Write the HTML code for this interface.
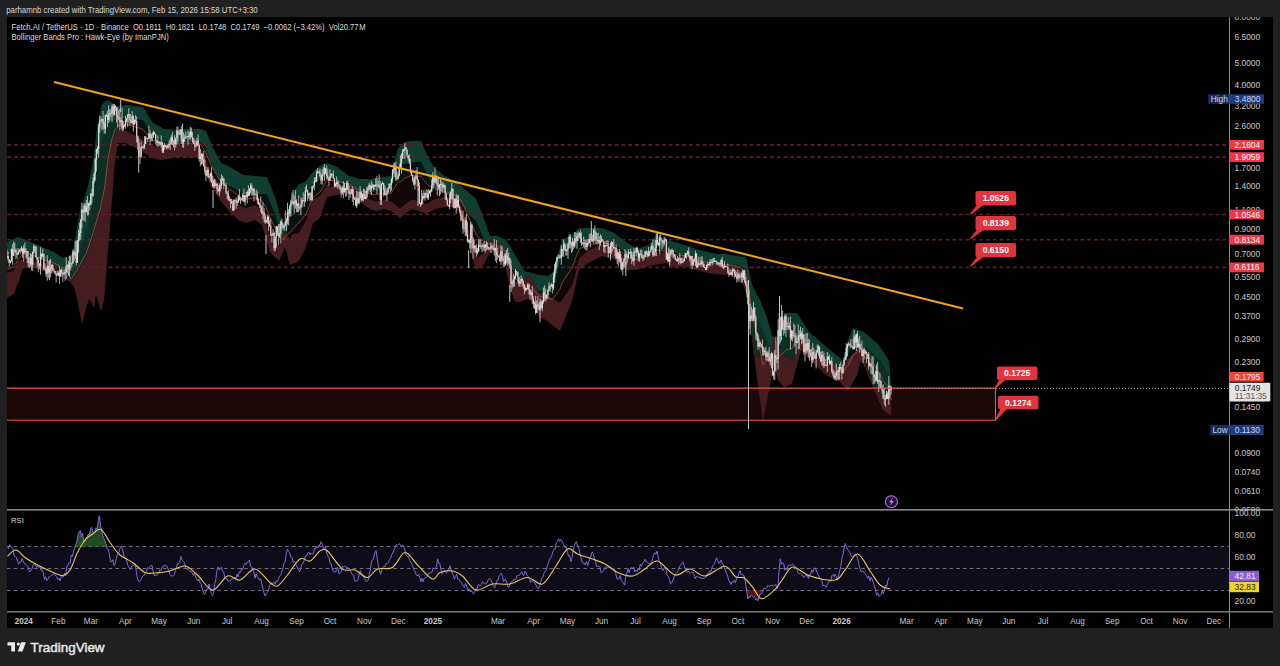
<!DOCTYPE html>
<html><head><meta charset="utf-8"><style>
html,body{margin:0;padding:0;background:#202020;width:1280px;height:666px;overflow:hidden}
svg{display:block}
text{font-family:"Liberation Sans",sans-serif}
</style></head><body>
<svg width="1280" height="666" viewBox="0 0 1280 666">
<rect x="0" y="0" width="1280" height="666" fill="#202020"/>
<rect x="7" y="17" width="1266" height="611" fill="#000"/>
<text x="6.2" y="13.1" font-size="8.3" fill="#d6d6d6" textLength="251.5" lengthAdjust="spacingAndGlyphs">parhamnb created with TradingView.com, Feb 15, 2026 15:58 UTC+3:30</text>
<defs>
<clipPath id="main"><rect x="7" y="17" width="1222" height="493"/></clipPath>
<clipPath id="dk"><rect x="60" y="17" width="60" height="400"/><rect x="745" y="17" width="60" height="400"/><rect x="858" y="17" width="40" height="400"/></clipPath>
<clipPath id="rsi"><rect x="7" y="511" width="1222" height="100"/></clipPath>
<linearGradient id="ob" x1="0" y1="0" x2="0" y2="1"><stop offset="0" stop-color="#4a8a5a" stop-opacity="0.35"/><stop offset="1" stop-color="#2a6a2a" stop-opacity="0.75"/></linearGradient><linearGradient id="os" x1="0" y1="0" x2="0" y2="1"><stop offset="0" stop-color="#8a2020" stop-opacity="0.7"/><stop offset="1" stop-color="#8a2020" stop-opacity="0.2"/></linearGradient>
</defs>
<g clip-path="url(#main)">
<rect x="7" y="388.1" width="988.5" height="32.2" fill="#1c0808"/>
<path d="M7.0,242.0 L7.8,241.7 L8.5,241.3 L9.2,241.0 L10.0,240.6 L10.8,240.3 L11.5,240.0 L12.2,239.6 L13.0,239.3 L13.8,238.9 L14.5,238.6 L15.2,238.2 L16.0,237.9 L16.8,237.6 L17.5,237.2 L18.2,237.1 L19.0,237.4 L19.8,237.7 L20.5,238.0 L21.2,238.3 L22.0,238.6 L22.8,238.9 L23.5,239.2 L24.2,239.5 L25.0,239.8 L25.8,240.1 L26.5,240.4 L27.2,240.7 L28.0,241.0 L28.8,241.3 L29.5,241.6 L30.2,242.0 L31.0,242.3 L31.8,242.6 L32.5,242.9 L33.2,243.2 L34.0,243.6 L34.8,243.9 L35.5,244.2 L36.2,244.5 L37.0,244.9 L37.8,245.2 L38.5,245.5 L39.2,245.8 L40.0,246.1 L40.8,246.5 L41.5,246.8 L42.2,247.1 L43.0,247.4 L43.8,247.7 L44.5,248.0 L45.2,248.4 L46.0,248.7 L46.8,249.0 L47.5,249.3 L48.2,249.6 L49.0,249.9 L49.8,250.2 L50.5,250.5 L51.2,250.9 L52.0,251.2 L52.8,251.5 L53.5,251.8 L54.2,252.2 L55.0,252.7 L55.8,253.2 L56.5,253.7 L57.2,254.2 L58.0,254.7 L58.8,255.2 L59.5,255.7 L60.2,256.2 L61.0,256.7 L61.8,257.2 L62.5,257.7 L63.2,257.9 L64.0,257.7 L64.8,257.5 L65.5,257.3 L66.2,257.1 L67.0,256.9 L67.8,256.6 L68.5,256.4 L69.2,256.2 L70.0,256.0 L70.8,254.5 L71.5,253.0 L72.2,251.5 L73.0,250.0 L73.8,246.0 L74.5,242.0 L75.2,238.0 L76.0,234.0 L76.8,229.5 L77.5,225.0 L78.2,220.5 L79.0,216.0 L79.8,211.5 L80.5,208.6 L81.2,206.5 L82.0,204.4 L82.8,202.3 L83.5,200.2 L84.2,198.1 L85.0,196.0 L85.8,193.5 L86.5,191.0 L87.2,188.5 L88.0,186.0 L88.8,182.6 L89.5,179.2 L90.2,175.9 L91.0,172.5 L91.8,169.1 L92.5,164.3 L93.2,158.8 L94.0,153.3 L94.8,147.8 L95.5,141.0 L96.2,133.5 L97.0,126.0 L97.8,122.7 L98.5,119.4 L99.2,116.1 L100.0,112.8 L100.8,109.5 L101.5,106.2 L102.2,103.8 L103.0,103.3 L103.8,102.8 L104.5,102.3 L105.2,101.8 L106.0,101.3 L106.8,100.8 L107.5,100.3 L108.2,100.2 L109.0,100.7 L109.8,101.2 L110.5,101.7 L111.2,102.2 L112.0,102.7 L112.8,103.2 L113.5,103.7 L114.2,104.2 L115.0,104.7 L115.8,105.2 L116.5,105.7 L117.2,106.0 L118.0,105.9 L118.8,105.8 L119.5,105.7 L120.2,105.6 L121.0,105.6 L121.8,105.5 L122.5,105.4 L123.2,105.3 L124.0,105.2 L124.8,105.1 L125.5,105.1 L126.2,105.0 L127.0,105.1 L127.8,105.2 L128.5,105.3 L129.2,105.4 L130.0,105.5 L130.8,105.6 L131.5,105.6 L132.2,105.7 L133.0,105.8 L133.8,105.9 L134.5,106.0 L135.2,106.1 L136.0,106.2 L136.8,106.3 L137.5,106.4 L138.2,106.4 L139.0,106.5 L139.8,106.6 L140.5,106.7 L141.2,106.8 L142.0,106.9 L142.8,107.0 L143.5,107.8 L144.2,109.1 L145.0,110.3 L145.8,111.6 L146.5,112.8 L147.2,114.1 L148.0,115.3 L148.8,116.6 L149.5,117.8 L150.2,119.1 L151.0,120.3 L151.8,121.6 L152.5,122.3 L153.2,122.7 L154.0,123.2 L154.8,123.6 L155.5,124.0 L156.2,124.5 L157.0,124.9 L157.8,125.4 L158.5,125.8 L159.2,126.2 L160.0,126.7 L160.8,127.1 L161.5,127.5 L162.2,128.0 L163.0,128.4 L163.8,128.9 L164.5,129.0 L165.2,129.1 L166.0,129.1 L166.8,129.2 L167.5,129.2 L168.2,129.3 L169.0,129.4 L169.8,129.4 L170.5,129.5 L171.2,129.5 L172.0,129.6 L172.8,129.6 L173.5,129.7 L174.2,129.7 L175.0,129.8 L175.8,129.8 L176.5,129.9 L177.2,129.9 L178.0,130.0 L178.8,129.9 L179.5,129.8 L180.2,129.8 L181.0,129.7 L181.8,129.6 L182.5,129.6 L183.2,129.5 L184.0,129.4 L184.8,129.3 L185.5,129.2 L186.2,129.2 L187.0,129.1 L187.8,129.0 L188.5,129.0 L189.2,129.0 L190.0,129.0 L190.8,129.0 L191.5,129.0 L192.2,129.0 L193.0,129.0 L193.8,129.0 L194.5,129.0 L195.2,129.0 L196.0,129.0 L196.8,129.0 L197.5,129.0 L198.2,129.0 L199.0,129.0 L199.8,129.0 L200.5,129.0 L201.2,129.1 L202.0,129.4 L202.8,129.7 L203.5,130.0 L204.2,130.3 L205.0,130.6 L205.8,130.9 L206.5,132.2 L207.2,134.0 L208.0,135.8 L208.8,137.5 L209.5,139.3 L210.2,141.1 L211.0,142.9 L211.8,144.7 L212.5,146.4 L213.2,148.2 L214.0,150.0 L214.8,151.4 L215.5,152.8 L216.2,154.2 L217.0,155.6 L217.8,157.0 L218.5,158.4 L219.2,159.8 L220.0,161.1 L220.8,162.5 L221.5,163.2 L222.2,163.6 L223.0,163.9 L223.8,164.2 L224.5,164.6 L225.2,164.9 L226.0,165.3 L226.8,165.6 L227.5,166.0 L228.2,166.3 L229.0,166.6 L229.8,167.0 L230.5,167.3 L231.2,167.7 L232.0,168.0 L232.8,168.5 L233.5,169.0 L234.2,169.4 L235.0,169.9 L235.8,170.4 L236.5,170.9 L237.2,171.3 L238.0,171.8 L238.8,172.3 L239.5,172.8 L240.2,173.2 L241.0,173.7 L241.8,174.2 L242.5,174.7 L243.2,175.0 L244.0,175.1 L244.8,175.1 L245.5,175.2 L246.2,175.3 L247.0,175.3 L247.8,175.4 L248.5,175.5 L249.2,175.5 L250.0,175.6 L250.8,175.6 L251.5,175.7 L252.2,175.8 L253.0,175.8 L253.8,175.9 L254.5,176.0 L255.2,176.0 L256.0,176.1 L256.8,176.1 L257.5,176.2 L258.2,176.3 L259.0,176.3 L259.8,176.4 L260.5,176.5 L261.2,176.5 L262.0,176.6 L262.8,176.6 L263.5,176.7 L264.2,176.8 L265.0,176.8 L265.8,176.9 L266.5,177.0 L267.2,177.6 L268.0,179.6 L268.8,181.5 L269.5,183.4 L270.2,185.3 L271.0,187.2 L271.8,189.1 L272.5,191.1 L273.2,193.0 L274.0,194.9 L274.8,196.8 L275.5,198.7 L276.2,200.9 L277.0,203.8 L277.8,206.6 L278.5,209.4 L279.2,212.2 L280.0,215.0 L280.8,217.8 L281.5,220.6 L282.2,223.4 L283.0,226.2 L283.8,229.1 L284.5,227.5 L285.2,223.8 L286.0,220.0 L286.8,216.2 L287.5,212.5 L288.2,208.8 L289.0,205.0 L289.8,201.2 L290.5,199.1 L291.2,197.7 L292.0,196.2 L292.8,194.8 L293.5,193.4 L294.2,192.0 L295.0,190.6 L295.8,189.2 L296.5,187.8 L297.2,186.4 L298.0,185.0 L298.8,184.6 L299.5,184.2 L300.2,183.9 L301.0,183.5 L301.8,183.1 L302.5,182.8 L303.2,182.4 L304.0,182.0 L304.8,181.6 L305.5,181.2 L306.2,180.7 L307.0,179.7 L307.8,178.8 L308.5,177.8 L309.2,176.8 L310.0,175.9 L310.8,174.9 L311.5,173.9 L312.2,173.0 L313.0,172.0 L313.8,171.4 L314.5,170.7 L315.2,170.1 L316.0,169.4 L316.8,168.8 L317.5,168.1 L318.2,167.5 L319.0,166.9 L319.8,166.2 L320.5,165.8 L321.2,165.5 L322.0,165.1 L322.8,164.8 L323.5,164.5 L324.2,164.2 L325.0,163.9 L325.8,163.5 L326.5,163.2 L327.2,163.1 L328.0,163.4 L328.8,163.7 L329.5,164.0 L330.2,164.3 L331.0,164.6 L331.8,164.9 L332.5,165.2 L333.2,165.5 L334.0,165.8 L334.8,166.1 L335.5,166.4 L336.2,166.7 L337.0,167.0 L337.8,167.6 L338.5,168.1 L339.2,168.7 L340.0,169.2 L340.8,169.8 L341.5,170.4 L342.2,170.9 L343.0,171.5 L343.8,172.1 L344.5,172.6 L345.2,173.2 L346.0,173.8 L346.8,174.3 L347.5,174.9 L348.2,175.4 L349.0,176.0 L349.8,176.2 L350.5,176.4 L351.2,176.6 L352.0,176.8 L352.8,177.0 L353.5,177.2 L354.2,177.4 L355.0,177.6 L355.8,177.8 L356.5,178.0 L357.2,178.2 L358.0,178.5 L358.8,178.7 L359.5,178.9 L360.2,179.0 L361.0,179.0 L361.8,179.0 L362.5,179.0 L363.2,179.0 L364.0,179.0 L364.8,179.0 L365.5,179.0 L366.2,179.0 L367.0,179.0 L367.8,179.0 L368.5,179.0 L369.2,179.0 L370.0,179.0 L370.8,178.9 L371.5,178.8 L372.2,178.7 L373.0,178.6 L373.8,178.5 L374.5,178.4 L375.2,178.2 L376.0,178.1 L376.8,178.0 L377.5,177.9 L378.2,177.8 L379.0,177.7 L379.8,177.6 L380.5,177.5 L381.2,177.4 L382.0,177.3 L382.8,177.2 L383.5,177.1 L384.2,177.0 L385.0,176.9 L385.8,176.8 L386.5,176.6 L387.2,176.5 L388.0,176.4 L388.8,176.3 L389.5,176.2 L390.2,176.1 L391.0,176.0 L391.8,173.0 L392.5,170.0 L393.2,167.0 L394.0,164.0 L394.8,161.0 L395.5,158.0 L396.2,155.0 L397.0,152.0 L397.8,149.0 L398.5,147.6 L399.2,146.9 L400.0,146.3 L400.8,145.6 L401.5,145.0 L402.2,144.4 L403.0,143.7 L403.8,143.1 L404.5,142.4 L405.2,142.0 L406.0,141.9 L406.8,141.8 L407.5,141.6 L408.2,141.5 L409.0,141.4 L409.8,141.3 L410.5,141.2 L411.2,141.1 L412.0,141.0 L412.8,141.0 L413.5,141.0 L414.2,141.0 L415.0,141.0 L415.8,141.0 L416.5,141.0 L417.2,141.0 L418.0,141.0 L418.8,141.0 L419.5,141.0 L420.2,141.0 L421.0,141.0 L421.8,142.7 L422.5,144.4 L423.2,146.1 L424.0,147.9 L424.8,149.6 L425.5,151.3 L426.2,153.0 L427.0,154.7 L427.8,156.4 L428.5,157.9 L429.2,159.1 L430.0,160.4 L430.8,161.7 L431.5,163.0 L432.2,164.3 L433.0,165.6 L433.8,166.9 L434.5,168.1 L435.2,169.2 L436.0,169.7 L436.8,170.2 L437.5,170.8 L438.2,171.3 L439.0,171.8 L439.8,172.3 L440.5,172.8 L441.2,173.4 L442.0,173.9 L442.8,174.4 L443.5,174.9 L444.2,175.5 L445.0,176.0 L445.8,176.4 L446.5,176.8 L447.2,177.2 L448.0,177.7 L448.8,178.1 L449.5,178.5 L450.2,178.9 L451.0,179.3 L451.8,179.8 L452.5,180.2 L453.2,180.6 L454.0,181.0 L454.8,181.5 L455.5,182.1 L456.2,182.6 L457.0,183.1 L457.8,183.7 L458.5,184.2 L459.2,184.8 L460.0,185.3 L460.8,185.8 L461.5,186.4 L462.2,187.1 L463.0,187.7 L463.8,188.4 L464.5,189.0 L465.2,189.6 L466.0,190.3 L466.8,190.9 L467.5,191.6 L468.2,192.2 L469.0,192.9 L469.8,193.5 L470.5,194.2 L471.2,194.8 L472.0,195.5 L472.8,196.2 L473.5,196.8 L474.2,197.5 L475.0,198.1 L475.8,198.8 L476.5,200.2 L477.2,202.0 L478.0,203.9 L478.8,205.7 L479.5,207.5 L480.2,209.3 L481.0,211.1 L481.8,213.0 L482.5,214.8 L483.2,216.7 L484.0,218.9 L484.8,221.0 L485.5,223.1 L486.2,225.3 L487.0,227.4 L487.8,229.6 L488.5,231.7 L489.2,233.9 L490.0,236.0 L490.8,236.0 L491.5,236.0 L492.2,236.0 L493.0,236.0 L493.8,236.0 L494.5,236.0 L495.2,236.0 L496.0,236.0 L496.8,236.0 L497.5,236.2 L498.2,236.6 L499.0,236.9 L499.8,237.2 L500.5,237.6 L501.2,237.9 L502.0,238.2 L502.8,238.6 L503.5,238.9 L504.2,239.2 L505.0,239.6 L505.8,239.9 L506.5,240.8 L507.2,242.1 L508.0,243.3 L508.8,244.6 L509.5,245.8 L510.2,247.1 L511.0,248.3 L511.8,249.6 L512.5,250.8 L513.2,252.0 L514.0,253.2 L514.8,254.5 L515.5,255.7 L516.2,256.9 L517.0,258.1 L517.8,259.3 L518.5,260.6 L519.2,261.8 L520.0,263.0 L520.8,264.5 L521.5,266.0 L522.2,267.5 L523.0,269.0 L523.8,270.5 L524.5,271.1 L525.2,271.3 L526.0,271.5 L526.8,271.7 L527.5,271.9 L528.2,272.1 L529.0,272.3 L529.8,272.5 L530.5,272.7 L531.2,272.9 L532.0,273.1 L532.8,273.3 L533.5,273.5 L534.2,273.7 L535.0,273.9 L535.8,274.1 L536.5,274.3 L537.2,274.5 L538.0,274.7 L538.8,274.9 L539.5,275.1 L540.2,275.1 L541.0,275.2 L541.8,275.3 L542.5,275.4 L543.2,275.5 L544.0,275.6 L544.8,275.6 L545.5,275.7 L546.2,275.8 L547.0,275.9 L547.8,276.0 L548.5,275.6 L549.2,275.0 L550.0,274.4 L550.8,273.8 L551.5,273.2 L552.2,272.6 L553.0,272.0 L553.8,269.3 L554.5,266.7 L555.2,264.0 L556.0,261.3 L556.8,258.7 L557.5,256.0 L558.2,253.3 L559.0,250.7 L559.8,248.0 L560.5,245.3 L561.2,242.7 L562.0,240.0 L562.8,239.6 L563.5,239.2 L564.2,238.9 L565.0,238.5 L565.8,238.1 L566.5,237.8 L567.2,237.4 L568.0,237.0 L568.8,236.6 L569.5,236.2 L570.2,235.9 L571.0,235.5 L571.8,235.1 L572.5,234.5 L573.2,233.8 L574.0,233.0 L574.8,232.2 L575.5,231.5 L576.2,230.8 L577.0,230.0 L577.8,229.2 L578.5,228.5 L579.2,228.0 L580.0,228.0 L580.8,228.0 L581.5,228.0 L582.2,228.0 L583.0,228.0 L583.8,228.0 L584.5,228.0 L585.2,228.0 L586.0,228.0 L586.8,228.0 L587.5,228.0 L588.2,228.0 L589.0,228.0 L589.8,228.0 L590.5,228.0 L591.2,228.0 L592.0,228.0 L592.8,228.0 L593.5,228.0 L594.2,228.0 L595.0,228.0 L595.8,228.0 L596.5,228.0 L597.2,228.0 L598.0,228.0 L598.8,228.0 L599.5,228.0 L600.2,228.0 L601.0,228.0 L601.8,228.0 L602.5,228.2 L603.2,228.5 L604.0,228.8 L604.8,229.1 L605.5,229.5 L606.2,229.8 L607.0,230.1 L607.8,230.4 L608.5,230.7 L609.2,231.0 L610.0,231.3 L610.8,231.6 L611.5,232.0 L612.2,232.3 L613.0,232.6 L613.8,232.9 L614.5,233.4 L615.2,233.9 L616.0,234.5 L616.8,235.1 L617.5,235.6 L618.2,236.2 L619.0,236.8 L619.8,237.3 L620.5,237.9 L621.2,238.4 L622.0,239.0 L622.8,239.6 L623.5,240.1 L624.2,240.7 L625.0,241.2 L625.8,241.8 L626.5,242.3 L627.2,242.8 L628.0,243.3 L628.8,243.8 L629.5,244.2 L630.2,244.7 L631.0,245.2 L631.8,245.7 L632.5,246.1 L633.2,246.6 L634.0,247.1 L634.8,247.6 L635.5,248.0 L636.2,248.5 L637.0,249.0 L637.8,248.8 L638.5,248.5 L639.2,248.2 L640.0,248.0 L640.8,247.8 L641.5,247.5 L642.2,247.2 L643.0,247.0 L643.8,246.8 L644.5,246.5 L645.2,246.2 L646.0,246.0 L646.8,245.8 L647.5,245.5 L648.2,245.2 L649.0,245.0 L649.8,243.9 L650.5,242.9 L651.2,241.8 L652.0,240.7 L652.8,239.6 L653.5,238.6 L654.2,237.5 L655.0,236.4 L655.8,235.4 L656.5,235.2 L657.2,235.6 L658.0,236.0 L658.8,236.4 L659.5,236.8 L660.2,237.1 L661.0,237.5 L661.8,237.9 L662.5,238.2 L663.2,238.6 L664.0,239.0 L664.8,239.4 L665.5,239.8 L666.2,240.1 L667.0,240.2 L667.8,240.4 L668.5,240.6 L669.2,240.7 L670.0,240.9 L670.8,241.1 L671.5,241.2 L672.2,241.4 L673.0,241.6 L673.8,241.7 L674.5,241.9 L675.2,242.1 L676.0,242.3 L676.8,242.6 L677.5,242.8 L678.2,243.1 L679.0,243.3 L679.8,243.6 L680.5,243.8 L681.2,244.1 L682.0,244.3 L682.8,244.6 L683.5,244.8 L684.2,245.1 L685.0,245.3 L685.8,245.6 L686.5,245.8 L687.2,246.1 L688.0,246.3 L688.8,246.6 L689.5,246.8 L690.2,247.1 L691.0,247.3 L691.8,247.6 L692.5,247.8 L693.2,248.1 L694.0,248.3 L694.8,248.6 L695.5,248.8 L696.2,249.1 L697.0,249.2 L697.8,249.4 L698.5,249.6 L699.2,249.8 L700.0,250.0 L700.8,250.2 L701.5,250.4 L702.2,250.6 L703.0,250.8 L703.8,250.9 L704.5,251.1 L705.2,251.3 L706.0,251.5 L706.8,251.7 L707.5,251.9 L708.2,252.1 L709.0,252.2 L709.8,252.4 L710.5,252.6 L711.2,252.7 L712.0,252.9 L712.8,253.1 L713.5,253.2 L714.2,253.4 L715.0,253.6 L715.8,253.7 L716.5,253.9 L717.2,254.0 L718.0,254.0 L718.8,254.0 L719.5,254.0 L720.2,254.0 L721.0,254.0 L721.8,254.0 L722.5,254.0 L723.2,254.0 L724.0,254.0 L724.8,254.0 L725.5,254.0 L726.2,254.0 L727.0,254.0 L727.8,254.2 L728.5,254.3 L729.2,254.5 L730.0,254.7 L730.8,254.8 L731.5,255.0 L732.2,255.2 L733.0,255.3 L733.8,255.5 L734.5,255.7 L735.2,255.8 L736.0,256.0 L736.8,256.1 L737.5,256.1 L738.2,256.2 L739.0,256.3 L739.8,256.4 L740.5,256.4 L741.2,256.5 L742.0,256.6 L742.8,256.7 L743.5,256.8 L744.2,256.8 L745.0,256.9 L745.8,257.0 L746.5,259.3 L747.2,262.8 L748.0,266.3 L748.8,269.8 L749.5,273.3 L750.2,276.8 L751.0,280.3 L751.8,283.8 L752.5,285.9 L753.2,287.3 L754.0,288.8 L754.8,290.2 L755.5,291.6 L756.2,293.0 L757.0,294.4 L757.8,295.8 L758.5,297.2 L759.2,298.6 L760.0,300.0 L760.8,301.9 L761.5,303.9 L762.2,305.8 L763.0,307.7 L763.8,309.6 L764.5,311.6 L765.2,313.5 L766.0,315.4 L766.8,317.4 L767.5,319.7 L768.2,322.2 L769.0,324.7 L769.8,327.2 L770.5,329.7 L771.2,332.2 L772.0,334.7 L772.8,337.2 L773.5,339.7 L774.2,342.2 L775.0,344.7 L775.8,347.2 L776.5,345.0 L777.2,340.5 L778.0,336.0 L778.8,331.5 L779.5,328.8 L780.2,327.0 L781.0,325.1 L781.8,323.3 L782.5,321.5 L783.2,319.7 L784.0,317.9 L784.8,316.0 L785.5,314.2 L786.2,313.0 L787.0,313.0 L787.8,313.0 L788.5,313.0 L789.2,313.0 L790.0,313.0 L790.8,313.0 L791.5,313.0 L792.2,313.0 L793.0,313.0 L793.8,313.0 L794.5,313.0 L795.2,313.0 L796.0,313.0 L796.8,313.0 L797.5,313.8 L798.2,315.0 L799.0,316.2 L799.8,317.4 L800.5,318.5 L801.2,319.7 L802.0,320.9 L802.8,322.1 L803.5,323.3 L804.2,324.5 L805.0,325.7 L805.8,326.9 L806.5,328.0 L807.2,329.2 L808.0,330.4 L808.8,331.6 L809.5,332.4 L810.2,333.1 L811.0,333.7 L811.8,334.4 L812.5,335.0 L813.2,335.7 L814.0,336.3 L814.8,337.0 L815.5,337.6 L816.2,338.3 L817.0,338.9 L817.8,339.6 L818.5,340.2 L819.2,340.9 L820.0,341.5 L820.8,342.2 L821.5,342.8 L822.2,343.5 L823.0,344.1 L823.8,344.8 L824.5,345.4 L825.2,346.0 L826.0,346.6 L826.8,347.2 L827.5,347.8 L828.2,348.4 L829.0,349.0 L829.8,349.6 L830.5,350.2 L831.2,350.8 L832.0,351.4 L832.8,352.0 L833.5,352.6 L834.2,353.2 L835.0,353.8 L835.8,354.4 L836.5,355.0 L837.2,355.6 L838.0,356.2 L838.8,356.8 L839.5,357.6 L840.2,358.6 L841.0,359.5 L841.8,360.4 L842.5,361.4 L843.2,360.6 L844.0,356.3 L844.8,352.1 L845.5,347.8 L846.2,344.4 L847.0,342.6 L847.8,340.8 L848.5,338.9 L849.2,337.1 L850.0,335.3 L850.8,333.5 L851.5,331.6 L852.2,329.8 L853.0,328.0 L853.8,328.3 L854.5,328.5 L855.2,328.8 L856.0,329.1 L856.8,329.4 L857.5,329.6 L858.2,329.9 L859.0,330.2 L859.8,330.5 L860.5,330.7 L861.2,331.0 L862.0,331.3 L862.8,331.5 L863.5,331.8 L864.2,332.2 L865.0,332.9 L865.8,333.5 L866.5,334.2 L867.2,334.8 L868.0,335.5 L868.8,336.1 L869.5,336.8 L870.2,337.4 L871.0,338.1 L871.8,338.7 L872.5,339.4 L873.2,340.0 L874.0,340.7 L874.8,341.3 L875.5,342.0 L876.2,342.6 L877.0,343.3 L877.8,343.9 L878.5,344.6 L879.2,345.4 L880.0,346.6 L880.8,347.8 L881.5,349.0 L882.2,350.2 L883.0,351.4 L883.8,352.6 L884.5,353.8 L885.2,355.0 L886.0,356.2 L886.8,357.4 L887.5,358.6 L888.2,359.8 L889.0,361.0 L889.8,369.6 L890.5,378.2 L891.2,384.0 L891.2,400.0 L890.5,396.9 L889.8,392.3 L889.0,387.8 L888.2,386.9 L887.5,386.0 L886.8,385.1 L886.0,384.2 L885.2,383.3 L884.5,382.5 L883.8,381.6 L883.0,380.7 L882.2,379.3 L881.5,377.8 L880.8,376.4 L880.0,374.9 L879.2,373.5 L878.5,372.2 L877.8,371.1 L877.0,369.9 L876.2,368.7 L875.5,367.5 L874.8,366.4 L874.0,365.1 L873.2,363.9 L872.5,362.6 L871.8,361.4 L871.0,360.1 L870.2,358.9 L869.5,357.7 L868.8,356.4 L868.0,355.2 L867.2,353.9 L866.5,352.7 L865.8,351.5 L865.0,350.4 L864.2,349.4 L863.5,348.4 L862.8,347.5 L862.0,346.6 L861.2,345.8 L860.5,346.3 L859.8,347.6 L859.0,348.8 L858.2,350.1 L857.5,351.4 L856.8,352.4 L856.0,352.9 L855.2,353.5 L854.5,354.0 L853.8,354.5 L853.0,355.1 L852.2,356.6 L851.5,358.2 L850.8,359.8 L850.0,361.4 L849.2,362.9 L848.5,364.5 L847.8,365.7 L847.0,366.2 L846.2,366.7 L845.5,368.0 L844.8,369.7 L844.0,371.4 L843.2,373.1 L842.5,373.1 L841.8,372.2 L841.0,371.3 L840.2,370.4 L839.5,369.7 L838.8,369.1 L838.0,368.6 L837.2,368.1 L836.5,367.6 L835.8,367.1 L835.0,366.6 L834.2,366.2 L833.5,365.7 L832.8,365.2 L832.0,364.7 L831.2,364.2 L830.5,363.7 L829.8,363.2 L829.0,362.8 L828.2,362.3 L827.5,361.8 L826.8,361.3 L826.0,360.8 L825.2,360.1 L824.5,359.5 L823.8,358.8 L823.0,358.2 L822.2,357.5 L821.5,356.8 L820.8,356.1 L820.0,355.5 L819.2,354.8 L818.5,354.1 L817.8,353.4 L817.0,352.7 L816.2,352.1 L815.5,351.4 L814.8,350.7 L814.0,350.0 L813.2,349.4 L812.5,348.7 L811.8,348.0 L811.0,347.3 L810.2,346.7 L809.5,345.9 L808.8,345.1 L808.0,344.1 L807.2,343.1 L806.5,342.1 L805.8,341.1 L805.0,340.1 L804.2,339.0 L803.5,338.0 L802.8,337.0 L802.0,336.0 L801.2,335.0 L800.5,335.2 L799.8,336.0 L799.0,336.9 L798.2,337.7 L797.5,338.5 L796.8,339.5 L796.0,340.9 L795.2,342.4 L794.5,343.8 L793.8,345.2 L793.0,346.6 L792.2,348.0 L791.5,348.6 L790.8,348.7 L790.0,348.9 L789.2,349.0 L788.5,349.2 L787.8,349.3 L787.0,349.4 L786.2,349.6 L785.5,350.3 L784.8,351.4 L784.0,352.4 L783.2,352.9 L782.5,353.4 L781.8,353.8 L781.0,354.3 L780.2,354.8 L779.5,355.3 L778.8,356.2 L778.0,358.0 L777.2,358.8 L776.5,359.5 L775.8,359.1 L775.0,356.3 L774.2,353.6 L773.5,353.2 L772.8,353.9 L772.0,354.6 L771.2,355.3 L770.5,356.1 L769.8,356.8 L769.0,357.5 L768.2,358.2 L767.5,359.0 L766.8,359.8 L766.0,360.8 L765.2,361.8 L764.5,362.8 L763.8,363.8 L763.0,364.9 L762.2,361.1 L761.5,357.3 L760.8,353.6 L760.0,349.8 L759.2,346.3 L758.5,342.8 L757.8,339.3 L757.0,335.8 L756.2,332.3 L755.5,328.8 L754.8,325.3 L754.0,321.8 L753.2,318.3 L752.5,314.8 L751.8,310.7 L751.0,305.2 L750.2,299.7 L749.5,294.2 L748.8,288.7 L748.0,283.2 L747.2,280.2 L746.5,277.3 L745.8,274.9 L745.0,273.7 L744.2,272.5 L743.5,271.2 L742.8,270.0 L742.0,268.8 L741.2,268.5 L740.5,268.2 L739.8,267.9 L739.0,267.6 L738.2,267.4 L737.5,267.1 L736.8,266.8 L736.0,266.5 L735.2,266.3 L734.5,266.2 L733.8,266.0 L733.0,265.8 L732.2,265.7 L731.5,265.5 L730.8,265.3 L730.0,265.2 L729.2,265.0 L728.5,264.8 L727.8,264.7 L727.0,264.5 L726.2,264.5 L725.5,264.4 L724.8,264.4 L724.0,264.3 L723.2,264.3 L722.5,264.3 L721.8,264.2 L721.0,264.2 L720.2,264.1 L719.5,264.1 L718.8,264.1 L718.0,264.0 L717.2,264.0 L716.5,263.9 L715.8,263.8 L715.0,263.6 L714.2,263.5 L713.5,263.4 L712.8,263.3 L712.0,263.2 L711.2,263.0 L710.5,262.9 L709.8,262.8 L709.0,262.7 L708.2,262.5 L707.5,262.4 L706.8,262.2 L706.0,262.0 L705.2,261.8 L704.5,261.6 L703.8,261.4 L703.0,261.2 L702.2,261.1 L701.5,260.9 L700.8,260.7 L700.0,260.5 L699.2,260.3 L698.5,260.1 L697.8,259.9 L697.0,259.8 L696.2,259.6 L695.5,259.3 L694.8,259.1 L694.0,258.8 L693.2,258.6 L692.5,258.3 L691.8,258.1 L691.0,257.8 L690.2,257.6 L689.5,257.3 L688.8,257.1 L688.0,256.8 L687.2,256.6 L686.5,256.3 L685.8,256.1 L685.0,255.8 L684.2,255.6 L683.5,255.5 L682.8,255.4 L682.0,255.4 L681.2,255.3 L680.5,255.3 L679.8,255.3 L679.0,255.2 L678.2,255.2 L677.5,255.1 L676.8,255.1 L676.0,255.1 L675.2,255.0 L674.5,254.8 L673.8,254.5 L673.0,254.2 L672.2,253.9 L671.5,253.6 L670.8,253.3 L670.0,253.1 L669.2,252.8 L668.5,252.5 L667.8,252.2 L667.0,251.9 L666.2,251.6 L665.5,251.4 L664.8,251.3 L664.0,251.2 L663.2,251.1 L662.5,250.9 L661.8,250.8 L661.0,250.7 L660.2,250.6 L659.5,250.4 L658.8,250.3 L658.0,250.2 L657.2,250.1 L656.5,250.0 L655.8,250.1 L655.0,250.7 L654.2,251.3 L653.5,251.9 L652.8,252.5 L652.0,253.1 L651.2,253.7 L650.5,254.3 L649.8,254.9 L649.0,255.5 L648.2,255.8 L647.5,256.0 L646.8,256.2 L646.0,256.5 L645.2,256.8 L644.5,257.0 L643.8,257.2 L643.0,257.5 L642.2,257.8 L641.5,258.0 L640.8,258.2 L640.0,258.5 L639.2,258.8 L638.5,259.0 L637.8,259.2 L637.0,259.5 L636.2,259.3 L635.5,259.0 L634.8,258.8 L634.0,258.5 L633.2,258.3 L632.5,258.1 L631.8,257.8 L631.0,257.6 L630.2,257.4 L629.5,257.1 L628.8,256.9 L628.0,256.6 L627.2,256.4 L626.5,256.2 L625.8,255.8 L625.0,255.2 L624.2,254.5 L623.5,253.9 L622.8,253.3 L622.0,252.7 L621.2,252.0 L620.5,251.4 L619.8,250.8 L619.0,250.2 L618.2,249.5 L617.5,248.9 L616.8,248.3 L616.0,247.7 L615.2,247.0 L614.5,246.4 L613.8,245.9 L613.0,245.7 L612.2,245.4 L611.5,245.2 L610.8,244.9 L610.0,244.7 L609.2,244.4 L608.5,244.2 L607.8,243.9 L607.0,243.7 L606.2,243.4 L605.5,243.2 L604.8,242.9 L604.0,242.7 L603.2,242.4 L602.5,242.2 L601.8,242.1 L601.0,242.2 L600.2,242.4 L599.5,242.6 L598.8,242.8 L598.0,243.0 L597.2,243.2 L596.5,243.4 L595.8,243.6 L595.0,243.8 L594.2,243.9 L593.5,244.1 L592.8,244.3 L592.0,244.5 L591.2,244.7 L590.5,244.9 L589.8,245.1 L589.0,245.2 L588.2,245.4 L587.5,245.7 L586.8,246.0 L586.0,246.3 L585.2,246.6 L584.5,246.9 L583.8,247.2 L583.0,247.4 L582.2,247.7 L581.5,248.0 L580.8,248.3 L580.0,248.6 L579.2,248.9 L578.5,250.4 L577.8,252.4 L577.0,254.4 L576.2,256.5 L575.5,258.5 L574.8,260.5 L574.0,262.6 L573.2,264.6 L572.5,266.6 L571.8,268.4 L571.0,269.5 L570.2,270.6 L569.5,271.8 L568.8,272.9 L568.0,274.0 L567.2,275.1 L566.5,276.2 L565.8,277.4 L565.0,278.5 L564.2,279.6 L563.5,280.8 L562.8,281.9 L562.0,283.0 L561.2,285.3 L560.5,287.5 L559.8,289.4 L559.0,290.4 L558.2,291.5 L557.5,292.5 L556.8,293.6 L556.0,294.6 L555.2,295.6 L554.5,296.7 L553.8,297.7 L553.0,298.8 L552.2,298.8 L551.5,298.8 L550.8,298.8 L550.0,298.8 L549.2,298.8 L548.5,298.8 L547.8,298.7 L547.0,298.3 L546.2,298.0 L545.5,297.8 L544.8,297.6 L544.0,297.3 L543.2,297.1 L542.5,296.9 L541.8,296.7 L541.0,296.5 L540.2,296.3 L539.5,296.1 L538.8,295.7 L538.0,294.8 L537.2,293.9 L536.5,293.0 L535.8,292.1 L535.0,291.2 L534.2,290.4 L533.5,289.5 L532.8,288.6 L532.0,287.7 L531.2,286.8 L530.5,285.9 L529.8,285.3 L529.0,285.4 L528.2,285.4 L527.5,285.5 L526.8,285.5 L526.0,285.6 L525.2,285.6 L524.5,285.7 L523.8,285.5 L523.0,284.9 L522.2,284.3 L521.5,283.7 L520.8,283.1 L520.0,282.5 L519.2,281.9 L518.5,281.3 L517.8,280.7 L517.0,280.1 L516.2,279.5 L515.5,278.8 L514.8,277.9 L514.0,276.2 L513.2,274.5 L512.5,272.9 L511.8,271.2 L511.0,269.5 L510.2,267.8 L509.5,266.1 L508.8,264.1 L508.0,261.3 L507.2,258.5 L506.5,255.7 L505.8,253.1 L505.0,250.8 L504.2,250.3 L503.5,249.8 L502.8,249.3 L502.0,248.8 L501.2,248.3 L500.5,247.8 L499.8,247.3 L499.0,246.8 L498.2,246.3 L497.5,245.8 L496.8,245.4 L496.0,245.3 L495.2,245.1 L494.5,245.0 L493.8,244.8 L493.0,244.6 L492.2,244.5 L491.5,244.3 L490.8,244.2 L490.0,244.0 L489.2,243.7 L488.5,243.4 L487.8,243.0 L487.0,242.7 L486.2,242.4 L485.5,242.1 L484.8,241.8 L484.0,241.4 L483.2,241.1 L482.5,240.5 L481.8,239.8 L481.0,239.1 L480.2,238.4 L479.5,237.8 L478.8,237.1 L478.0,236.4 L477.2,235.7 L476.5,235.0 L475.8,233.9 L475.0,232.2 L474.2,230.5 L473.5,228.7 L472.8,227.0 L472.0,225.2 L471.2,223.5 L470.5,221.8 L469.8,220.0 L469.0,218.3 L468.2,216.6 L467.5,214.9 L466.8,213.1 L466.0,211.4 L465.2,209.7 L464.5,208.0 L463.8,206.3 L463.0,204.6 L462.2,202.9 L461.5,201.1 L460.8,199.8 L460.0,199.1 L459.2,198.5 L458.5,197.9 L457.8,197.2 L457.0,196.6 L456.2,195.9 L455.5,195.3 L454.8,194.6 L454.0,194.0 L453.2,193.8 L452.5,193.6 L451.8,193.4 L451.0,193.2 L450.2,193.0 L449.5,192.8 L448.8,192.5 L448.0,192.3 L447.2,192.1 L446.5,191.9 L445.8,191.7 L445.0,191.5 L444.2,191.3 L443.5,191.1 L442.8,190.9 L442.0,190.8 L441.2,190.6 L440.5,190.4 L439.8,190.2 L439.0,190.0 L438.2,189.8 L437.5,189.6 L436.8,189.4 L436.0,189.2 L435.2,189.1 L434.5,188.7 L433.8,188.3 L433.0,187.8 L432.2,187.4 L431.5,187.0 L430.8,186.5 L430.0,186.1 L429.2,185.7 L428.5,185.2 L427.8,184.7 L427.0,184.1 L426.2,183.4 L425.5,182.5 L424.8,181.5 L424.0,180.5 L423.2,179.5 L422.5,178.5 L421.8,177.4 L421.0,176.4 L420.2,176.3 L419.5,176.1 L418.8,176.0 L418.0,175.9 L417.2,175.8 L416.5,175.6 L415.8,175.5 L415.0,175.4 L414.2,175.3 L413.5,175.2 L412.8,175.1 L412.0,175.0 L411.2,175.3 L410.5,175.6 L409.8,176.0 L409.0,176.3 L408.2,176.6 L407.5,176.9 L406.8,177.2 L406.0,177.6 L405.2,177.9 L404.5,178.4 L403.8,179.0 L403.0,179.7 L402.2,180.3 L401.5,180.9 L400.8,181.5 L400.0,182.1 L399.2,182.2 L398.5,182.2 L397.8,182.6 L397.0,183.8 L396.2,185.0 L395.5,186.2 L394.8,187.5 L394.0,188.7 L393.2,189.9 L392.5,191.1 L391.8,192.3 L391.0,193.5 L390.2,193.4 L389.5,193.4 L388.8,193.3 L388.0,193.3 L387.2,193.2 L386.5,193.2 L385.8,193.1 L385.0,193.1 L384.2,193.0 L383.5,193.1 L382.8,193.3 L382.0,193.4 L381.2,193.6 L380.5,193.8 L379.8,193.9 L379.0,194.1 L378.2,194.2 L377.5,194.4 L376.8,194.5 L376.0,194.4 L375.2,194.4 L374.5,194.3 L373.8,194.3 L373.0,194.2 L372.2,194.2 L371.5,194.1 L370.8,194.1 L370.0,194.0 L369.2,193.7 L368.5,193.5 L367.8,193.2 L367.0,192.9 L366.2,192.7 L365.5,192.4 L364.8,192.2 L364.0,191.9 L363.2,191.6 L362.5,191.4 L361.8,191.1 L361.0,190.8 L360.2,190.6 L359.5,190.2 L358.8,189.8 L358.0,189.4 L357.2,189.0 L356.5,188.6 L355.8,188.2 L355.0,187.8 L354.2,187.4 L353.5,187.0 L352.8,186.5 L352.0,186.1 L351.2,185.7 L350.5,185.3 L349.8,184.9 L349.0,184.5 L348.2,184.3 L347.5,184.1 L346.8,183.8 L346.0,183.6 L345.2,183.4 L344.5,183.2 L343.8,183.0 L343.0,182.8 L342.2,182.5 L341.5,182.3 L340.8,182.1 L340.0,181.9 L339.2,181.7 L338.5,181.4 L337.8,181.2 L337.0,181.0 L336.2,180.9 L335.5,180.9 L334.8,180.8 L334.0,180.7 L333.2,180.6 L332.5,180.6 L331.8,180.5 L331.0,180.4 L330.2,180.3 L329.5,180.2 L328.8,180.2 L328.0,180.1 L327.2,180.0 L326.5,180.9 L325.8,182.1 L325.0,183.4 L324.2,184.7 L323.5,186.0 L322.8,187.3 L322.0,188.6 L321.2,189.9 L320.5,191.1 L319.8,192.2 L319.0,192.8 L318.2,193.4 L317.5,194.0 L316.8,194.6 L316.0,195.1 L315.2,195.7 L314.5,196.3 L313.8,196.9 L313.0,197.5 L312.2,199.3 L311.5,201.0 L310.8,202.8 L310.0,204.6 L309.2,206.3 L308.5,208.1 L307.8,209.9 L307.0,211.6 L306.2,213.4 L305.5,214.6 L304.8,215.6 L304.0,216.5 L303.2,217.4 L302.5,218.4 L301.8,219.3 L301.0,220.2 L300.2,221.2 L299.5,222.1 L298.8,222.9 L298.0,223.2 L297.2,224.1 L296.5,225.0 L295.8,225.8 L295.0,226.7 L294.2,227.6 L293.5,228.4 L292.8,229.3 L292.0,230.2 L291.2,231.1 L290.5,231.9 L289.8,232.7 L289.0,233.2 L288.2,233.7 L287.5,234.2 L286.8,234.8 L286.0,235.3 L285.2,235.8 L284.5,237.8 L283.8,239.5 L283.0,239.0 L282.2,238.4 L281.5,237.9 L280.8,237.4 L280.0,236.8 L279.2,236.3 L278.5,234.9 L277.8,233.2 L277.0,231.4 L276.2,229.6 L275.5,228.1 L274.8,226.8 L274.0,225.4 L273.2,224.1 L272.5,222.8 L271.8,221.4 L271.0,220.1 L270.2,218.8 L269.5,216.9 L268.8,214.6 L268.0,212.4 L267.2,210.2 L266.5,208.6 L265.8,207.3 L265.0,206.0 L264.2,204.7 L263.5,203.4 L262.8,202.1 L262.0,200.8 L261.2,200.5 L260.5,200.2 L259.8,199.9 L259.0,199.6 L258.2,199.3 L257.5,199.0 L256.8,198.7 L256.0,198.4 L255.2,198.1 L254.5,198.1 L253.8,198.2 L253.0,198.2 L252.2,198.3 L251.5,198.4 L250.8,198.5 L250.0,198.6 L249.2,198.7 L248.5,198.8 L247.8,198.9 L247.0,199.0 L246.2,199.1 L245.5,199.0 L244.8,198.9 L244.0,198.7 L243.2,198.6 L242.5,198.3 L241.8,197.9 L241.0,197.5 L240.2,197.2 L239.5,196.7 L238.8,196.1 L238.0,195.5 L237.2,194.9 L236.5,194.4 L235.8,193.8 L235.0,193.2 L234.2,192.6 L233.5,192.1 L232.8,191.5 L232.0,190.9 L231.2,190.4 L230.5,189.9 L229.8,189.3 L229.0,188.7 L228.2,188.1 L227.5,187.5 L226.8,186.9 L226.0,186.2 L225.2,185.6 L224.5,185.0 L223.8,184.4 L223.0,183.8 L222.2,183.1 L221.5,182.5 L220.8,181.7 L220.0,180.6 L219.2,179.3 L218.5,178.1 L217.8,176.8 L217.0,175.5 L216.2,174.3 L215.5,173.0 L214.8,171.8 L214.0,170.5 L213.2,169.0 L212.5,167.6 L211.8,166.1 L211.0,164.7 L210.2,163.2 L209.5,161.5 L208.8,159.6 L208.0,157.7 L207.2,155.8 L206.5,153.9 L205.8,152.2 L205.0,151.1 L204.2,149.9 L203.5,148.7 L202.8,147.6 L202.0,146.4 L201.2,145.2 L200.5,144.2 L199.8,143.5 L199.0,143.5 L198.2,143.5 L197.5,143.4 L196.8,143.4 L196.0,143.4 L195.2,143.4 L194.5,143.4 L193.8,143.3 L193.0,143.3 L192.2,143.3 L191.5,143.3 L190.8,143.3 L190.0,143.2 L189.2,143.2 L188.5,143.2 L187.8,143.2 L187.0,143.2 L186.2,143.2 L185.5,143.3 L184.8,143.3 L184.0,143.3 L183.2,143.3 L182.5,143.3 L181.8,143.4 L181.0,143.4 L180.2,143.4 L179.5,143.5 L178.8,143.6 L178.0,143.7 L177.2,143.7 L176.5,143.7 L175.8,143.7 L175.0,143.8 L174.2,143.8 L173.5,143.8 L172.8,143.9 L172.0,143.9 L171.2,143.9 L170.5,143.9 L169.8,144.0 L169.0,144.0 L168.2,144.0 L167.5,144.1 L166.8,144.1 L166.0,144.1 L165.2,144.2 L164.5,144.2 L163.8,144.1 L163.0,144.0 L162.2,143.8 L161.5,143.7 L160.8,143.5 L160.0,143.3 L159.2,143.0 L158.5,142.7 L157.8,142.3 L157.0,142.0 L156.2,141.7 L155.5,141.3 L154.8,141.0 L154.0,140.7 L153.2,140.4 L152.5,140.0 L151.8,139.6 L151.0,138.8 L150.2,138.1 L149.5,137.2 L148.8,136.4 L148.0,135.5 L147.2,134.6 L146.5,133.7 L145.8,132.8 L145.0,131.9 L144.2,131.0 L143.5,130.1 L142.8,129.4 L142.0,129.1 L141.2,128.8 L140.5,128.5 L139.8,128.2 L139.0,128.0 L138.2,127.8 L137.5,127.6 L136.8,127.3 L136.0,127.1 L135.2,126.9 L134.5,126.6 L133.8,126.4 L133.0,126.2 L132.2,125.9 L131.5,125.7 L130.8,125.5 L130.0,125.2 L129.2,125.0 L128.5,124.8 L127.8,124.5 L127.0,124.3 L126.2,124.1 L125.5,124.0 L124.8,124.1 L124.0,124.1 L123.2,124.2 L122.5,124.2 L121.8,124.2 L121.0,124.3 L120.2,124.3 L119.5,124.4 L118.8,124.4 L118.0,127.0 L117.2,127.6 L116.5,128.1 L115.8,128.7 L115.0,129.9 L114.2,132.2 L113.5,134.5 L112.8,136.7 L112.0,139.0 L111.2,142.6 L110.5,146.1 L109.8,149.7 L109.0,153.2 L108.2,156.8 L107.5,162.7 L106.8,169.7 L106.0,176.7 L105.2,183.7 L104.5,188.4 L103.8,192.0 L103.0,195.6 L102.2,199.2 L101.5,202.8 L100.8,206.4 L100.0,210.0 L99.2,212.5 L98.5,214.9 L97.8,217.4 L97.0,219.9 L96.2,222.3 L95.5,224.8 L94.8,227.2 L94.0,229.7 L93.2,232.2 L92.5,234.5 L91.8,236.8 L91.0,239.0 L90.2,241.2 L89.5,243.5 L88.8,245.8 L88.0,248.0 L87.2,250.2 L86.5,252.5 L85.8,254.4 L85.0,255.7 L84.2,257.0 L83.5,258.3 L82.8,259.6 L82.0,260.9 L81.2,262.2 L80.5,263.5 L79.8,264.8 L79.0,266.1 L78.2,267.4 L77.5,268.7 L76.8,270.0 L76.0,271.3 L75.2,272.6 L74.5,273.9 L73.8,275.2 L73.0,276.5 L72.2,277.8 L71.5,279.1 L70.8,279.0 L70.0,277.3 L69.2,275.3 L68.5,273.3 L67.8,268.6 L67.0,268.3 L66.2,268.1 L65.5,268.0 L64.8,267.9 L64.0,267.9 L63.2,267.8 L62.5,267.5 L61.8,267.0 L61.0,266.6 L60.2,266.1 L59.5,265.8 L58.8,265.4 L58.0,265.0 L57.2,264.7 L56.5,264.3 L55.8,263.9 L55.0,263.6 L54.2,263.2 L53.5,262.9 L52.8,262.6 L52.0,262.4 L51.2,262.1 L50.5,261.8 L49.8,261.5 L49.0,261.3 L48.2,261.0 L47.5,260.7 L46.8,260.4 L46.0,260.2 L45.2,259.9 L44.5,259.6 L43.8,259.3 L43.0,259.0 L42.2,258.8 L41.5,258.5 L40.8,258.2 L40.0,257.9 L39.2,257.6 L38.5,257.3 L37.8,257.0 L37.0,256.8 L36.2,256.5 L35.5,256.2 L34.8,255.9 L34.0,255.8 L33.2,255.6 L32.5,255.5 L31.8,255.3 L31.0,255.1 L30.2,255.0 L29.5,254.8 L28.8,254.7 L28.0,254.5 L27.2,254.3 L26.5,254.2 L25.8,254.1 L25.0,253.9 L24.2,253.8 L23.5,253.6 L22.8,253.8 L22.0,254.8 L21.2,255.8 L20.5,256.8 L19.8,257.7 L19.0,258.7 L18.2,259.6 L17.5,260.7 L16.8,261.9 L16.0,263.2 L15.2,264.4 L14.5,265.6 L13.8,266.5 L13.0,266.9 L12.2,267.3 L11.5,267.7 L10.8,268.1 L10.0,268.5 L9.2,268.8 L8.5,269.2 L7.8,269.6 L7.0,270.0Z" fill="#051410"/>
<path d="M7.0,270.0 L7.8,269.6 L8.5,269.2 L9.2,268.8 L10.0,268.5 L10.8,268.1 L11.5,267.7 L12.2,267.3 L13.0,266.9 L13.8,266.5 L14.5,265.6 L15.2,264.4 L16.0,263.2 L16.8,261.9 L17.5,260.7 L18.2,259.6 L19.0,258.7 L19.8,257.7 L20.5,256.8 L21.2,255.8 L22.0,254.8 L22.8,253.8 L23.5,253.6 L24.2,253.8 L25.0,253.9 L25.8,254.1 L26.5,254.2 L27.2,254.3 L28.0,254.5 L28.8,254.7 L29.5,254.8 L30.2,255.0 L31.0,255.1 L31.8,255.3 L32.5,255.5 L33.2,255.6 L34.0,255.8 L34.8,255.9 L35.5,256.2 L36.2,256.5 L37.0,256.8 L37.8,257.0 L38.5,257.3 L39.2,257.6 L40.0,257.9 L40.8,258.2 L41.5,258.5 L42.2,258.8 L43.0,259.0 L43.8,259.3 L44.5,259.6 L45.2,259.9 L46.0,260.2 L46.8,260.4 L47.5,260.7 L48.2,261.0 L49.0,261.3 L49.8,261.5 L50.5,261.8 L51.2,262.1 L52.0,262.4 L52.8,262.6 L53.5,262.9 L54.2,263.2 L55.0,263.6 L55.8,263.9 L56.5,264.3 L57.2,264.7 L58.0,265.0 L58.8,265.4 L59.5,265.8 L60.2,266.1 L61.0,266.6 L61.8,267.0 L62.5,267.5 L63.2,267.8 L64.0,267.9 L64.8,267.9 L65.5,268.0 L66.2,268.1 L67.0,268.3 L67.8,268.6 L68.5,273.3 L69.2,275.3 L70.0,277.3 L70.8,279.0 L71.5,279.1 L72.2,277.8 L73.0,276.5 L73.8,275.2 L74.5,273.9 L75.2,272.6 L76.0,271.3 L76.8,270.0 L77.5,268.7 L78.2,267.4 L79.0,266.1 L79.8,264.8 L80.5,263.5 L81.2,262.2 L82.0,260.9 L82.8,259.6 L83.5,258.3 L84.2,257.0 L85.0,255.7 L85.8,254.4 L86.5,252.5 L87.2,250.2 L88.0,248.0 L88.8,245.8 L89.5,243.5 L90.2,241.2 L91.0,239.0 L91.8,236.8 L92.5,234.5 L93.2,232.2 L94.0,229.7 L94.8,227.2 L95.5,224.8 L96.2,222.3 L97.0,219.9 L97.8,217.4 L98.5,214.9 L99.2,212.5 L100.0,210.0 L100.8,206.4 L101.5,202.8 L102.2,199.2 L103.0,195.6 L103.8,192.0 L104.5,188.4 L105.2,183.7 L106.0,176.7 L106.8,169.7 L107.5,162.7 L108.2,156.8 L109.0,153.2 L109.8,149.7 L110.5,146.1 L111.2,142.6 L112.0,139.0 L112.8,136.7 L113.5,134.5 L114.2,132.2 L115.0,129.9 L115.8,128.7 L116.5,128.1 L117.2,127.6 L118.0,127.0 L118.8,124.4 L119.5,124.4 L120.2,124.3 L121.0,124.3 L121.8,124.2 L122.5,124.2 L123.2,124.2 L124.0,124.1 L124.8,124.1 L125.5,124.0 L126.2,124.1 L127.0,124.3 L127.8,124.5 L128.5,124.8 L129.2,125.0 L130.0,125.2 L130.8,125.5 L131.5,125.7 L132.2,125.9 L133.0,126.2 L133.8,126.4 L134.5,126.6 L135.2,126.9 L136.0,127.1 L136.8,127.3 L137.5,127.6 L138.2,127.8 L139.0,128.0 L139.8,128.2 L140.5,128.5 L141.2,128.8 L142.0,129.1 L142.8,129.4 L143.5,130.1 L144.2,131.0 L145.0,131.9 L145.8,132.8 L146.5,133.7 L147.2,134.6 L148.0,135.5 L148.8,136.4 L149.5,137.2 L150.2,138.1 L151.0,138.8 L151.8,139.6 L152.5,140.0 L153.2,140.4 L154.0,140.7 L154.8,141.0 L155.5,141.3 L156.2,141.7 L157.0,142.0 L157.8,142.3 L158.5,142.7 L159.2,143.0 L160.0,143.3 L160.8,143.5 L161.5,143.7 L162.2,143.8 L163.0,144.0 L163.8,144.1 L164.5,144.2 L165.2,144.2 L166.0,144.1 L166.8,144.1 L167.5,144.1 L168.2,144.0 L169.0,144.0 L169.8,144.0 L170.5,143.9 L171.2,143.9 L172.0,143.9 L172.8,143.9 L173.5,143.8 L174.2,143.8 L175.0,143.8 L175.8,143.7 L176.5,143.7 L177.2,143.7 L178.0,143.7 L178.8,143.6 L179.5,143.5 L180.2,143.4 L181.0,143.4 L181.8,143.4 L182.5,143.3 L183.2,143.3 L184.0,143.3 L184.8,143.3 L185.5,143.3 L186.2,143.2 L187.0,143.2 L187.8,143.2 L188.5,143.2 L189.2,143.2 L190.0,143.2 L190.8,143.3 L191.5,143.3 L192.2,143.3 L193.0,143.3 L193.8,143.3 L194.5,143.4 L195.2,143.4 L196.0,143.4 L196.8,143.4 L197.5,143.4 L198.2,143.5 L199.0,143.5 L199.8,143.5 L200.5,144.2 L201.2,145.2 L202.0,146.4 L202.8,147.6 L203.5,148.7 L204.2,149.9 L205.0,151.1 L205.8,152.2 L206.5,153.9 L207.2,155.8 L208.0,157.7 L208.8,159.6 L209.5,161.5 L210.2,163.2 L211.0,164.7 L211.8,166.1 L212.5,167.6 L213.2,169.0 L214.0,170.5 L214.8,171.8 L215.5,173.0 L216.2,174.3 L217.0,175.5 L217.8,176.8 L218.5,178.1 L219.2,179.3 L220.0,180.6 L220.8,181.7 L221.5,182.5 L222.2,183.1 L223.0,183.8 L223.8,184.4 L224.5,185.0 L225.2,185.6 L226.0,186.2 L226.8,186.9 L227.5,187.5 L228.2,188.1 L229.0,188.7 L229.8,189.3 L230.5,189.9 L231.2,190.4 L232.0,190.9 L232.8,191.5 L233.5,192.1 L234.2,192.6 L235.0,193.2 L235.8,193.8 L236.5,194.4 L237.2,194.9 L238.0,195.5 L238.8,196.1 L239.5,196.7 L240.2,197.2 L241.0,197.5 L241.8,197.9 L242.5,198.3 L243.2,198.6 L244.0,198.7 L244.8,198.9 L245.5,199.0 L246.2,199.1 L247.0,199.0 L247.8,198.9 L248.5,198.8 L249.2,198.7 L250.0,198.6 L250.8,198.5 L251.5,198.4 L252.2,198.3 L253.0,198.2 L253.8,198.2 L254.5,198.1 L255.2,198.1 L256.0,198.4 L256.8,198.7 L257.5,199.0 L258.2,199.3 L259.0,199.6 L259.8,199.9 L260.5,200.2 L261.2,200.5 L262.0,200.8 L262.8,202.1 L263.5,203.4 L264.2,204.7 L265.0,206.0 L265.8,207.3 L266.5,208.6 L267.2,210.2 L268.0,212.4 L268.8,214.6 L269.5,216.9 L270.2,218.8 L271.0,220.1 L271.8,221.4 L272.5,222.8 L273.2,224.1 L274.0,225.4 L274.8,226.8 L275.5,228.1 L276.2,229.6 L277.0,231.4 L277.8,233.2 L278.5,234.9 L279.2,236.3 L280.0,236.8 L280.8,237.4 L281.5,237.9 L282.2,238.4 L283.0,239.0 L283.8,239.5 L284.5,237.8 L285.2,235.8 L286.0,235.3 L286.8,234.8 L287.5,234.2 L288.2,233.7 L289.0,233.2 L289.8,232.7 L290.5,231.9 L291.2,231.1 L292.0,230.2 L292.8,229.3 L293.5,228.4 L294.2,227.6 L295.0,226.7 L295.8,225.8 L296.5,225.0 L297.2,224.1 L298.0,223.2 L298.8,222.9 L299.5,222.1 L300.2,221.2 L301.0,220.2 L301.8,219.3 L302.5,218.4 L303.2,217.4 L304.0,216.5 L304.8,215.6 L305.5,214.6 L306.2,213.4 L307.0,211.6 L307.8,209.9 L308.5,208.1 L309.2,206.3 L310.0,204.6 L310.8,202.8 L311.5,201.0 L312.2,199.3 L313.0,197.5 L313.8,196.9 L314.5,196.3 L315.2,195.7 L316.0,195.1 L316.8,194.6 L317.5,194.0 L318.2,193.4 L319.0,192.8 L319.8,192.2 L320.5,191.1 L321.2,189.9 L322.0,188.6 L322.8,187.3 L323.5,186.0 L324.2,184.7 L325.0,183.4 L325.8,182.1 L326.5,180.9 L327.2,180.0 L328.0,180.1 L328.8,180.2 L329.5,180.2 L330.2,180.3 L331.0,180.4 L331.8,180.5 L332.5,180.6 L333.2,180.6 L334.0,180.7 L334.8,180.8 L335.5,180.9 L336.2,180.9 L337.0,181.0 L337.8,181.2 L338.5,181.4 L339.2,181.7 L340.0,181.9 L340.8,182.1 L341.5,182.3 L342.2,182.5 L343.0,182.8 L343.8,183.0 L344.5,183.2 L345.2,183.4 L346.0,183.6 L346.8,183.8 L347.5,184.1 L348.2,184.3 L349.0,184.5 L349.8,184.9 L350.5,185.3 L351.2,185.7 L352.0,186.1 L352.8,186.5 L353.5,187.0 L354.2,187.4 L355.0,187.8 L355.8,188.2 L356.5,188.6 L357.2,189.0 L358.0,189.4 L358.8,189.8 L359.5,190.2 L360.2,190.6 L361.0,190.8 L361.8,191.1 L362.5,191.4 L363.2,191.6 L364.0,191.9 L364.8,192.2 L365.5,192.4 L366.2,192.7 L367.0,192.9 L367.8,193.2 L368.5,193.5 L369.2,193.7 L370.0,194.0 L370.8,194.1 L371.5,194.1 L372.2,194.2 L373.0,194.2 L373.8,194.3 L374.5,194.3 L375.2,194.4 L376.0,194.4 L376.8,194.5 L377.5,194.4 L378.2,194.2 L379.0,194.1 L379.8,193.9 L380.5,193.8 L381.2,193.6 L382.0,193.4 L382.8,193.3 L383.5,193.1 L384.2,193.0 L385.0,193.1 L385.8,193.1 L386.5,193.2 L387.2,193.2 L388.0,193.3 L388.8,193.3 L389.5,193.4 L390.2,193.4 L391.0,193.5 L391.8,192.3 L392.5,191.1 L393.2,189.9 L394.0,188.7 L394.8,187.5 L395.5,186.2 L396.2,185.0 L397.0,183.8 L397.8,182.6 L398.5,182.2 L399.2,182.2 L400.0,182.1 L400.8,181.5 L401.5,180.9 L402.2,180.3 L403.0,179.7 L403.8,179.0 L404.5,178.4 L405.2,177.9 L406.0,177.6 L406.8,177.2 L407.5,176.9 L408.2,176.6 L409.0,176.3 L409.8,176.0 L410.5,175.6 L411.2,175.3 L412.0,175.0 L412.8,175.1 L413.5,175.2 L414.2,175.3 L415.0,175.4 L415.8,175.5 L416.5,175.6 L417.2,175.8 L418.0,175.9 L418.8,176.0 L419.5,176.1 L420.2,176.3 L421.0,176.4 L421.8,177.4 L422.5,178.5 L423.2,179.5 L424.0,180.5 L424.8,181.5 L425.5,182.5 L426.2,183.4 L427.0,184.1 L427.8,184.7 L428.5,185.2 L429.2,185.7 L430.0,186.1 L430.8,186.5 L431.5,187.0 L432.2,187.4 L433.0,187.8 L433.8,188.3 L434.5,188.7 L435.2,189.1 L436.0,189.2 L436.8,189.4 L437.5,189.6 L438.2,189.8 L439.0,190.0 L439.8,190.2 L440.5,190.4 L441.2,190.6 L442.0,190.8 L442.8,190.9 L443.5,191.1 L444.2,191.3 L445.0,191.5 L445.8,191.7 L446.5,191.9 L447.2,192.1 L448.0,192.3 L448.8,192.5 L449.5,192.8 L450.2,193.0 L451.0,193.2 L451.8,193.4 L452.5,193.6 L453.2,193.8 L454.0,194.0 L454.8,194.6 L455.5,195.3 L456.2,195.9 L457.0,196.6 L457.8,197.2 L458.5,197.9 L459.2,198.5 L460.0,199.1 L460.8,199.8 L461.5,201.1 L462.2,202.9 L463.0,204.6 L463.8,206.3 L464.5,208.0 L465.2,209.7 L466.0,211.4 L466.8,213.1 L467.5,214.9 L468.2,216.6 L469.0,218.3 L469.8,220.0 L470.5,221.8 L471.2,223.5 L472.0,225.2 L472.8,227.0 L473.5,228.7 L474.2,230.5 L475.0,232.2 L475.8,233.9 L476.5,235.0 L477.2,235.7 L478.0,236.4 L478.8,237.1 L479.5,237.8 L480.2,238.4 L481.0,239.1 L481.8,239.8 L482.5,240.5 L483.2,241.1 L484.0,241.4 L484.8,241.8 L485.5,242.1 L486.2,242.4 L487.0,242.7 L487.8,243.0 L488.5,243.4 L489.2,243.7 L490.0,244.0 L490.8,244.2 L491.5,244.3 L492.2,244.5 L493.0,244.6 L493.8,244.8 L494.5,245.0 L495.2,245.1 L496.0,245.3 L496.8,245.4 L497.5,245.8 L498.2,246.3 L499.0,246.8 L499.8,247.3 L500.5,247.8 L501.2,248.3 L502.0,248.8 L502.8,249.3 L503.5,249.8 L504.2,250.3 L505.0,250.8 L505.8,253.1 L506.5,255.7 L507.2,258.5 L508.0,261.3 L508.8,264.1 L509.5,266.1 L510.2,267.8 L511.0,269.5 L511.8,271.2 L512.5,272.9 L513.2,274.5 L514.0,276.2 L514.8,277.9 L515.5,278.8 L516.2,279.5 L517.0,280.1 L517.8,280.7 L518.5,281.3 L519.2,281.9 L520.0,282.5 L520.8,283.1 L521.5,283.7 L522.2,284.3 L523.0,284.9 L523.8,285.5 L524.5,285.7 L525.2,285.6 L526.0,285.6 L526.8,285.5 L527.5,285.5 L528.2,285.4 L529.0,285.4 L529.8,285.3 L530.5,285.9 L531.2,286.8 L532.0,287.7 L532.8,288.6 L533.5,289.5 L534.2,290.4 L535.0,291.2 L535.8,292.1 L536.5,293.0 L537.2,293.9 L538.0,294.8 L538.8,295.7 L539.5,296.1 L540.2,296.3 L541.0,296.5 L541.8,296.7 L542.5,296.9 L543.2,297.1 L544.0,297.3 L544.8,297.6 L545.5,297.8 L546.2,298.0 L547.0,298.3 L547.8,298.7 L548.5,298.8 L549.2,298.8 L550.0,298.8 L550.8,298.8 L551.5,298.8 L552.2,298.8 L553.0,298.8 L553.8,297.7 L554.5,296.7 L555.2,295.6 L556.0,294.6 L556.8,293.6 L557.5,292.5 L558.2,291.5 L559.0,290.4 L559.8,289.4 L560.5,287.5 L561.2,285.3 L562.0,283.0 L562.8,281.9 L563.5,280.8 L564.2,279.6 L565.0,278.5 L565.8,277.4 L566.5,276.2 L567.2,275.1 L568.0,274.0 L568.8,272.9 L569.5,271.8 L570.2,270.6 L571.0,269.5 L571.8,268.4 L572.5,266.6 L573.2,264.6 L574.0,262.6 L574.8,260.5 L575.5,258.5 L576.2,256.5 L577.0,254.4 L577.8,252.4 L578.5,250.4 L579.2,248.9 L580.0,248.6 L580.8,248.3 L581.5,248.0 L582.2,247.7 L583.0,247.4 L583.8,247.2 L584.5,246.9 L585.2,246.6 L586.0,246.3 L586.8,246.0 L587.5,245.7 L588.2,245.4 L589.0,245.2 L589.8,245.1 L590.5,244.9 L591.2,244.7 L592.0,244.5 L592.8,244.3 L593.5,244.1 L594.2,243.9 L595.0,243.8 L595.8,243.6 L596.5,243.4 L597.2,243.2 L598.0,243.0 L598.8,242.8 L599.5,242.6 L600.2,242.4 L601.0,242.2 L601.8,242.1 L602.5,242.2 L603.2,242.4 L604.0,242.7 L604.8,242.9 L605.5,243.2 L606.2,243.4 L607.0,243.7 L607.8,243.9 L608.5,244.2 L609.2,244.4 L610.0,244.7 L610.8,244.9 L611.5,245.2 L612.2,245.4 L613.0,245.7 L613.8,245.9 L614.5,246.4 L615.2,247.0 L616.0,247.7 L616.8,248.3 L617.5,248.9 L618.2,249.5 L619.0,250.2 L619.8,250.8 L620.5,251.4 L621.2,252.0 L622.0,252.7 L622.8,253.3 L623.5,253.9 L624.2,254.5 L625.0,255.2 L625.8,255.8 L626.5,256.2 L627.2,256.4 L628.0,256.6 L628.8,256.9 L629.5,257.1 L630.2,257.4 L631.0,257.6 L631.8,257.8 L632.5,258.1 L633.2,258.3 L634.0,258.5 L634.8,258.8 L635.5,259.0 L636.2,259.3 L637.0,259.5 L637.8,259.2 L638.5,259.0 L639.2,258.8 L640.0,258.5 L640.8,258.2 L641.5,258.0 L642.2,257.8 L643.0,257.5 L643.8,257.2 L644.5,257.0 L645.2,256.8 L646.0,256.5 L646.8,256.2 L647.5,256.0 L648.2,255.8 L649.0,255.5 L649.8,254.9 L650.5,254.3 L651.2,253.7 L652.0,253.1 L652.8,252.5 L653.5,251.9 L654.2,251.3 L655.0,250.7 L655.8,250.1 L656.5,250.0 L657.2,250.1 L658.0,250.2 L658.8,250.3 L659.5,250.4 L660.2,250.6 L661.0,250.7 L661.8,250.8 L662.5,250.9 L663.2,251.1 L664.0,251.2 L664.8,251.3 L665.5,251.4 L666.2,251.6 L667.0,251.9 L667.8,252.2 L668.5,252.5 L669.2,252.8 L670.0,253.1 L670.8,253.3 L671.5,253.6 L672.2,253.9 L673.0,254.2 L673.8,254.5 L674.5,254.8 L675.2,255.0 L676.0,255.1 L676.8,255.1 L677.5,255.1 L678.2,255.2 L679.0,255.2 L679.8,255.3 L680.5,255.3 L681.2,255.3 L682.0,255.4 L682.8,255.4 L683.5,255.5 L684.2,255.6 L685.0,255.8 L685.8,256.1 L686.5,256.3 L687.2,256.6 L688.0,256.8 L688.8,257.1 L689.5,257.3 L690.2,257.6 L691.0,257.8 L691.8,258.1 L692.5,258.3 L693.2,258.6 L694.0,258.8 L694.8,259.1 L695.5,259.3 L696.2,259.6 L697.0,259.8 L697.8,259.9 L698.5,260.1 L699.2,260.3 L700.0,260.5 L700.8,260.7 L701.5,260.9 L702.2,261.1 L703.0,261.2 L703.8,261.4 L704.5,261.6 L705.2,261.8 L706.0,262.0 L706.8,262.2 L707.5,262.4 L708.2,262.5 L709.0,262.7 L709.8,262.8 L710.5,262.9 L711.2,263.0 L712.0,263.2 L712.8,263.3 L713.5,263.4 L714.2,263.5 L715.0,263.6 L715.8,263.8 L716.5,263.9 L717.2,264.0 L718.0,264.0 L718.8,264.1 L719.5,264.1 L720.2,264.1 L721.0,264.2 L721.8,264.2 L722.5,264.3 L723.2,264.3 L724.0,264.3 L724.8,264.4 L725.5,264.4 L726.2,264.5 L727.0,264.5 L727.8,264.7 L728.5,264.8 L729.2,265.0 L730.0,265.2 L730.8,265.3 L731.5,265.5 L732.2,265.7 L733.0,265.8 L733.8,266.0 L734.5,266.2 L735.2,266.3 L736.0,266.5 L736.8,266.8 L737.5,267.1 L738.2,267.4 L739.0,267.6 L739.8,267.9 L740.5,268.2 L741.2,268.5 L742.0,268.8 L742.8,270.0 L743.5,271.2 L744.2,272.5 L745.0,273.7 L745.8,274.9 L746.5,277.3 L747.2,280.2 L748.0,283.2 L748.8,288.7 L749.5,294.2 L750.2,299.7 L751.0,305.2 L751.8,310.7 L752.5,314.8 L753.2,318.3 L754.0,321.8 L754.8,325.3 L755.5,328.8 L756.2,332.3 L757.0,335.8 L757.8,339.3 L758.5,342.8 L759.2,346.3 L760.0,349.8 L760.8,353.6 L761.5,357.3 L762.2,361.1 L763.0,364.9 L763.8,363.8 L764.5,362.8 L765.2,361.8 L766.0,360.8 L766.8,359.8 L767.5,359.0 L768.2,358.2 L769.0,357.5 L769.8,356.8 L770.5,356.1 L771.2,355.3 L772.0,354.6 L772.8,353.9 L773.5,353.2 L774.2,353.6 L775.0,356.3 L775.8,359.1 L776.5,359.5 L777.2,358.8 L778.0,358.0 L778.8,356.2 L779.5,355.3 L780.2,354.8 L781.0,354.3 L781.8,353.8 L782.5,353.4 L783.2,352.9 L784.0,352.4 L784.8,351.4 L785.5,350.3 L786.2,349.6 L787.0,349.4 L787.8,349.3 L788.5,349.2 L789.2,349.0 L790.0,348.9 L790.8,348.7 L791.5,348.6 L792.2,348.0 L793.0,346.6 L793.8,345.2 L794.5,343.8 L795.2,342.4 L796.0,340.9 L796.8,339.5 L797.5,338.5 L798.2,337.7 L799.0,336.9 L799.8,336.0 L800.5,335.2 L801.2,335.0 L802.0,336.0 L802.8,337.0 L803.5,338.0 L804.2,339.0 L805.0,340.1 L805.8,341.1 L806.5,342.1 L807.2,343.1 L808.0,344.1 L808.8,345.1 L809.5,345.9 L810.2,346.7 L811.0,347.3 L811.8,348.0 L812.5,348.7 L813.2,349.4 L814.0,350.0 L814.8,350.7 L815.5,351.4 L816.2,352.1 L817.0,352.7 L817.8,353.4 L818.5,354.1 L819.2,354.8 L820.0,355.5 L820.8,356.1 L821.5,356.8 L822.2,357.5 L823.0,358.2 L823.8,358.8 L824.5,359.5 L825.2,360.1 L826.0,360.8 L826.8,361.3 L827.5,361.8 L828.2,362.3 L829.0,362.8 L829.8,363.2 L830.5,363.7 L831.2,364.2 L832.0,364.7 L832.8,365.2 L833.5,365.7 L834.2,366.2 L835.0,366.6 L835.8,367.1 L836.5,367.6 L837.2,368.1 L838.0,368.6 L838.8,369.1 L839.5,369.7 L840.2,370.4 L841.0,371.3 L841.8,372.2 L842.5,373.1 L843.2,373.1 L844.0,371.4 L844.8,369.7 L845.5,368.0 L846.2,366.7 L847.0,366.2 L847.8,365.7 L848.5,364.5 L849.2,362.9 L850.0,361.4 L850.8,359.8 L851.5,358.2 L852.2,356.6 L853.0,355.1 L853.8,354.5 L854.5,354.0 L855.2,353.5 L856.0,352.9 L856.8,352.4 L857.5,351.4 L858.2,350.1 L859.0,348.8 L859.8,347.6 L860.5,346.3 L861.2,345.8 L862.0,346.6 L862.8,347.5 L863.5,348.4 L864.2,349.4 L865.0,350.4 L865.8,351.5 L866.5,352.7 L867.2,353.9 L868.0,355.2 L868.8,356.4 L869.5,357.7 L870.2,358.9 L871.0,360.1 L871.8,361.4 L872.5,362.6 L873.2,363.9 L874.0,365.1 L874.8,366.4 L875.5,367.5 L876.2,368.7 L877.0,369.9 L877.8,371.1 L878.5,372.2 L879.2,373.5 L880.0,374.9 L880.8,376.4 L881.5,377.8 L882.2,379.3 L883.0,380.7 L883.8,381.6 L884.5,382.5 L885.2,383.3 L886.0,384.2 L886.8,385.1 L887.5,386.0 L888.2,386.9 L889.0,387.8 L889.8,392.3 L890.5,396.9 L891.2,400.0 L891.2,416.0 L890.5,415.6 L889.8,415.1 L889.0,414.5 L888.2,413.9 L887.5,413.4 L886.8,412.8 L886.0,412.2 L885.2,411.7 L884.5,411.1 L883.8,410.6 L883.0,410.0 L882.2,408.3 L881.5,406.6 L880.8,404.9 L880.0,403.2 L879.2,401.6 L878.5,399.9 L877.8,398.2 L877.0,396.5 L876.2,394.8 L875.5,393.1 L874.8,391.4 L874.0,389.6 L873.2,387.7 L872.5,385.9 L871.8,384.1 L871.0,382.2 L870.2,380.4 L869.5,378.6 L868.8,376.7 L868.0,374.9 L867.2,373.1 L866.5,371.2 L865.8,369.5 L865.0,368.0 L864.2,366.5 L863.5,365.0 L862.8,363.5 L862.0,362.0 L861.2,360.5 L860.5,361.9 L859.8,364.7 L859.0,367.5 L858.2,370.3 L857.5,373.1 L856.8,375.4 L856.0,376.8 L855.2,378.1 L854.5,379.4 L853.8,380.8 L853.0,382.1 L852.2,383.4 L851.5,384.8 L850.8,386.1 L850.0,387.4 L849.2,388.8 L848.5,390.1 L847.8,390.7 L847.0,389.9 L846.2,389.0 L845.5,388.2 L844.8,387.3 L844.0,386.5 L843.2,385.7 L842.5,384.8 L841.8,384.0 L841.0,383.1 L840.2,382.3 L839.5,381.8 L838.8,381.4 L838.0,381.0 L837.2,380.6 L836.5,380.2 L835.8,379.9 L835.0,379.5 L834.2,379.1 L833.5,378.8 L832.8,378.4 L832.0,378.0 L831.2,377.6 L830.5,377.2 L829.8,376.9 L829.0,376.5 L828.2,376.1 L827.5,375.8 L826.8,375.4 L826.0,375.0 L825.2,374.3 L824.5,373.6 L823.8,372.9 L823.0,372.2 L822.2,371.5 L821.5,370.8 L820.8,370.1 L820.0,369.4 L819.2,368.7 L818.5,368.0 L817.8,367.3 L817.0,366.6 L816.2,365.9 L815.5,365.2 L814.8,364.5 L814.0,363.8 L813.2,363.0 L812.5,362.3 L811.8,361.6 L811.0,360.9 L810.2,360.2 L809.5,359.4 L808.8,358.6 L808.0,357.8 L807.2,356.9 L806.5,356.1 L805.8,355.3 L805.0,354.4 L804.2,353.6 L803.5,352.8 L802.8,351.9 L802.0,351.1 L801.2,350.3 L800.5,351.9 L799.8,354.7 L799.0,357.6 L798.2,360.4 L797.5,363.2 L796.8,366.1 L796.0,368.9 L795.2,371.7 L794.5,374.6 L793.8,377.4 L793.0,380.2 L792.2,383.1 L791.5,384.2 L790.8,384.5 L790.0,384.8 L789.2,385.0 L788.5,385.3 L787.8,385.6 L787.0,385.9 L786.2,386.2 L785.5,386.4 L784.8,386.7 L784.0,387.0 L783.2,386.1 L782.5,385.2 L781.8,384.4 L781.0,383.5 L780.2,382.6 L779.5,381.8 L778.8,380.9 L778.0,380.0 L777.2,377.0 L776.5,374.0 L775.8,371.0 L775.0,368.0 L774.2,365.0 L773.5,366.6 L772.8,370.6 L772.0,374.5 L771.2,378.5 L770.5,382.5 L769.8,386.4 L769.0,390.4 L768.2,394.3 L767.5,398.3 L766.8,402.2 L766.0,406.2 L765.2,410.1 L764.5,414.1 L763.8,418.0 L763.0,422.0 L762.2,416.4 L761.5,410.8 L760.8,405.2 L760.0,399.6 L759.2,394.0 L758.5,388.5 L757.8,382.9 L757.0,377.3 L756.2,371.7 L755.5,366.1 L754.8,360.5 L754.0,354.9 L753.2,349.3 L752.5,343.7 L751.8,337.5 L751.0,330.0 L750.2,322.5 L749.5,315.0 L748.8,307.5 L748.0,300.0 L747.2,297.6 L746.5,295.2 L745.8,292.9 L745.0,290.5 L744.2,288.1 L743.5,285.8 L742.8,283.4 L742.0,281.0 L741.2,280.5 L740.5,280.0 L739.8,279.5 L739.0,279.0 L738.2,278.5 L737.5,278.0 L736.8,277.5 L736.0,277.0 L735.2,276.8 L734.5,276.7 L733.8,276.5 L733.0,276.3 L732.2,276.2 L731.5,276.0 L730.8,275.8 L730.0,275.7 L729.2,275.5 L728.5,275.3 L727.8,275.2 L727.0,275.0 L726.2,274.9 L725.5,274.8 L724.8,274.8 L724.0,274.7 L723.2,274.6 L722.5,274.5 L721.8,274.4 L721.0,274.4 L720.2,274.3 L719.5,274.2 L718.8,274.1 L718.0,274.1 L717.2,274.0 L716.5,273.9 L715.8,273.8 L715.0,273.7 L714.2,273.7 L713.5,273.6 L712.8,273.5 L712.0,273.4 L711.2,273.3 L710.5,273.3 L709.8,273.2 L709.0,273.1 L708.2,273.0 L707.5,272.9 L706.8,272.7 L706.0,272.5 L705.2,272.3 L704.5,272.1 L703.8,271.9 L703.0,271.8 L702.2,271.6 L701.5,271.4 L700.8,271.2 L700.0,271.0 L699.2,270.8 L698.5,270.6 L697.8,270.4 L697.0,270.2 L696.2,270.1 L695.5,269.8 L694.8,269.6 L694.0,269.3 L693.2,269.1 L692.5,268.8 L691.8,268.6 L691.0,268.3 L690.2,268.1 L689.5,267.8 L688.8,267.6 L688.0,267.3 L687.2,267.1 L686.5,266.8 L685.8,266.6 L685.0,266.3 L684.2,266.1 L683.5,266.1 L682.8,266.3 L682.0,266.4 L681.2,266.6 L680.5,266.8 L679.8,266.9 L679.0,267.1 L678.2,267.3 L677.5,267.4 L676.8,267.6 L676.0,267.8 L675.2,267.9 L674.5,267.7 L673.8,267.3 L673.0,266.9 L672.2,266.5 L671.5,266.1 L670.8,265.6 L670.0,265.2 L669.2,264.8 L668.5,264.4 L667.8,264.0 L667.0,263.6 L666.2,263.1 L665.5,263.1 L664.8,263.2 L664.0,263.4 L663.2,263.5 L662.5,263.6 L661.8,263.8 L661.0,263.9 L660.2,264.0 L659.5,264.1 L658.8,264.3 L658.0,264.4 L657.2,264.5 L656.5,264.7 L655.8,264.8 L655.0,264.9 L654.2,265.1 L653.5,265.2 L652.8,265.3 L652.0,265.5 L651.2,265.6 L650.5,265.7 L649.8,265.9 L649.0,266.0 L648.2,266.2 L647.5,266.5 L646.8,266.8 L646.0,267.0 L645.2,267.2 L644.5,267.5 L643.8,267.8 L643.0,268.0 L642.2,268.2 L641.5,268.5 L640.8,268.8 L640.0,269.0 L639.2,269.2 L638.5,269.5 L637.8,269.8 L637.0,270.0 L636.2,270.0 L635.5,270.0 L634.8,270.0 L634.0,270.0 L633.2,270.0 L632.5,270.0 L631.8,270.0 L631.0,270.0 L630.2,270.0 L629.5,270.0 L628.8,270.0 L628.0,270.0 L627.2,270.0 L626.5,270.0 L625.8,269.8 L625.0,269.1 L624.2,268.4 L623.5,267.7 L622.8,267.0 L622.0,266.3 L621.2,265.6 L620.5,265.0 L619.8,264.3 L619.0,263.6 L618.2,262.9 L617.5,262.2 L616.8,261.5 L616.0,260.8 L615.2,260.1 L614.5,259.5 L613.8,258.9 L613.0,258.8 L612.2,258.6 L611.5,258.4 L610.8,258.2 L610.0,258.0 L609.2,257.8 L608.5,257.6 L607.8,257.4 L607.0,257.2 L606.2,257.1 L605.5,256.9 L604.8,256.7 L604.0,256.5 L603.2,256.3 L602.5,256.1 L601.8,256.1 L601.0,256.5 L600.2,256.9 L599.5,257.2 L598.8,257.6 L598.0,258.0 L597.2,258.4 L596.5,258.8 L595.8,259.1 L595.0,259.5 L594.2,259.9 L593.5,260.2 L592.8,260.6 L592.0,261.0 L591.2,261.4 L590.5,261.8 L589.8,262.1 L589.0,262.5 L588.2,262.9 L587.5,263.4 L586.8,264.0 L586.0,264.6 L585.2,265.1 L584.5,265.7 L583.8,266.3 L583.0,266.9 L582.2,267.5 L581.5,268.1 L580.8,268.6 L580.0,269.2 L579.2,269.8 L578.5,272.2 L577.8,275.5 L577.0,278.9 L576.2,282.2 L575.5,285.5 L574.8,288.8 L574.0,292.1 L573.2,295.5 L572.5,298.8 L571.8,301.6 L571.0,303.5 L570.2,305.4 L569.5,307.2 L568.8,309.1 L568.0,311.0 L567.2,312.9 L566.5,314.8 L565.8,316.6 L565.0,318.5 L564.2,320.4 L563.5,322.2 L562.8,324.1 L562.0,326.0 L561.2,327.9 L560.5,329.8 L559.8,330.8 L559.0,330.2 L558.2,329.6 L557.5,329.0 L556.8,328.4 L556.0,327.9 L555.2,327.3 L554.5,326.7 L553.8,326.1 L553.0,325.5 L552.2,324.9 L551.5,324.3 L550.8,323.7 L550.0,323.1 L549.2,322.6 L548.5,322.0 L547.8,321.4 L547.0,320.8 L546.2,320.2 L545.5,319.8 L544.8,319.5 L544.0,319.1 L543.2,318.8 L542.5,318.5 L541.8,318.2 L541.0,317.9 L540.2,317.5 L539.5,317.2 L538.8,316.5 L538.0,314.9 L537.2,313.3 L536.5,311.7 L535.8,310.1 L535.0,308.6 L534.2,307.0 L533.5,305.4 L532.8,303.8 L532.0,302.2 L531.2,300.6 L530.5,299.1 L529.8,298.1 L529.0,298.4 L528.2,298.7 L527.5,299.0 L526.8,299.3 L526.0,299.6 L525.2,299.9 L524.5,300.2 L523.8,300.5 L523.0,300.8 L522.2,301.1 L521.5,301.4 L520.8,301.7 L520.0,302.0 L519.2,302.0 L518.5,302.0 L517.8,302.0 L517.0,302.0 L516.2,302.0 L515.5,302.0 L514.8,301.3 L514.0,299.2 L513.2,297.0 L512.5,294.9 L511.8,292.8 L511.0,290.7 L510.2,288.5 L509.5,286.4 L508.8,283.6 L508.0,279.2 L507.2,274.9 L506.5,270.6 L505.8,266.3 L505.0,262.0 L504.2,261.3 L503.5,260.7 L502.8,260.0 L502.0,259.4 L501.2,258.7 L500.5,258.1 L499.8,257.4 L499.0,256.8 L498.2,256.1 L497.5,255.4 L496.8,254.9 L496.0,254.6 L495.2,254.2 L494.5,253.9 L493.8,253.6 L493.0,253.3 L492.2,253.0 L491.5,252.6 L490.8,252.3 L490.0,252.0 L489.2,253.5 L488.5,255.0 L487.8,256.5 L487.0,258.0 L486.2,259.5 L485.5,261.0 L484.8,262.5 L484.0,264.0 L483.2,265.5 L482.5,266.3 L481.8,266.7 L481.0,267.1 L480.2,267.6 L479.5,268.0 L478.8,268.4 L478.0,268.9 L477.2,269.3 L476.5,269.7 L475.8,269.1 L475.0,266.2 L474.2,263.4 L473.5,260.6 L472.8,257.8 L472.0,255.0 L471.2,252.2 L470.5,249.4 L469.8,246.6 L469.0,243.8 L468.2,240.9 L467.5,238.1 L466.8,235.4 L466.0,232.6 L465.2,229.8 L464.5,227.0 L463.8,224.2 L463.0,221.4 L462.2,218.6 L461.5,215.9 L460.8,213.8 L460.0,213.0 L459.2,212.2 L458.5,211.5 L457.8,210.8 L457.0,210.0 L456.2,209.2 L455.5,208.5 L454.8,207.8 L454.0,207.0 L453.2,207.0 L452.5,207.0 L451.8,207.0 L451.0,207.0 L450.2,207.0 L449.5,207.0 L448.8,207.0 L448.0,207.0 L447.2,207.0 L446.5,207.0 L445.8,207.0 L445.0,207.0 L444.2,207.2 L443.5,207.3 L442.8,207.4 L442.0,207.6 L441.2,207.8 L440.5,207.9 L439.8,208.1 L439.0,208.2 L438.2,208.3 L437.5,208.5 L436.8,208.7 L436.0,208.8 L435.2,208.9 L434.5,209.3 L433.8,209.7 L433.0,210.1 L432.2,210.5 L431.5,210.9 L430.8,211.4 L430.0,211.8 L429.2,212.2 L428.5,212.6 L427.8,213.0 L427.0,213.4 L426.2,213.9 L425.5,213.8 L424.8,213.5 L424.0,213.1 L423.2,212.8 L422.5,212.5 L421.8,212.2 L421.0,211.9 L420.2,211.5 L419.5,211.2 L418.8,210.9 L418.0,210.7 L417.2,210.5 L416.5,210.3 L415.8,210.1 L415.0,209.9 L414.2,209.6 L413.5,209.4 L412.8,209.2 L412.0,209.0 L411.2,209.5 L410.5,210.1 L409.8,210.6 L409.0,211.1 L408.2,211.7 L407.5,212.2 L406.8,212.8 L406.0,213.3 L405.2,213.8 L404.5,214.4 L403.8,215.0 L403.0,215.6 L402.2,216.2 L401.5,216.8 L400.8,217.4 L400.0,218.0 L399.2,217.4 L398.5,216.8 L397.8,216.2 L397.0,215.7 L396.2,215.1 L395.5,214.5 L394.8,213.9 L394.0,213.3 L393.2,212.8 L392.5,212.2 L391.8,211.6 L391.0,211.0 L390.2,210.8 L389.5,210.6 L388.8,210.4 L388.0,210.1 L387.2,209.9 L386.5,209.7 L385.8,209.5 L385.0,209.3 L384.2,209.1 L383.5,209.1 L382.8,209.4 L382.0,209.6 L381.2,209.8 L380.5,210.0 L379.8,210.2 L379.0,210.4 L378.2,210.6 L377.5,210.9 L376.8,210.9 L376.0,210.7 L375.2,210.5 L374.5,210.3 L373.8,210.1 L373.0,209.9 L372.2,209.6 L371.5,209.4 L370.8,209.2 L370.0,209.0 L369.2,208.5 L368.5,207.9 L367.8,207.4 L367.0,206.9 L366.2,206.4 L365.5,205.8 L364.8,205.3 L364.0,204.8 L363.2,204.3 L362.5,203.8 L361.8,203.2 L361.0,202.7 L360.2,202.2 L359.5,201.6 L358.8,201.0 L358.0,200.4 L357.2,199.8 L356.5,199.1 L355.8,198.5 L355.0,197.9 L354.2,197.3 L353.5,196.7 L352.8,196.1 L352.0,195.5 L351.2,194.8 L350.5,194.2 L349.8,193.6 L349.0,193.0 L348.2,193.1 L347.5,193.2 L346.8,193.4 L346.0,193.5 L345.2,193.6 L344.5,193.8 L343.8,193.9 L343.0,194.0 L342.2,194.1 L341.5,194.2 L340.8,194.4 L340.0,194.5 L339.2,194.6 L338.5,194.8 L337.8,194.9 L337.0,195.0 L336.2,195.2 L335.5,195.3 L334.8,195.4 L334.0,195.6 L333.2,195.8 L332.5,195.9 L331.8,196.1 L331.0,196.2 L330.2,196.3 L329.5,196.5 L328.8,196.7 L328.0,196.8 L327.2,196.9 L326.5,198.5 L325.8,200.8 L325.0,203.0 L324.2,205.2 L323.5,207.5 L322.8,209.8 L322.0,212.0 L321.2,214.2 L320.5,216.5 L319.8,218.2 L319.0,218.7 L318.2,219.2 L317.5,219.8 L316.8,220.3 L316.0,220.9 L315.2,221.4 L314.5,221.9 L313.8,222.5 L313.0,223.0 L312.2,225.6 L311.5,228.1 L310.8,230.7 L310.0,233.3 L309.2,235.9 L308.5,238.4 L307.8,241.0 L307.0,243.6 L306.2,246.1 L305.5,248.0 L304.8,249.5 L304.0,251.0 L303.2,252.5 L302.5,254.0 L301.8,255.5 L301.0,257.0 L300.2,258.5 L299.5,260.0 L298.8,261.1 L298.0,261.4 L297.2,261.8 L296.5,262.1 L295.8,262.4 L295.0,262.8 L294.2,263.1 L293.5,263.4 L292.8,263.8 L292.0,264.1 L291.2,264.4 L290.5,264.8 L289.8,264.1 L289.0,261.4 L288.2,258.7 L287.5,256.0 L286.8,253.3 L286.0,250.6 L285.2,247.9 L284.5,248.2 L283.8,249.9 L283.0,251.7 L282.2,253.4 L281.5,255.2 L280.8,256.9 L280.0,258.7 L279.2,260.4 L278.5,260.5 L277.8,259.8 L277.0,259.0 L276.2,258.2 L275.5,257.5 L274.8,256.8 L274.0,256.0 L273.2,255.2 L272.5,254.5 L271.8,253.8 L271.0,253.0 L270.2,252.2 L269.5,250.3 L268.8,247.8 L268.0,245.2 L267.2,242.7 L266.5,240.2 L265.8,237.7 L265.0,235.1 L264.2,232.6 L263.5,230.1 L262.8,227.5 L262.0,225.0 L261.2,224.5 L260.5,223.9 L259.8,223.4 L259.0,222.9 L258.2,222.3 L257.5,221.8 L256.8,221.2 L256.0,220.7 L255.2,220.2 L254.5,220.2 L253.8,220.4 L253.0,220.7 L252.2,220.9 L251.5,221.2 L250.8,221.4 L250.0,221.7 L249.2,221.9 L248.5,222.2 L247.8,222.4 L247.0,222.7 L246.2,222.9 L245.5,222.8 L244.8,222.6 L244.0,222.3 L243.2,222.1 L242.5,221.8 L241.8,221.6 L241.0,221.3 L240.2,221.1 L239.5,220.6 L238.8,219.9 L238.0,219.2 L237.2,218.5 L236.5,217.8 L235.8,217.2 L235.0,216.5 L234.2,215.8 L233.5,215.2 L232.8,214.5 L232.0,213.8 L231.2,213.1 L230.5,212.4 L229.8,211.7 L229.0,210.8 L228.2,209.9 L227.5,209.0 L226.8,208.1 L226.0,207.2 L225.2,206.3 L224.5,205.4 L223.8,204.5 L223.0,203.6 L222.2,202.7 L221.5,201.8 L220.8,200.9 L220.0,200.0 L219.2,198.9 L218.5,197.8 L217.8,196.6 L217.0,195.5 L216.2,194.4 L215.5,193.2 L214.8,192.1 L214.0,191.0 L213.2,189.9 L212.5,188.8 L211.8,187.6 L211.0,186.5 L210.2,185.4 L209.5,183.7 L208.8,181.6 L208.0,179.6 L207.2,177.6 L206.5,175.6 L205.8,173.5 L205.0,171.5 L204.2,169.5 L203.5,167.4 L202.8,165.4 L202.0,163.4 L201.2,161.4 L200.5,159.3 L199.8,158.0 L199.0,157.9 L198.2,157.9 L197.5,157.9 L196.8,157.8 L196.0,157.8 L195.2,157.8 L194.5,157.7 L193.8,157.7 L193.0,157.7 L192.2,157.6 L191.5,157.6 L190.8,157.5 L190.0,157.5 L189.2,157.5 L188.5,157.4 L187.8,157.4 L187.0,157.3 L186.2,157.3 L185.5,157.3 L184.8,157.2 L184.0,157.2 L183.2,157.2 L182.5,157.1 L181.8,157.1 L181.0,157.1 L180.2,157.0 L179.5,157.1 L178.8,157.2 L178.0,157.3 L177.2,157.4 L176.5,157.5 L175.8,157.6 L175.0,157.8 L174.2,157.9 L173.5,158.0 L172.8,158.1 L172.0,158.2 L171.2,158.3 L170.5,158.4 L169.8,158.5 L169.0,158.7 L168.2,158.8 L167.5,158.9 L166.8,159.0 L166.0,159.1 L165.2,159.2 L164.5,159.3 L163.8,159.4 L163.0,159.6 L162.2,159.7 L161.5,159.8 L160.8,159.9 L160.0,160.0 L159.2,159.8 L158.5,159.6 L157.8,159.3 L157.0,159.1 L156.2,158.9 L155.5,158.7 L154.8,158.4 L154.0,158.2 L153.2,158.0 L152.5,157.8 L151.8,157.5 L151.0,157.3 L150.2,157.1 L149.5,156.7 L148.8,156.1 L148.0,155.6 L147.2,155.1 L146.5,154.6 L145.8,154.0 L145.0,153.5 L144.2,153.0 L143.5,152.4 L142.8,151.9 L142.0,151.4 L141.2,150.9 L140.5,150.3 L139.8,149.9 L139.0,149.5 L138.2,149.1 L137.5,148.8 L136.8,148.4 L136.0,148.0 L135.2,147.6 L134.5,147.2 L133.8,146.9 L133.0,146.5 L132.2,146.1 L131.5,145.8 L130.8,145.4 L130.0,145.0 L129.2,144.6 L128.5,144.2 L127.8,143.9 L127.0,143.5 L126.2,143.1 L125.5,143.0 L124.8,143.0 L124.0,143.0 L123.2,143.0 L122.5,143.0 L121.8,143.0 L121.0,143.0 L120.2,143.0 L119.5,143.0 L118.8,143.0 L118.0,143.0 L117.2,147.2 L116.5,151.5 L115.8,155.8 L115.0,160.0 L114.2,170.0 L113.5,180.0 L112.8,190.0 L112.0,200.0 L111.2,209.4 L110.5,218.8 L109.8,228.1 L109.0,237.5 L108.2,246.9 L107.5,256.2 L106.8,265.6 L106.0,275.0 L105.2,284.4 L104.5,293.8 L103.8,301.0 L103.0,304.0 L102.2,307.0 L101.5,310.0 L100.8,311.1 L100.0,308.4 L99.2,305.7 L98.5,303.0 L97.8,300.3 L97.0,297.6 L96.2,294.9 L95.5,297.5 L94.8,302.8 L94.0,308.0 L93.2,306.5 L92.5,305.0 L91.8,303.5 L91.0,302.0 L90.2,300.5 L89.5,299.0 L88.8,298.9 L88.0,301.7 L87.2,304.5 L86.5,307.3 L85.8,310.1 L85.0,312.9 L84.2,315.6 L83.5,318.4 L82.8,321.2 L82.0,324.0 L81.2,320.2 L80.5,316.5 L79.8,312.8 L79.0,309.0 L78.2,305.2 L77.5,301.5 L76.8,297.8 L76.0,294.0 L75.2,290.2 L74.5,288.2 L73.8,286.9 L73.0,285.7 L72.2,284.4 L71.5,283.6 L70.8,283.0 L70.0,282.3 L69.2,281.7 L68.5,281.1 L67.8,280.5 L67.0,279.8 L66.2,279.2 L65.5,278.8 L64.8,278.4 L64.0,278.0 L63.2,277.6 L62.5,277.2 L61.8,276.9 L61.0,276.5 L60.2,276.1 L59.5,275.8 L58.8,275.6 L58.0,275.4 L57.2,275.2 L56.5,274.9 L55.8,274.7 L55.0,274.5 L54.2,274.2 L53.5,274.0 L52.8,273.8 L52.0,273.5 L51.2,273.3 L50.5,273.1 L49.8,272.8 L49.0,272.6 L48.2,272.4 L47.5,272.2 L46.8,271.9 L46.0,271.7 L45.2,271.4 L44.5,271.2 L43.8,270.9 L43.0,270.7 L42.2,270.4 L41.5,270.2 L40.8,269.9 L40.0,269.7 L39.2,269.4 L38.5,269.2 L37.8,268.9 L37.0,268.7 L36.2,268.4 L35.5,268.2 L34.8,268.0 L34.0,268.0 L33.2,268.0 L32.5,268.0 L31.8,268.0 L31.0,268.0 L30.2,268.0 L29.5,268.0 L28.8,268.0 L28.0,268.0 L27.2,268.0 L26.5,268.0 L25.8,268.0 L25.0,268.0 L24.2,268.0 L23.5,268.0 L22.8,268.8 L22.0,271.0 L21.2,273.2 L20.5,275.5 L19.8,277.8 L19.0,280.0 L18.2,282.1 L17.5,284.2 L16.8,286.3 L16.0,288.4 L15.2,290.5 L14.5,292.6 L13.8,294.1 L13.0,294.6 L12.2,295.0 L11.5,295.4 L10.8,295.9 L10.0,296.3 L9.2,296.7 L8.5,297.1 L7.8,297.6 L7.0,298.0Z" fill="#120708"/>
<path d="M7.0,255.0 L7.8,254.7 L8.5,254.3 L9.2,254.0 L10.0,253.6 L10.8,253.3 L11.5,253.0 L12.2,252.6 L13.0,252.3 L13.8,251.9 L14.5,251.6 L15.2,251.2 L16.0,250.9 L16.8,250.6 L17.5,250.2 L18.2,250.1 L19.0,250.4 L19.8,250.7 L20.5,251.0 L21.2,251.3 L22.0,251.6 L22.8,251.9 L23.5,252.2 L24.2,252.5 L25.0,252.8 L25.8,253.1 L26.5,253.4 L27.2,253.7 L28.0,254.0 L28.8,254.3 L29.5,254.6 L30.2,255.0 L31.0,255.3 L31.8,255.6 L32.5,255.9 L33.2,256.2 L34.0,256.6 L34.8,256.9 L35.5,257.2 L36.2,257.5 L37.0,257.9 L37.8,258.2 L38.5,258.5 L39.2,258.8 L40.0,259.1 L40.8,259.5 L41.5,259.8 L42.2,260.1 L43.0,260.4 L43.8,260.7 L44.5,261.0 L45.2,261.4 L46.0,261.7 L46.8,262.0 L47.5,262.3 L48.2,262.6 L49.0,262.9 L49.8,263.2 L50.5,263.5 L51.2,263.9 L52.0,264.2 L52.8,264.5 L53.5,264.8 L54.2,265.2 L55.0,265.7 L55.8,266.2 L56.5,266.7 L57.2,267.2 L58.0,267.7 L58.8,268.2 L59.5,268.7 L60.2,269.2 L61.0,269.7 L61.8,270.2 L62.5,270.7 L63.2,270.9 L64.0,270.7 L64.8,270.5 L65.5,270.3 L66.2,270.1 L67.0,269.9 L67.8,269.6 L68.5,269.4 L69.2,269.2 L70.0,269.0 L70.8,270.0 L71.5,271.1 L72.2,272.1 L73.0,273.1 L73.8,271.7 L74.5,270.2 L75.2,268.7 L76.0,267.2 L76.8,265.3 L77.5,263.3 L78.2,260.5 L79.0,256.0 L79.8,251.5 L80.5,248.6 L81.2,246.5 L82.0,244.4 L82.8,242.3 L83.5,240.2 L84.2,238.1 L85.0,236.0 L85.8,233.5 L86.5,231.0 L87.2,228.5 L88.0,226.0 L88.8,222.6 L89.5,219.2 L90.2,215.9 L91.0,212.5 L91.8,209.1 L92.5,204.3 L93.2,198.8 L94.0,193.3 L94.8,187.8 L95.5,181.0 L96.2,173.5 L97.0,166.0 L97.8,162.7 L98.5,159.4 L99.2,156.1 L100.0,152.8 L100.8,148.1 L101.5,143.4 L102.2,139.7 L103.0,137.8 L103.8,136.0 L104.5,134.1 L105.2,132.2 L106.0,130.3 L106.8,128.5 L107.5,126.6 L108.2,125.0 L109.0,124.2 L109.8,123.3 L110.5,122.4 L111.2,121.5 L112.0,120.7 L112.8,120.7 L113.5,120.7 L114.2,120.8 L115.0,120.8 L115.8,120.8 L116.5,120.9 L117.2,120.7 L118.0,120.1 L118.8,119.6 L119.5,119.0 L120.2,118.6 L121.0,118.6 L121.8,118.5 L122.5,118.4 L123.2,118.3 L124.0,118.2 L124.8,118.1 L125.5,118.1 L126.2,118.0 L127.0,118.1 L127.8,118.2 L128.5,118.3 L129.2,118.4 L130.0,118.5 L130.8,118.6 L131.5,118.6 L132.2,118.7 L133.0,118.8 L133.8,118.9 L134.5,119.0 L135.2,119.1 L136.0,119.2 L136.8,119.3 L137.5,119.4 L138.2,119.4 L139.0,119.5 L139.8,119.6 L140.5,119.7 L141.2,119.8 L142.0,119.9 L142.8,120.0 L143.5,120.8 L144.2,122.1 L145.0,123.3 L145.8,124.6 L146.5,125.8 L147.2,127.1 L148.0,128.3 L148.8,129.6 L149.5,130.8 L150.2,132.1 L151.0,133.3 L151.8,134.6 L152.5,135.3 L153.2,135.7 L154.0,136.2 L154.8,136.6 L155.5,137.0 L156.2,137.5 L157.0,137.9 L157.8,138.4 L158.5,138.8 L159.2,139.2 L160.0,139.7 L160.8,140.1 L161.5,140.5 L162.2,141.0 L163.0,141.4 L163.8,141.9 L164.5,142.0 L165.2,142.1 L166.0,142.1 L166.8,142.2 L167.5,142.2 L168.2,142.3 L169.0,142.4 L169.8,142.4 L170.5,142.5 L171.2,142.5 L172.0,142.6 L172.8,142.6 L173.5,142.7 L174.2,142.7 L175.0,142.8 L175.8,142.8 L176.5,142.9 L177.2,142.9 L178.0,143.0 L178.8,142.9 L179.5,142.8 L180.2,142.8 L181.0,142.7 L181.8,142.6 L182.5,142.6 L183.2,142.5 L184.0,142.4 L184.8,142.3 L185.5,142.2 L186.2,142.2 L187.0,142.1 L187.8,142.0 L188.5,142.0 L189.2,142.0 L190.0,142.0 L190.8,142.0 L191.5,142.0 L192.2,142.0 L193.0,142.0 L193.8,142.0 L194.5,142.0 L195.2,142.0 L196.0,142.0 L196.8,142.0 L197.5,142.0 L198.2,142.0 L199.0,142.0 L199.8,142.0 L200.5,142.3 L201.2,143.0 L202.0,143.8 L202.8,144.6 L203.5,145.4 L204.2,146.3 L205.0,147.1 L205.8,147.9 L206.5,149.7 L207.2,152.0 L208.0,154.3 L208.8,156.7 L209.5,159.0 L210.2,161.1 L211.0,162.8 L211.8,164.6 L212.5,166.3 L213.2,168.1 L214.0,169.8 L214.8,171.2 L215.5,172.5 L216.2,173.9 L217.0,175.2 L217.8,176.6 L218.5,177.9 L219.2,179.3 L220.0,180.6 L220.8,182.0 L221.5,182.7 L222.2,183.0 L223.0,183.3 L223.8,183.6 L224.5,183.9 L225.2,184.2 L226.0,184.5 L226.8,184.8 L227.5,185.1 L228.2,185.4 L229.0,185.7 L229.8,186.0 L230.5,186.3 L231.2,186.6 L232.0,186.9 L232.8,187.3 L233.5,187.8 L234.2,188.2 L235.0,188.7 L235.8,189.1 L236.5,189.5 L237.2,190.0 L238.0,190.4 L238.8,190.9 L239.5,191.3 L240.2,191.7 L241.0,192.2 L241.8,192.6 L242.5,193.1 L243.2,193.4 L244.0,193.4 L244.8,193.4 L245.5,193.4 L246.2,193.5 L247.0,193.5 L247.8,193.5 L248.5,193.5 L249.2,193.6 L250.0,193.6 L250.8,193.6 L251.5,193.6 L252.2,193.7 L253.0,193.7 L253.8,193.7 L254.5,193.7 L255.2,193.8 L256.0,193.8 L256.8,193.8 L257.5,193.8 L258.2,193.9 L259.0,193.9 L259.8,193.9 L260.5,193.9 L261.2,194.0 L262.0,194.0 L262.8,194.0 L263.5,194.0 L264.2,194.1 L265.0,194.1 L265.8,194.1 L266.5,194.1 L267.2,194.8 L268.0,196.7 L268.8,198.5 L269.5,200.4 L270.2,202.3 L271.0,204.2 L271.8,206.1 L272.5,207.9 L273.2,209.8 L274.0,211.7 L274.8,213.6 L275.5,215.4 L276.2,217.6 L277.0,220.4 L277.8,223.2 L278.5,225.9 L279.2,228.7 L280.0,231.5 L280.8,234.3 L281.5,237.1 L282.2,238.4 L283.0,236.7 L283.8,234.9 L284.5,233.2 L285.2,232.4 L286.0,233.5 L286.8,232.4 L287.5,228.6 L288.2,224.8 L289.0,221.1 L289.8,217.3 L290.5,214.9 L291.2,213.3 L292.0,211.7 L292.8,210.0 L293.5,208.4 L294.2,206.8 L295.0,205.1 L295.8,203.5 L296.5,201.9 L297.2,200.2 L298.0,198.6 L298.8,198.0 L299.5,197.4 L300.2,196.9 L301.0,196.5 L301.8,196.1 L302.5,195.8 L303.2,195.4 L304.0,195.0 L304.8,194.6 L305.5,194.2 L306.2,193.7 L307.0,192.7 L307.8,191.8 L308.5,190.8 L309.2,189.8 L310.0,188.9 L310.8,187.9 L311.5,186.9 L312.2,186.0 L313.0,185.0 L313.8,184.4 L314.5,183.7 L315.2,183.1 L316.0,182.4 L316.8,181.8 L317.5,181.1 L318.2,180.5 L319.0,179.9 L319.8,179.2 L320.5,178.8 L321.2,178.5 L322.0,178.1 L322.8,177.8 L323.5,177.5 L324.2,177.2 L325.0,176.9 L325.8,176.5 L326.5,176.2 L327.2,176.1 L328.0,176.4 L328.8,176.7 L329.5,177.0 L330.2,177.3 L331.0,177.6 L331.8,177.9 L332.5,178.2 L333.2,178.5 L334.0,178.8 L334.8,179.1 L335.5,179.4 L336.2,179.7 L337.0,180.0 L337.8,180.6 L338.5,181.1 L339.2,181.7 L340.0,182.2 L340.8,182.8 L341.5,183.4 L342.2,183.9 L343.0,184.5 L343.8,184.8 L344.5,184.6 L345.2,184.5 L346.0,184.4 L346.8,184.2 L347.5,184.1 L348.2,184.0 L349.0,183.9 L349.8,184.5 L350.5,185.1 L351.2,185.7 L352.0,186.3 L352.8,186.9 L353.5,187.5 L354.2,188.1 L355.0,188.7 L355.8,189.3 L356.5,189.9 L357.2,190.5 L358.0,191.1 L358.8,191.7 L359.5,191.9 L360.2,192.0 L361.0,192.0 L361.8,192.0 L362.5,192.0 L363.2,192.0 L364.0,192.0 L364.8,192.0 L365.5,192.0 L366.2,192.0 L367.0,192.0 L367.8,192.0 L368.5,192.0 L369.2,192.0 L370.0,192.0 L370.8,191.9 L371.5,191.8 L372.2,191.7 L373.0,191.6 L373.8,191.5 L374.5,191.4 L375.2,191.2 L376.0,191.1 L376.8,191.0 L377.5,190.9 L378.2,190.8 L379.0,190.7 L379.8,190.6 L380.5,190.5 L381.2,190.4 L382.0,190.3 L382.8,190.2 L383.5,190.1 L384.2,190.0 L385.0,189.9 L385.8,189.8 L386.5,189.6 L387.2,189.5 L388.0,189.4 L388.8,189.3 L389.5,189.2 L390.2,189.1 L391.0,189.0 L391.8,186.0 L392.5,183.0 L393.2,180.0 L394.0,177.0 L394.8,174.0 L395.5,171.4 L396.2,169.1 L397.0,166.8 L397.8,164.5 L398.5,163.7 L399.2,163.8 L400.0,163.8 L400.8,163.8 L401.5,163.8 L402.2,163.9 L403.0,163.9 L403.8,163.9 L404.5,164.0 L405.2,163.9 L406.0,163.8 L406.8,163.6 L407.5,163.4 L408.2,163.2 L409.0,163.0 L409.8,162.8 L410.5,162.7 L411.2,162.5 L412.0,162.3 L412.8,162.2 L413.5,162.2 L414.2,162.1 L415.0,162.0 L415.8,161.9 L416.5,161.8 L417.2,161.8 L418.0,161.7 L418.8,161.6 L419.5,161.6 L420.2,161.5 L421.0,161.4 L421.8,163.0 L422.5,164.7 L423.2,166.3 L424.0,168.0 L424.8,169.6 L425.5,171.2 L426.2,172.9 L427.0,174.5 L427.8,176.1 L428.5,177.5 L429.2,178.7 L430.0,179.9 L430.8,181.1 L431.5,182.3 L432.2,183.5 L433.0,184.7 L433.8,185.9 L434.5,187.1 L435.2,188.0 L436.0,188.4 L436.8,188.9 L437.5,189.3 L438.2,189.8 L439.0,190.2 L439.8,190.6 L440.5,191.1 L441.2,191.5 L442.0,192.0 L442.8,192.4 L443.5,192.8 L444.2,193.3 L445.0,193.7 L445.8,194.0 L446.5,194.4 L447.2,194.7 L448.0,195.0 L448.8,195.4 L449.5,195.7 L450.2,196.0 L451.0,196.4 L451.8,196.7 L452.5,197.0 L453.2,197.1 L454.0,197.0 L454.8,197.8 L455.5,198.5 L456.2,199.0 L457.0,199.5 L457.8,199.9 L458.5,200.4 L459.2,200.8 L460.0,201.3 L460.8,202.3 L461.5,203.3 L462.2,204.4 L463.0,205.5 L463.8,206.6 L464.5,207.7 L465.2,208.8 L466.0,209.9 L466.8,211.0 L467.5,212.1 L468.2,213.2 L469.0,214.3 L469.8,215.4 L470.5,216.2 L471.2,216.8 L472.0,217.4 L472.8,218.0 L473.5,218.6 L474.2,219.3 L475.0,219.9 L475.8,220.5 L476.5,221.9 L477.2,223.7 L478.0,225.5 L478.8,227.2 L479.5,229.0 L480.2,230.8 L481.0,232.6 L481.8,234.4 L482.5,236.2 L483.2,238.1 L484.0,240.2 L484.8,242.3 L485.5,244.4 L486.2,246.5 L487.0,246.0 L487.8,244.5 L488.5,243.0 L489.2,241.5 L490.0,240.0 L490.8,240.3 L491.5,240.6 L492.2,241.0 L493.0,241.3 L493.8,241.6 L494.5,241.9 L495.2,242.2 L496.0,242.6 L496.8,242.9 L497.5,243.4 L498.2,244.1 L499.0,244.8 L499.8,245.4 L500.5,246.1 L501.2,246.7 L502.0,247.4 L502.8,248.0 L503.5,248.7 L504.2,249.3 L505.0,250.0 L505.8,253.7 L506.5,257.4 L507.2,261.1 L508.0,263.4 L508.8,264.6 L509.5,265.9 L510.2,267.0 L511.0,267.9 L511.8,268.9 L512.5,269.8 L513.2,270.7 L514.0,271.6 L514.8,272.6 L515.5,273.5 L516.2,274.4 L517.0,275.3 L517.8,276.2 L518.5,277.2 L519.2,278.1 L520.0,279.0 L520.8,280.5 L521.5,280.2 L522.2,279.8 L523.0,279.4 L523.8,278.9 L524.5,278.5 L525.2,278.1 L526.0,277.6 L526.8,277.2 L527.5,276.8 L528.2,276.3 L529.0,275.9 L529.8,275.5 L530.5,276.3 L531.2,277.8 L532.0,279.2 L532.8,280.6 L533.5,282.1 L534.2,283.6 L535.0,285.0 L535.8,286.5 L536.5,287.9 L537.2,289.3 L538.0,290.7 L538.8,290.9 L539.5,291.1 L540.2,291.1 L541.0,291.2 L541.8,291.3 L542.5,291.4 L543.2,291.5 L544.0,291.6 L544.8,291.6 L545.5,291.7 L546.2,291.8 L547.0,291.9 L547.8,292.0 L548.5,291.6 L549.2,291.0 L550.0,290.4 L550.8,289.8 L551.5,289.2 L552.2,288.6 L553.0,288.0 L553.8,285.3 L554.5,282.7 L555.2,280.0 L556.0,277.3 L556.8,274.2 L557.5,271.2 L558.2,268.1 L559.0,265.0 L559.8,261.9 L560.5,258.8 L561.2,255.8 L562.0,252.7 L562.8,251.9 L563.5,251.1 L564.2,250.3 L565.0,249.5 L565.8,249.1 L566.5,248.8 L567.2,248.4 L568.0,248.0 L568.8,247.6 L569.5,247.2 L570.2,246.9 L571.0,246.5 L571.8,246.1 L572.5,245.5 L573.2,244.8 L574.0,244.0 L574.8,243.2 L575.5,242.5 L576.2,241.8 L577.0,241.0 L577.8,240.2 L578.5,239.5 L579.2,239.0 L580.0,239.0 L580.8,239.0 L581.5,239.0 L582.2,239.0 L583.0,239.0 L583.8,239.0 L584.5,239.0 L585.2,239.0 L586.0,239.0 L586.8,239.0 L587.5,239.0 L588.2,239.0 L589.0,239.0 L589.8,239.0 L590.5,239.0 L591.2,239.0 L592.0,239.0 L592.8,239.0 L593.5,239.0 L594.2,239.0 L595.0,239.0 L595.8,239.0 L596.5,239.0 L597.2,239.0 L598.0,239.0 L598.8,239.0 L599.5,239.0 L600.2,239.0 L601.0,239.0 L601.8,239.0 L602.5,239.2 L603.2,239.5 L604.0,239.8 L604.8,240.1 L605.5,240.5 L606.2,240.8 L607.0,241.1 L607.8,241.4 L608.5,241.7 L609.2,242.0 L610.0,242.3 L610.8,242.6 L611.5,243.0 L612.2,243.3 L613.0,243.6 L613.8,243.9 L614.5,244.4 L615.2,244.9 L616.0,245.5 L616.8,246.1 L617.5,246.6 L618.2,247.2 L619.0,247.8 L619.8,248.3 L620.5,248.9 L621.2,249.4 L622.0,250.0 L622.8,250.6 L623.5,251.1 L624.2,251.7 L625.0,252.2 L625.8,252.8 L626.5,253.3 L627.2,253.8 L628.0,254.3 L628.8,254.8 L629.5,255.2 L630.2,255.7 L631.0,256.2 L631.8,256.7 L632.5,257.1 L633.2,257.6 L634.0,258.1 L634.8,258.6 L635.5,258.7 L636.2,258.7 L637.0,258.7 L637.8,258.5 L638.5,258.2 L639.2,258.0 L640.0,257.8 L640.8,257.5 L641.5,257.3 L642.2,257.0 L643.0,256.8 L643.8,256.6 L644.5,256.3 L645.2,256.1 L646.0,255.8 L646.8,255.6 L647.5,255.4 L648.2,255.1 L649.0,254.9 L649.8,254.7 L650.5,253.9 L651.2,252.8 L652.0,251.7 L652.8,250.6 L653.5,249.6 L654.2,248.5 L655.0,247.4 L655.8,246.4 L656.5,246.2 L657.2,246.6 L658.0,247.0 L658.8,247.4 L659.5,247.8 L660.2,248.1 L661.0,248.5 L661.8,248.9 L662.5,249.2 L663.2,249.6 L664.0,250.0 L664.8,250.4 L665.5,250.8 L666.2,251.1 L667.0,251.2 L667.8,251.4 L668.5,251.6 L669.2,251.7 L670.0,251.9 L670.8,252.1 L671.5,252.2 L672.2,252.4 L673.0,252.6 L673.8,252.7 L674.5,252.9 L675.2,253.1 L676.0,253.3 L676.8,253.6 L677.5,253.8 L678.2,254.1 L679.0,254.3 L679.8,254.6 L680.5,254.8 L681.2,255.1 L682.0,255.3 L682.8,255.5 L683.5,255.4 L684.2,255.4 L685.0,255.6 L685.8,255.9 L686.5,256.1 L687.2,256.4 L688.0,256.7 L688.8,256.9 L689.5,257.2 L690.2,257.4 L691.0,257.7 L691.8,258.0 L692.5,258.2 L693.2,258.5 L694.0,258.7 L694.8,259.0 L695.5,259.3 L696.2,259.5 L697.0,259.7 L697.8,259.9 L698.5,260.1 L699.2,260.3 L700.0,260.5 L700.8,260.7 L701.5,260.9 L702.2,261.1 L703.0,261.3 L703.8,261.5 L704.5,261.6 L705.2,261.8 L706.0,262.0 L706.8,262.2 L707.5,262.4 L708.2,262.6 L709.0,262.7 L709.8,262.8 L710.5,262.9 L711.2,262.9 L712.0,263.0 L712.8,263.1 L713.5,263.2 L714.2,263.3 L715.0,263.4 L715.8,263.5 L716.5,263.6 L717.2,263.6 L718.0,263.7 L718.8,263.8 L719.5,263.9 L720.2,264.0 L721.0,264.1 L721.8,264.2 L722.5,264.3 L723.2,264.3 L724.0,264.4 L724.8,264.5 L725.5,264.6 L726.2,264.7 L727.0,264.8 L727.8,265.0 L728.5,265.1 L729.2,265.3 L730.0,265.5 L730.8,265.7 L731.5,265.8 L732.2,266.0 L733.0,266.2 L733.8,266.4 L734.5,266.5 L735.2,266.7 L736.0,266.9 L736.8,267.1 L737.5,267.1 L738.2,267.2 L739.0,267.3 L739.8,267.4 L740.5,267.4 L741.2,267.5 L742.0,267.6 L742.8,267.7 L743.5,267.8 L744.2,267.8 L745.0,267.9 L745.8,269.4 L746.5,273.1 L747.2,278.0 L748.0,282.9 L748.8,287.8 L749.5,292.7 L750.2,297.6 L751.0,302.5 L751.8,307.4 L752.5,309.9 L753.2,311.3 L754.0,312.8 L754.8,314.2 L755.5,315.6 L756.2,317.0 L757.0,318.4 L757.8,319.8 L758.5,321.2 L759.2,322.6 L760.0,324.0 L760.8,325.9 L761.5,327.9 L762.2,329.8 L763.0,331.7 L763.8,333.6 L764.5,335.6 L765.2,337.5 L766.0,339.4 L766.8,341.4 L767.5,343.7 L768.2,346.2 L769.0,348.7 L769.8,351.2 L770.5,353.7 L771.2,349.6 L772.0,345.3 L772.8,341.1 L773.5,336.8 L774.2,334.9 L775.0,337.8 L775.8,340.6 L776.5,343.5 L777.2,346.4 L778.0,349.2 L778.8,349.9 L779.5,347.0 L780.2,343.9 L781.0,340.8 L781.8,337.7 L782.5,335.5 L783.2,333.7 L784.0,331.9 L784.8,330.0 L785.5,328.2 L786.2,327.0 L787.0,327.0 L787.8,327.0 L788.5,327.0 L789.2,327.0 L790.0,327.0 L790.8,327.0 L791.5,327.0 L792.2,327.0 L793.0,327.0 L793.8,327.0 L794.5,327.0 L795.2,327.0 L796.0,327.0 L796.8,327.0 L797.5,327.8 L798.2,329.0 L799.0,330.2 L799.8,331.4 L800.5,332.5 L801.2,333.7 L802.0,334.9 L802.8,336.1 L803.5,337.3 L804.2,338.5 L805.0,339.7 L805.8,340.9 L806.5,342.0 L807.2,343.2 L808.0,344.4 L808.8,345.6 L809.5,346.4 L810.2,347.1 L811.0,347.7 L811.8,348.4 L812.5,349.0 L813.2,349.7 L814.0,350.3 L814.8,351.0 L815.5,351.6 L816.2,352.3 L817.0,352.9 L817.8,353.6 L818.5,354.2 L819.2,354.9 L820.0,355.5 L820.8,356.2 L821.5,356.8 L822.2,357.5 L823.0,358.1 L823.8,358.8 L824.5,359.4 L825.2,360.0 L826.0,360.6 L826.8,361.2 L827.5,361.8 L828.2,362.4 L829.0,363.0 L829.8,363.6 L830.5,364.2 L831.2,364.5 L832.0,364.7 L832.8,364.9 L833.5,365.1 L834.2,365.4 L835.0,365.6 L835.8,365.8 L836.5,366.0 L837.2,366.2 L838.0,366.4 L838.8,366.6 L839.5,366.9 L840.2,366.8 L841.0,366.0 L841.8,365.2 L842.5,364.5 L843.2,363.8 L844.0,363.0 L844.8,362.2 L845.5,361.5 L846.2,358.4 L847.0,356.6 L847.8,354.8 L848.5,352.9 L849.2,351.1 L850.0,349.3 L850.8,347.5 L851.5,345.6 L852.2,343.8 L853.0,342.0 L853.8,342.3 L854.5,342.5 L855.2,342.8 L856.0,343.1 L856.8,343.4 L857.5,343.6 L858.2,343.9 L859.0,344.2 L859.8,344.5 L860.5,344.7 L861.2,345.0 L862.0,345.3 L862.8,345.5 L863.5,345.8 L864.2,346.2 L865.0,346.9 L865.8,347.5 L866.5,348.2 L867.2,348.8 L868.0,349.5 L868.8,350.1 L869.5,350.8 L870.2,351.4 L871.0,352.1 L871.8,352.7 L872.5,353.4 L873.2,354.0 L874.0,354.7 L874.8,355.3 L875.5,356.0 L876.2,356.6 L877.0,357.3 L877.8,357.9 L878.5,358.6 L879.2,359.4 L880.0,360.6 L880.8,361.8 L881.5,363.0 L882.2,364.2 L883.0,365.4 L883.8,366.6 L884.5,367.8 L885.2,369.0 L886.0,370.2 L886.8,371.4 L887.5,372.6 L888.2,373.8 L889.0,375.0 L889.8,383.6 L890.5,391.4 L891.2,391.0 L891.2,391.0 L890.5,391.4 L889.8,392.1 L889.0,392.8 L888.2,393.4 L887.5,394.1 L886.8,394.7 L886.0,395.4 L885.2,396.0 L884.5,396.7 L883.8,397.3 L883.0,398.0 L882.2,397.1 L881.5,396.1 L880.8,395.2 L880.0,394.2 L879.2,393.3 L878.5,392.4 L877.8,391.4 L877.0,390.5 L876.2,389.6 L875.5,388.6 L874.8,387.4 L874.0,385.6 L873.2,383.7 L872.5,381.9 L871.8,380.1 L871.0,378.2 L870.2,376.4 L869.5,374.6 L868.8,372.7 L868.0,370.9 L867.2,369.1 L866.5,367.2 L865.8,365.1 L865.0,362.4 L864.2,359.7 L863.5,357.0 L862.8,354.3 L862.0,351.6 L861.2,348.9 L860.5,348.2 L859.8,348.6 L859.0,349.0 L858.2,349.4 L857.5,349.8 L856.8,350.2 L856.0,351.0 L855.2,351.8 L854.5,352.5 L853.8,353.2 L853.0,354.0 L852.2,354.8 L851.5,355.5 L850.8,356.2 L850.0,357.0 L849.2,357.8 L848.5,358.5 L847.8,359.2 L847.0,360.0 L846.2,360.8 L845.5,361.5 L844.8,362.2 L844.0,363.0 L843.2,363.8 L842.5,364.5 L841.8,365.2 L841.0,366.0 L840.2,366.8 L839.5,366.9 L838.8,366.6 L838.0,366.4 L837.2,366.2 L836.5,366.0 L835.8,365.8 L835.0,365.6 L834.2,365.4 L833.5,365.1 L832.8,364.9 L832.0,364.7 L831.2,364.5 L830.5,364.3 L829.8,364.1 L829.0,363.9 L828.2,363.6 L827.5,363.4 L826.8,363.2 L826.0,363.0 L825.2,362.3 L824.5,361.6 L823.8,360.9 L823.0,360.2 L822.2,359.5 L821.5,358.8 L820.8,358.1 L820.0,357.4 L819.2,356.7 L818.5,356.0 L817.8,355.3 L817.0,354.6 L816.2,353.9 L815.5,353.2 L814.8,352.5 L814.0,351.8 L813.2,351.0 L812.5,350.3 L811.8,349.6 L811.0,348.9 L810.2,348.2 L809.5,347.4 L808.8,346.6 L808.0,345.8 L807.2,344.9 L806.5,344.1 L805.8,343.3 L805.0,342.4 L804.2,341.6 L803.5,340.8 L802.8,339.9 L802.0,339.1 L801.2,338.3 L800.5,339.3 L799.8,341.3 L799.0,343.2 L798.2,345.2 L797.5,347.1 L796.8,349.1 L796.0,351.0 L795.2,353.0 L794.5,354.9 L793.8,356.9 L793.0,358.8 L792.2,360.8 L791.5,361.0 L790.8,360.4 L790.0,359.8 L789.2,359.2 L788.5,358.6 L787.8,358.0 L787.0,357.4 L786.2,356.8 L785.5,356.2 L784.8,355.6 L784.0,355.0 L783.2,354.3 L782.5,353.6 L781.8,352.8 L781.0,352.1 L780.2,351.4 L779.5,350.6 L778.8,349.9 L778.0,349.2 L777.2,346.4 L776.5,343.5 L775.8,340.6 L775.0,337.8 L774.2,334.9 L773.5,336.8 L772.8,341.1 L772.0,345.3 L771.2,349.6 L770.5,353.9 L769.8,358.1 L769.0,362.4 L768.2,361.4 L767.5,360.5 L766.8,359.6 L766.0,358.7 L765.2,357.8 L764.5,356.8 L763.8,355.9 L763.0,355.0 L762.2,355.3 L761.5,355.6 L760.8,355.9 L760.0,356.2 L759.2,356.5 L758.5,356.8 L757.8,357.1 L757.0,357.4 L756.2,357.7 L755.5,355.0 L754.8,350.7 L754.0,346.4 L753.2,342.1 L752.5,337.9 L751.8,332.3 L751.0,324.3 L750.2,316.2 L749.5,308.2 L748.8,300.2 L748.0,292.1 L747.2,289.2 L746.5,286.3 L745.8,283.4 L745.0,280.5 L744.2,278.1 L743.5,275.7 L742.8,273.3 L742.0,271.0 L741.2,270.5 L740.5,269.9 L739.8,269.4 L739.0,268.9 L738.2,268.4 L737.5,267.9 L736.8,267.4 L736.0,266.9 L735.2,266.7 L734.5,266.5 L733.8,266.4 L733.0,266.2 L732.2,266.0 L731.5,265.8 L730.8,265.7 L730.0,265.5 L729.2,265.3 L728.5,265.1 L727.8,265.0 L727.0,264.8 L726.2,264.7 L725.5,264.6 L724.8,264.5 L724.0,264.4 L723.2,264.3 L722.5,264.3 L721.8,264.2 L721.0,264.1 L720.2,264.0 L719.5,263.9 L718.8,263.8 L718.0,263.7 L717.2,263.6 L716.5,263.6 L715.8,263.5 L715.0,263.4 L714.2,263.3 L713.5,263.2 L712.8,263.1 L712.0,263.0 L711.2,262.9 L710.5,262.9 L709.8,262.8 L709.0,262.7 L708.2,262.6 L707.5,262.4 L706.8,262.2 L706.0,262.0 L705.2,261.8 L704.5,261.6 L703.8,261.5 L703.0,261.3 L702.2,261.1 L701.5,260.9 L700.8,260.7 L700.0,260.5 L699.2,260.3 L698.5,260.1 L697.8,259.9 L697.0,259.7 L696.2,259.5 L695.5,259.3 L694.8,259.0 L694.0,258.7 L693.2,258.5 L692.5,258.2 L691.8,258.0 L691.0,257.7 L690.2,257.4 L689.5,257.2 L688.8,256.9 L688.0,256.7 L687.2,256.4 L686.5,256.1 L685.8,255.9 L685.0,255.6 L684.2,255.4 L683.5,255.4 L682.8,255.5 L682.0,255.7 L681.2,255.9 L680.5,256.0 L679.8,256.2 L679.0,256.3 L678.2,256.5 L677.5,256.7 L676.8,256.8 L676.0,257.0 L675.2,257.1 L674.5,256.9 L673.8,256.5 L673.0,256.0 L672.2,255.6 L671.5,255.2 L670.8,254.8 L670.0,254.3 L669.2,253.9 L668.5,253.5 L667.8,253.1 L667.0,252.6 L666.2,252.2 L665.5,252.2 L664.8,252.3 L664.0,252.4 L663.2,252.5 L662.5,252.6 L661.8,252.8 L661.0,252.9 L660.2,253.0 L659.5,253.1 L658.8,253.3 L658.0,253.4 L657.2,253.5 L656.5,253.6 L655.8,253.8 L655.0,253.9 L654.2,254.0 L653.5,254.1 L652.8,254.3 L652.0,254.4 L651.2,254.5 L650.5,254.6 L649.8,254.7 L649.0,254.9 L648.2,255.1 L647.5,255.4 L646.8,255.6 L646.0,255.8 L645.2,256.1 L644.5,256.3 L643.8,256.6 L643.0,256.8 L642.2,257.0 L641.5,257.3 L640.8,257.5 L640.0,257.8 L639.2,258.0 L638.5,258.2 L637.8,258.5 L637.0,258.7 L636.2,258.7 L635.5,258.7 L634.8,258.7 L634.0,258.7 L633.2,258.7 L632.5,258.7 L631.8,258.7 L631.0,258.7 L630.2,258.6 L629.5,258.6 L628.8,258.6 L628.0,258.6 L627.2,258.6 L626.5,258.6 L625.8,258.4 L625.0,257.7 L624.2,257.0 L623.5,256.3 L622.8,255.6 L622.0,254.9 L621.2,254.2 L620.5,253.5 L619.8,252.8 L619.0,252.1 L618.2,251.4 L617.5,250.7 L616.8,250.0 L616.0,249.3 L615.2,248.6 L614.5,247.9 L613.8,247.4 L613.0,247.2 L612.2,247.0 L611.5,246.8 L610.8,246.6 L610.0,246.4 L609.2,246.2 L608.5,246.0 L607.8,245.8 L607.0,245.6 L606.2,245.4 L605.5,245.2 L604.8,245.0 L604.0,244.8 L603.2,244.6 L602.5,244.4 L601.8,244.4 L601.0,244.8 L600.2,245.2 L599.5,245.5 L598.8,245.9 L598.0,246.3 L597.2,246.6 L596.5,247.0 L595.8,247.4 L595.0,247.7 L594.2,248.1 L593.5,248.5 L592.8,248.8 L592.0,249.2 L591.2,249.6 L590.5,249.9 L589.8,250.3 L589.0,250.7 L588.2,251.0 L587.5,251.5 L586.8,252.1 L586.0,252.7 L585.2,253.3 L584.5,253.8 L583.8,254.4 L583.0,255.0 L582.2,255.6 L581.5,256.1 L580.8,256.7 L580.0,257.3 L579.2,257.9 L578.5,260.3 L577.8,263.6 L577.0,266.9 L576.2,270.2 L575.5,273.5 L574.8,276.6 L574.0,279.1 L573.2,281.6 L572.5,284.1 L571.8,286.2 L571.0,287.2 L570.2,288.3 L569.5,289.4 L568.8,290.5 L568.0,291.5 L567.2,292.6 L566.5,293.7 L565.8,294.8 L565.0,295.8 L564.2,296.9 L563.5,298.0 L562.8,299.1 L562.0,300.1 L561.2,301.2 L560.5,302.3 L559.8,302.8 L559.0,302.4 L558.2,301.9 L557.5,301.5 L556.8,301.0 L556.0,300.6 L555.2,300.1 L554.5,299.7 L553.8,299.2 L553.0,298.7 L552.2,298.3 L551.5,297.8 L550.8,297.4 L550.0,296.9 L549.2,296.5 L548.5,296.0 L547.8,295.6 L547.0,295.1 L546.2,294.6 L545.5,294.4 L544.8,294.2 L544.0,294.0 L543.2,293.8 L542.5,293.6 L541.8,293.4 L541.0,293.2 L540.2,293.0 L539.5,292.9 L538.8,292.2 L538.0,290.8 L537.2,289.3 L536.5,287.9 L535.8,286.5 L535.0,285.0 L534.2,283.6 L533.5,282.1 L532.8,280.6 L532.0,279.2 L531.2,277.8 L530.5,276.3 L529.8,275.5 L529.0,275.9 L528.2,276.3 L527.5,276.8 L526.8,277.2 L526.0,277.6 L525.2,278.1 L524.5,278.5 L523.8,278.9 L523.0,279.4 L522.2,279.8 L521.5,280.2 L520.8,280.7 L520.0,281.1 L519.2,281.2 L518.5,281.4 L517.8,281.5 L517.0,281.6 L516.2,281.8 L515.5,281.9 L514.8,281.5 L514.0,280.0 L513.2,278.4 L512.5,276.9 L511.8,275.4 L511.0,273.9 L510.2,272.3 L509.5,270.8 L508.8,268.6 L508.0,264.9 L507.2,261.1 L506.5,257.4 L505.8,253.7 L505.0,250.0 L504.2,249.3 L503.5,248.7 L502.8,248.0 L502.0,247.4 L501.2,246.7 L500.5,246.1 L499.8,245.4 L499.0,244.8 L498.2,244.1 L497.5,243.4 L496.8,242.9 L496.0,242.6 L495.2,242.2 L494.5,241.9 L493.8,241.6 L493.0,241.3 L492.2,241.0 L491.5,240.6 L490.8,240.3 L490.0,240.0 L489.2,241.5 L488.5,243.0 L487.8,244.5 L487.0,246.0 L486.2,247.5 L485.5,249.0 L484.8,250.5 L484.0,252.0 L483.2,253.5 L482.5,254.3 L481.8,254.7 L481.0,255.1 L480.2,255.6 L479.5,256.0 L478.8,256.4 L478.0,256.9 L477.2,257.3 L476.5,257.7 L475.8,257.1 L475.0,254.2 L474.2,251.4 L473.5,248.6 L472.8,245.8 L472.0,243.0 L471.2,240.2 L470.5,237.4 L469.8,234.6 L469.0,231.9 L468.2,229.3 L467.5,226.6 L466.8,224.0 L466.0,221.4 L465.2,218.7 L464.5,216.1 L463.8,213.5 L463.0,210.8 L462.2,208.2 L461.5,205.6 L460.8,203.6 L460.0,203.0 L459.2,202.3 L458.5,201.5 L457.8,200.8 L457.0,200.0 L456.2,199.3 L455.5,198.5 L454.8,197.8 L454.0,197.0 L453.2,197.1 L452.5,197.1 L451.8,197.1 L451.0,197.1 L450.2,197.1 L449.5,197.1 L448.8,197.1 L448.0,197.1 L447.2,197.1 L446.5,197.1 L445.8,197.1 L445.0,197.1 L444.2,197.3 L443.5,197.4 L442.8,197.6 L442.0,197.7 L441.2,197.9 L440.5,198.1 L439.8,198.2 L439.0,198.4 L438.2,198.5 L437.5,198.7 L436.8,198.8 L436.0,199.0 L435.2,199.1 L434.5,199.5 L433.8,199.9 L433.0,200.3 L432.2,200.7 L431.5,201.2 L430.8,201.6 L430.0,202.0 L429.2,202.4 L428.5,202.9 L427.8,203.3 L427.0,203.7 L426.2,204.1 L425.5,204.1 L424.8,203.7 L424.0,203.4 L423.2,203.1 L422.5,202.8 L421.8,202.5 L421.0,202.2 L420.2,201.8 L419.5,201.5 L418.8,201.2 L418.0,201.0 L417.2,200.8 L416.5,200.6 L415.8,200.4 L415.0,200.2 L414.2,200.0 L413.5,199.8 L412.8,199.6 L412.0,199.4 L411.2,199.9 L410.5,200.5 L409.8,201.0 L409.0,201.5 L408.2,202.1 L407.5,202.6 L406.8,203.2 L406.0,203.7 L405.2,204.2 L404.5,204.8 L403.8,205.4 L403.0,206.0 L402.2,206.6 L401.5,207.2 L400.8,207.9 L400.0,208.5 L399.2,207.9 L398.5,207.3 L397.8,206.7 L397.0,206.2 L396.2,205.6 L395.5,205.0 L394.8,204.4 L394.0,203.8 L393.2,203.3 L392.5,202.7 L391.8,202.1 L391.0,201.5 L390.2,201.3 L389.5,201.1 L388.8,200.9 L388.0,200.7 L387.2,200.5 L386.5,200.3 L385.8,200.1 L385.0,199.9 L384.2,199.7 L383.5,199.7 L382.8,200.0 L382.0,200.2 L381.2,200.4 L380.5,200.6 L379.8,200.8 L379.0,201.1 L378.2,201.3 L377.5,201.5 L376.8,201.6 L376.0,201.4 L375.2,201.2 L374.5,200.9 L373.8,200.7 L373.0,200.5 L372.2,200.3 L371.5,200.1 L370.8,199.9 L370.0,199.7 L369.2,199.2 L368.5,198.7 L367.8,198.1 L367.0,197.6 L366.2,197.1 L365.5,196.6 L364.8,196.1 L364.0,195.5 L363.2,195.0 L362.5,194.5 L361.8,194.0 L361.0,193.5 L360.2,192.9 L359.5,192.4 L358.8,191.8 L358.0,191.1 L357.2,190.5 L356.5,189.9 L355.8,189.3 L355.0,188.7 L354.2,188.1 L353.5,187.5 L352.8,186.9 L352.0,186.3 L351.2,185.7 L350.5,185.1 L349.8,184.5 L349.0,183.9 L348.2,184.0 L347.5,184.1 L346.8,184.2 L346.0,184.4 L345.2,184.5 L344.5,184.6 L343.8,184.8 L343.0,184.9 L342.2,185.0 L341.5,185.2 L340.8,185.3 L340.0,185.4 L339.2,185.6 L338.5,185.7 L337.8,185.8 L337.0,185.9 L336.2,186.1 L335.5,186.3 L334.8,186.4 L334.0,186.6 L333.2,186.7 L332.5,186.9 L331.8,187.0 L331.0,187.2 L330.2,187.3 L329.5,186.8 L328.8,186.0 L328.0,185.2 L327.2,184.4 L326.5,184.9 L325.8,186.2 L325.0,187.5 L324.2,188.8 L323.5,190.1 L322.8,191.3 L322.0,192.6 L321.2,193.9 L320.5,195.2 L319.8,196.1 L319.0,196.4 L318.2,196.8 L317.5,197.1 L316.8,197.4 L316.0,197.7 L315.2,198.0 L314.5,198.4 L313.8,198.7 L313.0,199.0 L312.2,201.4 L311.5,203.7 L310.8,206.1 L310.0,208.4 L309.2,210.8 L308.5,213.1 L307.8,215.5 L307.0,217.9 L306.2,220.2 L305.5,221.9 L304.8,223.1 L304.0,224.4 L303.2,225.7 L302.5,227.0 L301.8,228.3 L301.0,229.6 L300.2,230.9 L299.5,232.1 L298.8,233.0 L298.0,233.2 L297.2,233.3 L296.5,233.4 L295.8,233.5 L295.0,233.6 L294.2,233.8 L293.5,233.9 L292.8,234.0 L292.0,234.1 L291.2,236.1 L290.5,238.0 L289.8,238.9 L289.0,237.8 L288.2,236.7 L287.5,235.6 L286.8,234.6 L286.0,233.5 L285.2,232.4 L284.5,233.2 L283.8,234.9 L283.0,236.7 L282.2,238.4 L281.5,240.2 L280.8,241.9 L280.0,243.7 L279.2,245.4 L278.5,245.5 L277.8,244.8 L277.0,244.0 L276.2,243.2 L275.5,242.5 L274.8,241.8 L274.0,241.0 L273.2,240.2 L272.5,239.5 L271.8,238.8 L271.0,238.0 L270.2,237.2 L269.5,235.3 L268.8,232.8 L268.0,230.2 L267.2,227.7 L266.5,225.2 L265.8,222.7 L265.0,220.1 L264.2,217.6 L263.5,215.1 L262.8,212.5 L262.0,210.0 L261.2,209.5 L260.5,208.9 L259.8,208.4 L259.0,207.9 L258.2,207.3 L257.5,206.8 L256.8,206.2 L256.0,205.7 L255.2,205.2 L254.5,205.2 L253.8,205.4 L253.0,205.7 L252.2,205.9 L251.5,206.2 L250.8,206.4 L250.0,206.7 L249.2,206.9 L248.5,207.2 L247.8,207.4 L247.0,207.7 L246.2,207.9 L245.5,207.8 L244.8,207.6 L244.0,207.3 L243.2,207.1 L242.5,206.8 L241.8,206.6 L241.0,206.3 L240.2,206.1 L239.5,205.6 L238.8,204.9 L238.0,204.2 L237.2,203.5 L236.5,202.8 L235.8,202.2 L235.0,201.5 L234.2,200.8 L233.5,200.2 L232.8,199.5 L232.0,198.8 L231.2,198.1 L230.5,197.4 L229.8,196.7 L229.0,195.8 L228.2,194.9 L227.5,194.0 L226.8,193.1 L226.0,192.2 L225.2,191.3 L224.5,190.4 L223.8,189.5 L223.0,188.6 L222.2,187.7 L221.5,186.8 L220.8,185.9 L220.0,185.0 L219.2,183.9 L218.5,182.8 L217.8,181.6 L217.0,180.5 L216.2,179.4 L215.5,178.2 L214.8,177.1 L214.0,176.0 L213.2,174.9 L212.5,173.8 L211.8,172.6 L211.0,171.5 L210.2,170.4 L209.5,168.8 L208.8,167.0 L208.0,165.2 L207.2,163.4 L206.5,161.6 L205.8,159.8 L205.0,158.0 L204.2,156.2 L203.5,154.4 L202.8,152.6 L202.0,150.8 L201.2,149.0 L200.5,147.2 L199.8,146.0 L199.0,145.9 L198.2,145.9 L197.5,145.9 L196.8,145.8 L196.0,145.8 L195.2,145.8 L194.5,145.7 L193.8,145.7 L193.0,145.7 L192.2,145.6 L191.5,145.6 L190.8,145.5 L190.0,145.5 L189.2,145.5 L188.5,145.4 L187.8,145.4 L187.0,145.3 L186.2,145.3 L185.5,145.3 L184.8,145.2 L184.0,145.2 L183.2,145.2 L182.5,145.1 L181.8,145.1 L181.0,145.1 L180.2,145.0 L179.5,145.1 L178.8,145.2 L178.0,145.3 L177.2,145.4 L176.5,145.5 L175.8,145.6 L175.0,145.8 L174.2,145.9 L173.5,146.0 L172.8,146.1 L172.0,146.2 L171.2,146.3 L170.5,146.4 L169.8,146.5 L169.0,146.7 L168.2,146.8 L167.5,146.9 L166.8,147.0 L166.0,147.1 L165.2,147.2 L164.5,147.3 L163.8,147.4 L163.0,147.6 L162.2,147.7 L161.5,147.8 L160.8,147.9 L160.0,148.0 L159.2,147.8 L158.5,147.6 L157.8,147.3 L157.0,147.1 L156.2,146.9 L155.5,146.7 L154.8,146.4 L154.0,146.2 L153.2,146.0 L152.5,145.8 L151.8,145.5 L151.0,145.3 L150.2,145.1 L149.5,144.7 L148.8,144.1 L148.0,143.6 L147.2,143.1 L146.5,142.6 L145.8,142.0 L145.0,141.5 L144.2,141.0 L143.5,140.4 L142.8,139.9 L142.0,139.4 L141.2,138.9 L140.5,138.3 L139.8,137.9 L139.0,137.5 L138.2,137.1 L137.5,136.8 L136.8,136.4 L136.0,136.0 L135.2,135.6 L134.5,135.2 L133.8,134.9 L133.0,134.5 L132.2,134.1 L131.5,133.8 L130.8,133.4 L130.0,133.0 L129.2,132.6 L128.5,132.2 L127.8,131.9 L127.0,131.5 L126.2,131.1 L125.5,131.0 L124.8,131.0 L124.0,131.0 L123.2,131.0 L122.5,131.0 L121.8,131.0 L121.0,131.0 L120.2,131.0 L119.5,131.0 L118.8,131.0 L118.0,131.0 L117.2,131.6 L116.5,132.1 L115.8,132.7 L115.0,133.9 L114.2,136.2 L113.5,138.5 L112.8,140.7 L112.0,143.0 L111.2,146.6 L110.5,150.1 L109.8,153.7 L109.0,157.2 L108.2,160.8 L107.5,166.7 L106.8,173.7 L106.0,180.7 L105.2,187.7 L104.5,192.4 L103.8,196.0 L103.0,199.6 L102.2,203.2 L101.5,206.8 L100.8,210.4 L100.0,214.0 L99.2,216.5 L98.5,218.9 L97.8,221.4 L97.0,223.9 L96.2,226.3 L95.5,228.8 L94.8,231.2 L94.0,233.7 L93.2,236.2 L92.5,238.5 L91.8,240.8 L91.0,243.0 L90.2,245.2 L89.5,247.5 L88.8,249.8 L88.0,252.0 L87.2,254.2 L86.5,256.5 L85.8,258.4 L85.0,259.7 L84.2,261.0 L83.5,262.3 L82.8,263.6 L82.0,264.9 L81.2,266.2 L80.5,267.5 L79.8,268.8 L79.0,270.1 L78.2,271.4 L77.5,272.7 L76.8,274.0 L76.0,275.3 L75.2,276.6 L74.5,277.9 L73.8,279.2 L73.0,280.5 L72.2,281.8 L71.5,283.1 L70.8,283.0 L70.0,281.3 L69.2,279.3 L68.5,277.3 L67.8,274.5 L67.0,273.8 L66.2,273.2 L65.5,272.8 L64.8,272.4 L64.0,272.0 L63.2,271.6 L62.5,271.2 L61.8,270.9 L61.0,270.5 L60.2,270.1 L59.5,269.8 L58.8,269.6 L58.0,269.4 L57.2,269.2 L56.5,268.9 L55.8,268.7 L55.0,268.5 L54.2,268.2 L53.5,268.0 L52.8,267.8 L52.0,267.5 L51.2,267.3 L50.5,267.1 L49.8,266.8 L49.0,266.6 L48.2,266.4 L47.5,266.2 L46.8,265.9 L46.0,265.7 L45.2,265.4 L44.5,265.2 L43.8,264.9 L43.0,264.7 L42.2,264.4 L41.5,264.2 L40.8,263.9 L40.0,263.7 L39.2,263.4 L38.5,263.2 L37.8,262.9 L37.0,262.7 L36.2,262.4 L35.5,262.2 L34.8,262.0 L34.0,262.0 L33.2,262.0 L32.5,262.0 L31.8,262.0 L31.0,262.0 L30.2,262.0 L29.5,262.0 L28.8,262.0 L28.0,262.0 L27.2,262.0 L26.5,262.0 L25.8,262.0 L25.0,262.0 L24.2,262.0 L23.5,260.7 L22.8,259.4 L22.0,259.7 L21.2,259.9 L20.5,260.2 L19.8,260.4 L19.0,260.7 L18.2,260.8 L17.5,262.1 L16.8,264.0 L16.0,265.9 L15.2,267.8 L14.5,269.6 L13.8,271.0 L13.0,271.2 L12.2,271.4 L11.5,271.7 L10.8,271.9 L10.0,272.1 L9.2,272.3 L8.5,272.6 L7.8,272.8 L7.0,273.0Z" fill="#0c2e25" clip-path="url(#dk)"/>
<path d="M7.0,242.0 L7.8,241.7 L8.5,241.3 L9.2,241.0 L10.0,240.6 L10.8,240.3 L11.5,240.0 L12.2,239.6 L13.0,239.3 L13.8,238.9 L14.5,238.6 L15.2,238.2 L16.0,237.9 L16.8,237.6 L17.5,237.2 L18.2,237.1 L19.0,237.4 L19.8,237.7 L20.5,238.0 L21.2,238.3 L22.0,238.6 L22.8,238.9 L23.5,239.2 L24.2,239.5 L25.0,239.8 L25.8,240.1 L26.5,240.4 L27.2,240.7 L28.0,241.0 L28.8,241.3 L29.5,241.6 L30.2,242.0 L31.0,242.3 L31.8,242.6 L32.5,242.9 L33.2,243.2 L34.0,243.6 L34.8,243.9 L35.5,244.2 L36.2,244.5 L37.0,244.9 L37.8,245.2 L38.5,245.5 L39.2,245.8 L40.0,246.1 L40.8,246.5 L41.5,246.8 L42.2,247.1 L43.0,247.4 L43.8,247.7 L44.5,248.0 L45.2,248.4 L46.0,248.7 L46.8,249.0 L47.5,249.3 L48.2,249.6 L49.0,249.9 L49.8,250.2 L50.5,250.5 L51.2,250.9 L52.0,251.2 L52.8,251.5 L53.5,251.8 L54.2,252.2 L55.0,252.7 L55.8,253.2 L56.5,253.7 L57.2,254.2 L58.0,254.7 L58.8,255.2 L59.5,255.7 L60.2,256.2 L61.0,256.7 L61.8,257.2 L62.5,257.7 L63.2,257.9 L64.0,257.7 L64.8,257.5 L65.5,257.3 L66.2,257.1 L67.0,256.9 L67.8,256.6 L68.5,256.4 L69.2,256.2 L70.0,256.0 L70.8,254.5 L71.5,253.0 L72.2,251.5 L73.0,250.0 L73.8,246.0 L74.5,242.0 L75.2,238.0 L76.0,234.0 L76.8,229.5 L77.5,225.0 L78.2,220.5 L79.0,216.0 L79.8,211.5 L80.5,208.6 L81.2,206.5 L82.0,204.4 L82.8,202.3 L83.5,200.2 L84.2,198.1 L85.0,196.0 L85.8,193.5 L86.5,191.0 L87.2,188.5 L88.0,186.0 L88.8,182.6 L89.5,179.2 L90.2,175.9 L91.0,172.5 L91.8,169.1 L92.5,164.3 L93.2,158.8 L94.0,153.3 L94.8,147.8 L95.5,141.0 L96.2,133.5 L97.0,126.0 L97.8,122.7 L98.5,119.4 L99.2,116.1 L100.0,112.8 L100.8,109.5 L101.5,106.2 L102.2,103.8 L103.0,103.3 L103.8,102.8 L104.5,102.3 L105.2,101.8 L106.0,101.3 L106.8,100.8 L107.5,100.3 L108.2,100.2 L109.0,100.7 L109.8,101.2 L110.5,101.7 L111.2,102.2 L112.0,102.7 L112.8,103.2 L113.5,103.7 L114.2,104.2 L115.0,104.7 L115.8,105.2 L116.5,105.7 L117.2,106.0 L118.0,105.9 L118.8,105.8 L119.5,105.7 L120.2,105.6 L121.0,105.6 L121.8,105.5 L122.5,105.4 L123.2,105.3 L124.0,105.2 L124.8,105.1 L125.5,105.1 L126.2,105.0 L127.0,105.1 L127.8,105.2 L128.5,105.3 L129.2,105.4 L130.0,105.5 L130.8,105.6 L131.5,105.6 L132.2,105.7 L133.0,105.8 L133.8,105.9 L134.5,106.0 L135.2,106.1 L136.0,106.2 L136.8,106.3 L137.5,106.4 L138.2,106.4 L139.0,106.5 L139.8,106.6 L140.5,106.7 L141.2,106.8 L142.0,106.9 L142.8,107.0 L143.5,107.8 L144.2,109.1 L145.0,110.3 L145.8,111.6 L146.5,112.8 L147.2,114.1 L148.0,115.3 L148.8,116.6 L149.5,117.8 L150.2,119.1 L151.0,120.3 L151.8,121.6 L152.5,122.3 L153.2,122.7 L154.0,123.2 L154.8,123.6 L155.5,124.0 L156.2,124.5 L157.0,124.9 L157.8,125.4 L158.5,125.8 L159.2,126.2 L160.0,126.7 L160.8,127.1 L161.5,127.5 L162.2,128.0 L163.0,128.4 L163.8,128.9 L164.5,129.0 L165.2,129.1 L166.0,129.1 L166.8,129.2 L167.5,129.2 L168.2,129.3 L169.0,129.4 L169.8,129.4 L170.5,129.5 L171.2,129.5 L172.0,129.6 L172.8,129.6 L173.5,129.7 L174.2,129.7 L175.0,129.8 L175.8,129.8 L176.5,129.9 L177.2,129.9 L178.0,130.0 L178.8,129.9 L179.5,129.8 L180.2,129.8 L181.0,129.7 L181.8,129.6 L182.5,129.6 L183.2,129.5 L184.0,129.4 L184.8,129.3 L185.5,129.2 L186.2,129.2 L187.0,129.1 L187.8,129.0 L188.5,129.0 L189.2,129.0 L190.0,129.0 L190.8,129.0 L191.5,129.0 L192.2,129.0 L193.0,129.0 L193.8,129.0 L194.5,129.0 L195.2,129.0 L196.0,129.0 L196.8,129.0 L197.5,129.0 L198.2,129.0 L199.0,129.0 L199.8,129.0 L200.5,129.0 L201.2,129.1 L202.0,129.4 L202.8,129.7 L203.5,130.0 L204.2,130.3 L205.0,130.6 L205.8,130.9 L206.5,132.2 L207.2,134.0 L208.0,135.8 L208.8,137.5 L209.5,139.3 L210.2,141.1 L211.0,142.9 L211.8,144.7 L212.5,146.4 L213.2,148.2 L214.0,150.0 L214.8,151.4 L215.5,152.8 L216.2,154.2 L217.0,155.6 L217.8,157.0 L218.5,158.4 L219.2,159.8 L220.0,161.1 L220.8,162.5 L221.5,163.2 L222.2,163.6 L223.0,163.9 L223.8,164.2 L224.5,164.6 L225.2,164.9 L226.0,165.3 L226.8,165.6 L227.5,166.0 L228.2,166.3 L229.0,166.6 L229.8,167.0 L230.5,167.3 L231.2,167.7 L232.0,168.0 L232.8,168.5 L233.5,169.0 L234.2,169.4 L235.0,169.9 L235.8,170.4 L236.5,170.9 L237.2,171.3 L238.0,171.8 L238.8,172.3 L239.5,172.8 L240.2,173.2 L241.0,173.7 L241.8,174.2 L242.5,174.7 L243.2,175.0 L244.0,175.1 L244.8,175.1 L245.5,175.2 L246.2,175.3 L247.0,175.3 L247.8,175.4 L248.5,175.5 L249.2,175.5 L250.0,175.6 L250.8,175.6 L251.5,175.7 L252.2,175.8 L253.0,175.8 L253.8,175.9 L254.5,176.0 L255.2,176.0 L256.0,176.1 L256.8,176.1 L257.5,176.2 L258.2,176.3 L259.0,176.3 L259.8,176.4 L260.5,176.5 L261.2,176.5 L262.0,176.6 L262.8,176.6 L263.5,176.7 L264.2,176.8 L265.0,176.8 L265.8,176.9 L266.5,177.0 L267.2,177.6 L268.0,179.6 L268.8,181.5 L269.5,183.4 L270.2,185.3 L271.0,187.2 L271.8,189.1 L272.5,191.1 L273.2,193.0 L274.0,194.9 L274.8,196.8 L275.5,198.7 L276.2,200.9 L277.0,203.8 L277.8,206.6 L278.5,209.4 L279.2,212.2 L280.0,215.0 L280.8,217.8 L281.5,220.6 L282.2,223.4 L283.0,226.2 L283.8,229.1 L284.5,227.5 L285.2,223.8 L286.0,220.0 L286.8,216.2 L287.5,212.5 L288.2,208.8 L289.0,205.0 L289.8,201.2 L290.5,199.1 L291.2,197.7 L292.0,196.2 L292.8,194.8 L293.5,193.4 L294.2,192.0 L295.0,190.6 L295.8,189.2 L296.5,187.8 L297.2,186.4 L298.0,185.0 L298.8,184.6 L299.5,184.2 L300.2,183.9 L301.0,183.5 L301.8,183.1 L302.5,182.8 L303.2,182.4 L304.0,182.0 L304.8,181.6 L305.5,181.2 L306.2,180.7 L307.0,179.7 L307.8,178.8 L308.5,177.8 L309.2,176.8 L310.0,175.9 L310.8,174.9 L311.5,173.9 L312.2,173.0 L313.0,172.0 L313.8,171.4 L314.5,170.7 L315.2,170.1 L316.0,169.4 L316.8,168.8 L317.5,168.1 L318.2,167.5 L319.0,166.9 L319.8,166.2 L320.5,165.8 L321.2,165.5 L322.0,165.1 L322.8,164.8 L323.5,164.5 L324.2,164.2 L325.0,163.9 L325.8,163.5 L326.5,163.2 L327.2,163.1 L328.0,163.4 L328.8,163.7 L329.5,164.0 L330.2,164.3 L331.0,164.6 L331.8,164.9 L332.5,165.2 L333.2,165.5 L334.0,165.8 L334.8,166.1 L335.5,166.4 L336.2,166.7 L337.0,167.0 L337.8,167.6 L338.5,168.1 L339.2,168.7 L340.0,169.2 L340.8,169.8 L341.5,170.4 L342.2,170.9 L343.0,171.5 L343.8,172.1 L344.5,172.6 L345.2,173.2 L346.0,173.8 L346.8,174.3 L347.5,174.9 L348.2,175.4 L349.0,176.0 L349.8,176.2 L350.5,176.4 L351.2,176.6 L352.0,176.8 L352.8,177.0 L353.5,177.2 L354.2,177.4 L355.0,177.6 L355.8,177.8 L356.5,178.0 L357.2,178.2 L358.0,178.5 L358.8,178.7 L359.5,178.9 L360.2,179.0 L361.0,179.0 L361.8,179.0 L362.5,179.0 L363.2,179.0 L364.0,179.0 L364.8,179.0 L365.5,179.0 L366.2,179.0 L367.0,179.0 L367.8,179.0 L368.5,179.0 L369.2,179.0 L370.0,179.0 L370.8,178.9 L371.5,178.8 L372.2,178.7 L373.0,178.6 L373.8,178.5 L374.5,178.4 L375.2,178.2 L376.0,178.1 L376.8,178.0 L377.5,177.9 L378.2,177.8 L379.0,177.7 L379.8,177.6 L380.5,177.5 L381.2,177.4 L382.0,177.3 L382.8,177.2 L383.5,177.1 L384.2,177.0 L385.0,176.9 L385.8,176.8 L386.5,176.6 L387.2,176.5 L388.0,176.4 L388.8,176.3 L389.5,176.2 L390.2,176.1 L391.0,176.0 L391.8,173.0 L392.5,170.0 L393.2,167.0 L394.0,164.0 L394.8,161.0 L395.5,158.0 L396.2,155.0 L397.0,152.0 L397.8,149.0 L398.5,147.6 L399.2,146.9 L400.0,146.3 L400.8,145.6 L401.5,145.0 L402.2,144.4 L403.0,143.7 L403.8,143.1 L404.5,142.4 L405.2,142.0 L406.0,141.9 L406.8,141.8 L407.5,141.6 L408.2,141.5 L409.0,141.4 L409.8,141.3 L410.5,141.2 L411.2,141.1 L412.0,141.0 L412.8,141.0 L413.5,141.0 L414.2,141.0 L415.0,141.0 L415.8,141.0 L416.5,141.0 L417.2,141.0 L418.0,141.0 L418.8,141.0 L419.5,141.0 L420.2,141.0 L421.0,141.0 L421.8,142.7 L422.5,144.4 L423.2,146.1 L424.0,147.9 L424.8,149.6 L425.5,151.3 L426.2,153.0 L427.0,154.7 L427.8,156.4 L428.5,157.9 L429.2,159.1 L430.0,160.4 L430.8,161.7 L431.5,163.0 L432.2,164.3 L433.0,165.6 L433.8,166.9 L434.5,168.1 L435.2,169.2 L436.0,169.7 L436.8,170.2 L437.5,170.8 L438.2,171.3 L439.0,171.8 L439.8,172.3 L440.5,172.8 L441.2,173.4 L442.0,173.9 L442.8,174.4 L443.5,174.9 L444.2,175.5 L445.0,176.0 L445.8,176.4 L446.5,176.8 L447.2,177.2 L448.0,177.7 L448.8,178.1 L449.5,178.5 L450.2,178.9 L451.0,179.3 L451.8,179.8 L452.5,180.2 L453.2,180.6 L454.0,181.0 L454.8,181.5 L455.5,182.1 L456.2,182.6 L457.0,183.1 L457.8,183.7 L458.5,184.2 L459.2,184.8 L460.0,185.3 L460.8,185.8 L461.5,186.4 L462.2,187.1 L463.0,187.7 L463.8,188.4 L464.5,189.0 L465.2,189.6 L466.0,190.3 L466.8,190.9 L467.5,191.6 L468.2,192.2 L469.0,192.9 L469.8,193.5 L470.5,194.2 L471.2,194.8 L472.0,195.5 L472.8,196.2 L473.5,196.8 L474.2,197.5 L475.0,198.1 L475.8,198.8 L476.5,200.2 L477.2,202.0 L478.0,203.9 L478.8,205.7 L479.5,207.5 L480.2,209.3 L481.0,211.1 L481.8,213.0 L482.5,214.8 L483.2,216.7 L484.0,218.9 L484.8,221.0 L485.5,223.1 L486.2,225.3 L487.0,227.4 L487.8,229.6 L488.5,231.7 L489.2,233.9 L490.0,236.0 L490.8,236.0 L491.5,236.0 L492.2,236.0 L493.0,236.0 L493.8,236.0 L494.5,236.0 L495.2,236.0 L496.0,236.0 L496.8,236.0 L497.5,236.2 L498.2,236.6 L499.0,236.9 L499.8,237.2 L500.5,237.6 L501.2,237.9 L502.0,238.2 L502.8,238.6 L503.5,238.9 L504.2,239.2 L505.0,239.6 L505.8,239.9 L506.5,240.8 L507.2,242.1 L508.0,243.3 L508.8,244.6 L509.5,245.8 L510.2,247.1 L511.0,248.3 L511.8,249.6 L512.5,250.8 L513.2,252.0 L514.0,253.2 L514.8,254.5 L515.5,255.7 L516.2,256.9 L517.0,258.1 L517.8,259.3 L518.5,260.6 L519.2,261.8 L520.0,263.0 L520.8,264.5 L521.5,266.0 L522.2,267.5 L523.0,269.0 L523.8,270.5 L524.5,271.1 L525.2,271.3 L526.0,271.5 L526.8,271.7 L527.5,271.9 L528.2,272.1 L529.0,272.3 L529.8,272.5 L530.5,272.7 L531.2,272.9 L532.0,273.1 L532.8,273.3 L533.5,273.5 L534.2,273.7 L535.0,273.9 L535.8,274.1 L536.5,274.3 L537.2,274.5 L538.0,274.7 L538.8,274.9 L539.5,275.1 L540.2,275.1 L541.0,275.2 L541.8,275.3 L542.5,275.4 L543.2,275.5 L544.0,275.6 L544.8,275.6 L545.5,275.7 L546.2,275.8 L547.0,275.9 L547.8,276.0 L548.5,275.6 L549.2,275.0 L550.0,274.4 L550.8,273.8 L551.5,273.2 L552.2,272.6 L553.0,272.0 L553.8,269.3 L554.5,266.7 L555.2,264.0 L556.0,261.3 L556.8,258.7 L557.5,256.0 L558.2,253.3 L559.0,250.7 L559.8,248.0 L560.5,245.3 L561.2,242.7 L562.0,240.0 L562.8,239.6 L563.5,239.2 L564.2,238.9 L565.0,238.5 L565.8,238.1 L566.5,237.8 L567.2,237.4 L568.0,237.0 L568.8,236.6 L569.5,236.2 L570.2,235.9 L571.0,235.5 L571.8,235.1 L572.5,234.5 L573.2,233.8 L574.0,233.0 L574.8,232.2 L575.5,231.5 L576.2,230.8 L577.0,230.0 L577.8,229.2 L578.5,228.5 L579.2,228.0 L580.0,228.0 L580.8,228.0 L581.5,228.0 L582.2,228.0 L583.0,228.0 L583.8,228.0 L584.5,228.0 L585.2,228.0 L586.0,228.0 L586.8,228.0 L587.5,228.0 L588.2,228.0 L589.0,228.0 L589.8,228.0 L590.5,228.0 L591.2,228.0 L592.0,228.0 L592.8,228.0 L593.5,228.0 L594.2,228.0 L595.0,228.0 L595.8,228.0 L596.5,228.0 L597.2,228.0 L598.0,228.0 L598.8,228.0 L599.5,228.0 L600.2,228.0 L601.0,228.0 L601.8,228.0 L602.5,228.2 L603.2,228.5 L604.0,228.8 L604.8,229.1 L605.5,229.5 L606.2,229.8 L607.0,230.1 L607.8,230.4 L608.5,230.7 L609.2,231.0 L610.0,231.3 L610.8,231.6 L611.5,232.0 L612.2,232.3 L613.0,232.6 L613.8,232.9 L614.5,233.4 L615.2,233.9 L616.0,234.5 L616.8,235.1 L617.5,235.6 L618.2,236.2 L619.0,236.8 L619.8,237.3 L620.5,237.9 L621.2,238.4 L622.0,239.0 L622.8,239.6 L623.5,240.1 L624.2,240.7 L625.0,241.2 L625.8,241.8 L626.5,242.3 L627.2,242.8 L628.0,243.3 L628.8,243.8 L629.5,244.2 L630.2,244.7 L631.0,245.2 L631.8,245.7 L632.5,246.1 L633.2,246.6 L634.0,247.1 L634.8,247.6 L635.5,248.0 L636.2,248.5 L637.0,249.0 L637.8,248.8 L638.5,248.5 L639.2,248.2 L640.0,248.0 L640.8,247.8 L641.5,247.5 L642.2,247.2 L643.0,247.0 L643.8,246.8 L644.5,246.5 L645.2,246.2 L646.0,246.0 L646.8,245.8 L647.5,245.5 L648.2,245.2 L649.0,245.0 L649.8,243.9 L650.5,242.9 L651.2,241.8 L652.0,240.7 L652.8,239.6 L653.5,238.6 L654.2,237.5 L655.0,236.4 L655.8,235.4 L656.5,235.2 L657.2,235.6 L658.0,236.0 L658.8,236.4 L659.5,236.8 L660.2,237.1 L661.0,237.5 L661.8,237.9 L662.5,238.2 L663.2,238.6 L664.0,239.0 L664.8,239.4 L665.5,239.8 L666.2,240.1 L667.0,240.2 L667.8,240.4 L668.5,240.6 L669.2,240.7 L670.0,240.9 L670.8,241.1 L671.5,241.2 L672.2,241.4 L673.0,241.6 L673.8,241.7 L674.5,241.9 L675.2,242.1 L676.0,242.3 L676.8,242.6 L677.5,242.8 L678.2,243.1 L679.0,243.3 L679.8,243.6 L680.5,243.8 L681.2,244.1 L682.0,244.3 L682.8,244.6 L683.5,244.8 L684.2,245.1 L685.0,245.3 L685.8,245.6 L686.5,245.8 L687.2,246.1 L688.0,246.3 L688.8,246.6 L689.5,246.8 L690.2,247.1 L691.0,247.3 L691.8,247.6 L692.5,247.8 L693.2,248.1 L694.0,248.3 L694.8,248.6 L695.5,248.8 L696.2,249.1 L697.0,249.2 L697.8,249.4 L698.5,249.6 L699.2,249.8 L700.0,250.0 L700.8,250.2 L701.5,250.4 L702.2,250.6 L703.0,250.8 L703.8,250.9 L704.5,251.1 L705.2,251.3 L706.0,251.5 L706.8,251.7 L707.5,251.9 L708.2,252.1 L709.0,252.2 L709.8,252.4 L710.5,252.6 L711.2,252.7 L712.0,252.9 L712.8,253.1 L713.5,253.2 L714.2,253.4 L715.0,253.6 L715.8,253.7 L716.5,253.9 L717.2,254.0 L718.0,254.0 L718.8,254.0 L719.5,254.0 L720.2,254.0 L721.0,254.0 L721.8,254.0 L722.5,254.0 L723.2,254.0 L724.0,254.0 L724.8,254.0 L725.5,254.0 L726.2,254.0 L727.0,254.0 L727.8,254.2 L728.5,254.3 L729.2,254.5 L730.0,254.7 L730.8,254.8 L731.5,255.0 L732.2,255.2 L733.0,255.3 L733.8,255.5 L734.5,255.7 L735.2,255.8 L736.0,256.0 L736.8,256.1 L737.5,256.1 L738.2,256.2 L739.0,256.3 L739.8,256.4 L740.5,256.4 L741.2,256.5 L742.0,256.6 L742.8,256.7 L743.5,256.8 L744.2,256.8 L745.0,256.9 L745.8,257.0 L746.5,259.3 L747.2,262.8 L748.0,266.3 L748.8,269.8 L749.5,273.3 L750.2,276.8 L751.0,280.3 L751.8,283.8 L752.5,285.9 L753.2,287.3 L754.0,288.8 L754.8,290.2 L755.5,291.6 L756.2,293.0 L757.0,294.4 L757.8,295.8 L758.5,297.2 L759.2,298.6 L760.0,300.0 L760.8,301.9 L761.5,303.9 L762.2,305.8 L763.0,307.7 L763.8,309.6 L764.5,311.6 L765.2,313.5 L766.0,315.4 L766.8,317.4 L767.5,319.7 L768.2,322.2 L769.0,324.7 L769.8,327.2 L770.5,329.7 L771.2,332.2 L772.0,334.7 L772.8,337.2 L773.5,339.7 L774.2,342.2 L775.0,344.7 L775.8,347.2 L776.5,345.0 L777.2,340.5 L778.0,336.0 L778.8,331.5 L779.5,328.8 L780.2,327.0 L781.0,325.1 L781.8,323.3 L782.5,321.5 L783.2,319.7 L784.0,317.9 L784.8,316.0 L785.5,314.2 L786.2,313.0 L787.0,313.0 L787.8,313.0 L788.5,313.0 L789.2,313.0 L790.0,313.0 L790.8,313.0 L791.5,313.0 L792.2,313.0 L793.0,313.0 L793.8,313.0 L794.5,313.0 L795.2,313.0 L796.0,313.0 L796.8,313.0 L797.5,313.8 L798.2,315.0 L799.0,316.2 L799.8,317.4 L800.5,318.5 L801.2,319.7 L802.0,320.9 L802.8,322.1 L803.5,323.3 L804.2,324.5 L805.0,325.7 L805.8,326.9 L806.5,328.0 L807.2,329.2 L808.0,330.4 L808.8,331.6 L809.5,332.4 L810.2,333.1 L811.0,333.7 L811.8,334.4 L812.5,335.0 L813.2,335.7 L814.0,336.3 L814.8,337.0 L815.5,337.6 L816.2,338.3 L817.0,338.9 L817.8,339.6 L818.5,340.2 L819.2,340.9 L820.0,341.5 L820.8,342.2 L821.5,342.8 L822.2,343.5 L823.0,344.1 L823.8,344.8 L824.5,345.4 L825.2,346.0 L826.0,346.6 L826.8,347.2 L827.5,347.8 L828.2,348.4 L829.0,349.0 L829.8,349.6 L830.5,350.2 L831.2,350.8 L832.0,351.4 L832.8,352.0 L833.5,352.6 L834.2,353.2 L835.0,353.8 L835.8,354.4 L836.5,355.0 L837.2,355.6 L838.0,356.2 L838.8,356.8 L839.5,357.6 L840.2,358.6 L841.0,359.5 L841.8,360.4 L842.5,361.4 L843.2,360.6 L844.0,356.3 L844.8,352.1 L845.5,347.8 L846.2,344.4 L847.0,342.6 L847.8,340.8 L848.5,338.9 L849.2,337.1 L850.0,335.3 L850.8,333.5 L851.5,331.6 L852.2,329.8 L853.0,328.0 L853.8,328.3 L854.5,328.5 L855.2,328.8 L856.0,329.1 L856.8,329.4 L857.5,329.6 L858.2,329.9 L859.0,330.2 L859.8,330.5 L860.5,330.7 L861.2,331.0 L862.0,331.3 L862.8,331.5 L863.5,331.8 L864.2,332.2 L865.0,332.9 L865.8,333.5 L866.5,334.2 L867.2,334.8 L868.0,335.5 L868.8,336.1 L869.5,336.8 L870.2,337.4 L871.0,338.1 L871.8,338.7 L872.5,339.4 L873.2,340.0 L874.0,340.7 L874.8,341.3 L875.5,342.0 L876.2,342.6 L877.0,343.3 L877.8,343.9 L878.5,344.6 L879.2,345.4 L880.0,346.6 L880.8,347.8 L881.5,349.0 L882.2,350.2 L883.0,351.4 L883.8,352.6 L884.5,353.8 L885.2,355.0 L886.0,356.2 L886.8,357.4 L887.5,358.6 L888.2,359.8 L889.0,361.0 L889.8,369.6 L890.5,378.2 L891.2,384.0 L891.2,391.0 L890.5,391.4 L889.8,383.6 L889.0,375.0 L888.2,373.8 L887.5,372.6 L886.8,371.4 L886.0,370.2 L885.2,369.0 L884.5,367.8 L883.8,366.6 L883.0,365.4 L882.2,364.2 L881.5,363.0 L880.8,361.8 L880.0,360.6 L879.2,359.4 L878.5,358.6 L877.8,357.9 L877.0,357.3 L876.2,356.6 L875.5,356.0 L874.8,355.3 L874.0,354.7 L873.2,354.0 L872.5,353.4 L871.8,352.7 L871.0,352.1 L870.2,351.4 L869.5,350.8 L868.8,350.1 L868.0,349.5 L867.2,348.8 L866.5,348.2 L865.8,347.5 L865.0,346.9 L864.2,346.2 L863.5,345.8 L862.8,345.5 L862.0,345.3 L861.2,345.0 L860.5,344.7 L859.8,344.5 L859.0,344.2 L858.2,343.9 L857.5,343.6 L856.8,343.4 L856.0,343.1 L855.2,342.8 L854.5,342.5 L853.8,342.3 L853.0,342.0 L852.2,343.8 L851.5,345.6 L850.8,347.5 L850.0,349.3 L849.2,351.1 L848.5,352.9 L847.8,354.8 L847.0,356.6 L846.2,358.4 L845.5,361.5 L844.8,362.2 L844.0,363.0 L843.2,363.8 L842.5,364.5 L841.8,365.2 L841.0,366.0 L840.2,366.8 L839.5,366.9 L838.8,366.6 L838.0,366.4 L837.2,366.2 L836.5,366.0 L835.8,365.8 L835.0,365.6 L834.2,365.4 L833.5,365.1 L832.8,364.9 L832.0,364.7 L831.2,364.5 L830.5,364.2 L829.8,363.6 L829.0,363.0 L828.2,362.4 L827.5,361.8 L826.8,361.2 L826.0,360.6 L825.2,360.0 L824.5,359.4 L823.8,358.8 L823.0,358.1 L822.2,357.5 L821.5,356.8 L820.8,356.2 L820.0,355.5 L819.2,354.9 L818.5,354.2 L817.8,353.6 L817.0,352.9 L816.2,352.3 L815.5,351.6 L814.8,351.0 L814.0,350.3 L813.2,349.7 L812.5,349.0 L811.8,348.4 L811.0,347.7 L810.2,347.1 L809.5,346.4 L808.8,345.6 L808.0,344.4 L807.2,343.2 L806.5,342.0 L805.8,340.9 L805.0,339.7 L804.2,338.5 L803.5,337.3 L802.8,336.1 L802.0,334.9 L801.2,333.7 L800.5,332.5 L799.8,331.4 L799.0,330.2 L798.2,329.0 L797.5,327.8 L796.8,327.0 L796.0,327.0 L795.2,327.0 L794.5,327.0 L793.8,327.0 L793.0,327.0 L792.2,327.0 L791.5,327.0 L790.8,327.0 L790.0,327.0 L789.2,327.0 L788.5,327.0 L787.8,327.0 L787.0,327.0 L786.2,327.0 L785.5,328.2 L784.8,330.0 L784.0,331.9 L783.2,333.7 L782.5,335.5 L781.8,337.7 L781.0,340.8 L780.2,343.9 L779.5,347.0 L778.8,349.9 L778.0,349.2 L777.2,346.4 L776.5,343.5 L775.8,340.6 L775.0,337.8 L774.2,334.9 L773.5,336.8 L772.8,341.1 L772.0,345.3 L771.2,349.6 L770.5,353.7 L769.8,351.2 L769.0,348.7 L768.2,346.2 L767.5,343.7 L766.8,341.4 L766.0,339.4 L765.2,337.5 L764.5,335.6 L763.8,333.6 L763.0,331.7 L762.2,329.8 L761.5,327.9 L760.8,325.9 L760.0,324.0 L759.2,322.6 L758.5,321.2 L757.8,319.8 L757.0,318.4 L756.2,317.0 L755.5,315.6 L754.8,314.2 L754.0,312.8 L753.2,311.3 L752.5,309.9 L751.8,307.4 L751.0,302.5 L750.2,297.6 L749.5,292.7 L748.8,287.8 L748.0,282.9 L747.2,278.0 L746.5,273.1 L745.8,269.4 L745.0,267.9 L744.2,267.8 L743.5,267.8 L742.8,267.7 L742.0,267.6 L741.2,267.5 L740.5,267.4 L739.8,267.4 L739.0,267.3 L738.2,267.2 L737.5,267.1 L736.8,267.1 L736.0,266.9 L735.2,266.7 L734.5,266.5 L733.8,266.4 L733.0,266.2 L732.2,266.0 L731.5,265.8 L730.8,265.7 L730.0,265.5 L729.2,265.3 L728.5,265.1 L727.8,265.0 L727.0,264.8 L726.2,264.7 L725.5,264.6 L724.8,264.5 L724.0,264.4 L723.2,264.3 L722.5,264.3 L721.8,264.2 L721.0,264.1 L720.2,264.0 L719.5,263.9 L718.8,263.8 L718.0,263.7 L717.2,263.6 L716.5,263.6 L715.8,263.5 L715.0,263.4 L714.2,263.3 L713.5,263.2 L712.8,263.1 L712.0,263.0 L711.2,262.9 L710.5,262.9 L709.8,262.8 L709.0,262.7 L708.2,262.6 L707.5,262.4 L706.8,262.2 L706.0,262.0 L705.2,261.8 L704.5,261.6 L703.8,261.5 L703.0,261.3 L702.2,261.1 L701.5,260.9 L700.8,260.7 L700.0,260.5 L699.2,260.3 L698.5,260.1 L697.8,259.9 L697.0,259.7 L696.2,259.5 L695.5,259.3 L694.8,259.0 L694.0,258.7 L693.2,258.5 L692.5,258.2 L691.8,258.0 L691.0,257.7 L690.2,257.4 L689.5,257.2 L688.8,256.9 L688.0,256.7 L687.2,256.4 L686.5,256.1 L685.8,255.9 L685.0,255.6 L684.2,255.4 L683.5,255.4 L682.8,255.5 L682.0,255.3 L681.2,255.1 L680.5,254.8 L679.8,254.6 L679.0,254.3 L678.2,254.1 L677.5,253.8 L676.8,253.6 L676.0,253.3 L675.2,253.1 L674.5,252.9 L673.8,252.7 L673.0,252.6 L672.2,252.4 L671.5,252.2 L670.8,252.1 L670.0,251.9 L669.2,251.7 L668.5,251.6 L667.8,251.4 L667.0,251.2 L666.2,251.1 L665.5,250.8 L664.8,250.4 L664.0,250.0 L663.2,249.6 L662.5,249.2 L661.8,248.9 L661.0,248.5 L660.2,248.1 L659.5,247.8 L658.8,247.4 L658.0,247.0 L657.2,246.6 L656.5,246.2 L655.8,246.4 L655.0,247.4 L654.2,248.5 L653.5,249.6 L652.8,250.6 L652.0,251.7 L651.2,252.8 L650.5,253.9 L649.8,254.7 L649.0,254.9 L648.2,255.1 L647.5,255.4 L646.8,255.6 L646.0,255.8 L645.2,256.1 L644.5,256.3 L643.8,256.6 L643.0,256.8 L642.2,257.0 L641.5,257.3 L640.8,257.5 L640.0,257.8 L639.2,258.0 L638.5,258.2 L637.8,258.5 L637.0,258.7 L636.2,258.7 L635.5,258.7 L634.8,258.6 L634.0,258.1 L633.2,257.6 L632.5,257.1 L631.8,256.7 L631.0,256.2 L630.2,255.7 L629.5,255.2 L628.8,254.8 L628.0,254.3 L627.2,253.8 L626.5,253.3 L625.8,252.8 L625.0,252.2 L624.2,251.7 L623.5,251.1 L622.8,250.6 L622.0,250.0 L621.2,249.4 L620.5,248.9 L619.8,248.3 L619.0,247.8 L618.2,247.2 L617.5,246.6 L616.8,246.1 L616.0,245.5 L615.2,244.9 L614.5,244.4 L613.8,243.9 L613.0,243.6 L612.2,243.3 L611.5,243.0 L610.8,242.6 L610.0,242.3 L609.2,242.0 L608.5,241.7 L607.8,241.4 L607.0,241.1 L606.2,240.8 L605.5,240.5 L604.8,240.1 L604.0,239.8 L603.2,239.5 L602.5,239.2 L601.8,239.0 L601.0,239.0 L600.2,239.0 L599.5,239.0 L598.8,239.0 L598.0,239.0 L597.2,239.0 L596.5,239.0 L595.8,239.0 L595.0,239.0 L594.2,239.0 L593.5,239.0 L592.8,239.0 L592.0,239.0 L591.2,239.0 L590.5,239.0 L589.8,239.0 L589.0,239.0 L588.2,239.0 L587.5,239.0 L586.8,239.0 L586.0,239.0 L585.2,239.0 L584.5,239.0 L583.8,239.0 L583.0,239.0 L582.2,239.0 L581.5,239.0 L580.8,239.0 L580.0,239.0 L579.2,239.0 L578.5,239.5 L577.8,240.2 L577.0,241.0 L576.2,241.8 L575.5,242.5 L574.8,243.2 L574.0,244.0 L573.2,244.8 L572.5,245.5 L571.8,246.1 L571.0,246.5 L570.2,246.9 L569.5,247.2 L568.8,247.6 L568.0,248.0 L567.2,248.4 L566.5,248.8 L565.8,249.1 L565.0,249.5 L564.2,250.3 L563.5,251.1 L562.8,251.9 L562.0,252.7 L561.2,255.8 L560.5,258.8 L559.8,261.9 L559.0,265.0 L558.2,268.1 L557.5,271.2 L556.8,274.2 L556.0,277.3 L555.2,280.0 L554.5,282.7 L553.8,285.3 L553.0,288.0 L552.2,288.6 L551.5,289.2 L550.8,289.8 L550.0,290.4 L549.2,291.0 L548.5,291.6 L547.8,292.0 L547.0,291.9 L546.2,291.8 L545.5,291.7 L544.8,291.6 L544.0,291.6 L543.2,291.5 L542.5,291.4 L541.8,291.3 L541.0,291.2 L540.2,291.1 L539.5,291.1 L538.8,290.9 L538.0,290.7 L537.2,289.3 L536.5,287.9 L535.8,286.5 L535.0,285.0 L534.2,283.6 L533.5,282.1 L532.8,280.6 L532.0,279.2 L531.2,277.8 L530.5,276.3 L529.8,275.5 L529.0,275.9 L528.2,276.3 L527.5,276.8 L526.8,277.2 L526.0,277.6 L525.2,278.1 L524.5,278.5 L523.8,278.9 L523.0,279.4 L522.2,279.8 L521.5,280.2 L520.8,280.5 L520.0,279.0 L519.2,278.1 L518.5,277.2 L517.8,276.2 L517.0,275.3 L516.2,274.4 L515.5,273.5 L514.8,272.6 L514.0,271.6 L513.2,270.7 L512.5,269.8 L511.8,268.9 L511.0,267.9 L510.2,267.0 L509.5,265.9 L508.8,264.6 L508.0,263.4 L507.2,261.1 L506.5,257.4 L505.8,253.7 L505.0,250.0 L504.2,249.3 L503.5,248.7 L502.8,248.0 L502.0,247.4 L501.2,246.7 L500.5,246.1 L499.8,245.4 L499.0,244.8 L498.2,244.1 L497.5,243.4 L496.8,242.9 L496.0,242.6 L495.2,242.2 L494.5,241.9 L493.8,241.6 L493.0,241.3 L492.2,241.0 L491.5,240.6 L490.8,240.3 L490.0,240.0 L489.2,241.5 L488.5,243.0 L487.8,244.5 L487.0,246.0 L486.2,246.5 L485.5,244.4 L484.8,242.3 L484.0,240.2 L483.2,238.1 L482.5,236.2 L481.8,234.4 L481.0,232.6 L480.2,230.8 L479.5,229.0 L478.8,227.2 L478.0,225.5 L477.2,223.7 L476.5,221.9 L475.8,220.5 L475.0,219.9 L474.2,219.3 L473.5,218.6 L472.8,218.0 L472.0,217.4 L471.2,216.8 L470.5,216.2 L469.8,215.4 L469.0,214.3 L468.2,213.2 L467.5,212.1 L466.8,211.0 L466.0,209.9 L465.2,208.8 L464.5,207.7 L463.8,206.6 L463.0,205.5 L462.2,204.4 L461.5,203.3 L460.8,202.3 L460.0,201.3 L459.2,200.8 L458.5,200.4 L457.8,199.9 L457.0,199.5 L456.2,199.0 L455.5,198.5 L454.8,197.8 L454.0,197.0 L453.2,197.1 L452.5,197.0 L451.8,196.7 L451.0,196.4 L450.2,196.0 L449.5,195.7 L448.8,195.4 L448.0,195.0 L447.2,194.7 L446.5,194.4 L445.8,194.0 L445.0,193.7 L444.2,193.3 L443.5,192.8 L442.8,192.4 L442.0,192.0 L441.2,191.5 L440.5,191.1 L439.8,190.6 L439.0,190.2 L438.2,189.8 L437.5,189.3 L436.8,188.9 L436.0,188.4 L435.2,188.0 L434.5,187.1 L433.8,185.9 L433.0,184.7 L432.2,183.5 L431.5,182.3 L430.8,181.1 L430.0,179.9 L429.2,178.7 L428.5,177.5 L427.8,176.1 L427.0,174.5 L426.2,172.9 L425.5,171.2 L424.8,169.6 L424.0,168.0 L423.2,166.3 L422.5,164.7 L421.8,163.0 L421.0,161.4 L420.2,161.5 L419.5,161.6 L418.8,161.6 L418.0,161.7 L417.2,161.8 L416.5,161.8 L415.8,161.9 L415.0,162.0 L414.2,162.1 L413.5,162.2 L412.8,162.2 L412.0,162.3 L411.2,162.5 L410.5,162.7 L409.8,162.8 L409.0,163.0 L408.2,163.2 L407.5,163.4 L406.8,163.6 L406.0,163.8 L405.2,163.9 L404.5,164.0 L403.8,163.9 L403.0,163.9 L402.2,163.9 L401.5,163.8 L400.8,163.8 L400.0,163.8 L399.2,163.8 L398.5,163.7 L397.8,164.5 L397.0,166.8 L396.2,169.1 L395.5,171.4 L394.8,174.0 L394.0,177.0 L393.2,180.0 L392.5,183.0 L391.8,186.0 L391.0,189.0 L390.2,189.1 L389.5,189.2 L388.8,189.3 L388.0,189.4 L387.2,189.5 L386.5,189.6 L385.8,189.8 L385.0,189.9 L384.2,190.0 L383.5,190.1 L382.8,190.2 L382.0,190.3 L381.2,190.4 L380.5,190.5 L379.8,190.6 L379.0,190.7 L378.2,190.8 L377.5,190.9 L376.8,191.0 L376.0,191.1 L375.2,191.2 L374.5,191.4 L373.8,191.5 L373.0,191.6 L372.2,191.7 L371.5,191.8 L370.8,191.9 L370.0,192.0 L369.2,192.0 L368.5,192.0 L367.8,192.0 L367.0,192.0 L366.2,192.0 L365.5,192.0 L364.8,192.0 L364.0,192.0 L363.2,192.0 L362.5,192.0 L361.8,192.0 L361.0,192.0 L360.2,192.0 L359.5,191.9 L358.8,191.7 L358.0,191.1 L357.2,190.5 L356.5,189.9 L355.8,189.3 L355.0,188.7 L354.2,188.1 L353.5,187.5 L352.8,186.9 L352.0,186.3 L351.2,185.7 L350.5,185.1 L349.8,184.5 L349.0,183.9 L348.2,184.0 L347.5,184.1 L346.8,184.2 L346.0,184.4 L345.2,184.5 L344.5,184.6 L343.8,184.8 L343.0,184.5 L342.2,183.9 L341.5,183.4 L340.8,182.8 L340.0,182.2 L339.2,181.7 L338.5,181.1 L337.8,180.6 L337.0,180.0 L336.2,179.7 L335.5,179.4 L334.8,179.1 L334.0,178.8 L333.2,178.5 L332.5,178.2 L331.8,177.9 L331.0,177.6 L330.2,177.3 L329.5,177.0 L328.8,176.7 L328.0,176.4 L327.2,176.1 L326.5,176.2 L325.8,176.5 L325.0,176.9 L324.2,177.2 L323.5,177.5 L322.8,177.8 L322.0,178.1 L321.2,178.5 L320.5,178.8 L319.8,179.2 L319.0,179.9 L318.2,180.5 L317.5,181.1 L316.8,181.8 L316.0,182.4 L315.2,183.1 L314.5,183.7 L313.8,184.4 L313.0,185.0 L312.2,186.0 L311.5,186.9 L310.8,187.9 L310.0,188.9 L309.2,189.8 L308.5,190.8 L307.8,191.8 L307.0,192.7 L306.2,193.7 L305.5,194.2 L304.8,194.6 L304.0,195.0 L303.2,195.4 L302.5,195.8 L301.8,196.1 L301.0,196.5 L300.2,196.9 L299.5,197.4 L298.8,198.0 L298.0,198.6 L297.2,200.2 L296.5,201.9 L295.8,203.5 L295.0,205.1 L294.2,206.8 L293.5,208.4 L292.8,210.0 L292.0,211.7 L291.2,213.3 L290.5,214.9 L289.8,217.3 L289.0,221.1 L288.2,224.8 L287.5,228.6 L286.8,232.4 L286.0,233.5 L285.2,232.4 L284.5,233.2 L283.8,234.9 L283.0,236.7 L282.2,238.4 L281.5,237.1 L280.8,234.3 L280.0,231.5 L279.2,228.7 L278.5,225.9 L277.8,223.2 L277.0,220.4 L276.2,217.6 L275.5,215.4 L274.8,213.6 L274.0,211.7 L273.2,209.8 L272.5,207.9 L271.8,206.1 L271.0,204.2 L270.2,202.3 L269.5,200.4 L268.8,198.5 L268.0,196.7 L267.2,194.8 L266.5,194.1 L265.8,194.1 L265.0,194.1 L264.2,194.1 L263.5,194.0 L262.8,194.0 L262.0,194.0 L261.2,194.0 L260.5,193.9 L259.8,193.9 L259.0,193.9 L258.2,193.9 L257.5,193.8 L256.8,193.8 L256.0,193.8 L255.2,193.8 L254.5,193.7 L253.8,193.7 L253.0,193.7 L252.2,193.7 L251.5,193.6 L250.8,193.6 L250.0,193.6 L249.2,193.6 L248.5,193.5 L247.8,193.5 L247.0,193.5 L246.2,193.5 L245.5,193.4 L244.8,193.4 L244.0,193.4 L243.2,193.4 L242.5,193.1 L241.8,192.6 L241.0,192.2 L240.2,191.7 L239.5,191.3 L238.8,190.9 L238.0,190.4 L237.2,190.0 L236.5,189.5 L235.8,189.1 L235.0,188.7 L234.2,188.2 L233.5,187.8 L232.8,187.3 L232.0,186.9 L231.2,186.6 L230.5,186.3 L229.8,186.0 L229.0,185.7 L228.2,185.4 L227.5,185.1 L226.8,184.8 L226.0,184.5 L225.2,184.2 L224.5,183.9 L223.8,183.6 L223.0,183.3 L222.2,183.0 L221.5,182.7 L220.8,182.0 L220.0,180.6 L219.2,179.3 L218.5,177.9 L217.8,176.6 L217.0,175.2 L216.2,173.9 L215.5,172.5 L214.8,171.2 L214.0,169.8 L213.2,168.1 L212.5,166.3 L211.8,164.6 L211.0,162.8 L210.2,161.1 L209.5,159.0 L208.8,156.7 L208.0,154.3 L207.2,152.0 L206.5,149.7 L205.8,147.9 L205.0,147.1 L204.2,146.3 L203.5,145.4 L202.8,144.6 L202.0,143.8 L201.2,143.0 L200.5,142.3 L199.8,142.0 L199.0,142.0 L198.2,142.0 L197.5,142.0 L196.8,142.0 L196.0,142.0 L195.2,142.0 L194.5,142.0 L193.8,142.0 L193.0,142.0 L192.2,142.0 L191.5,142.0 L190.8,142.0 L190.0,142.0 L189.2,142.0 L188.5,142.0 L187.8,142.0 L187.0,142.1 L186.2,142.2 L185.5,142.2 L184.8,142.3 L184.0,142.4 L183.2,142.5 L182.5,142.6 L181.8,142.6 L181.0,142.7 L180.2,142.8 L179.5,142.8 L178.8,142.9 L178.0,143.0 L177.2,142.9 L176.5,142.9 L175.8,142.8 L175.0,142.8 L174.2,142.7 L173.5,142.7 L172.8,142.6 L172.0,142.6 L171.2,142.5 L170.5,142.5 L169.8,142.4 L169.0,142.4 L168.2,142.3 L167.5,142.2 L166.8,142.2 L166.0,142.1 L165.2,142.1 L164.5,142.0 L163.8,141.9 L163.0,141.4 L162.2,141.0 L161.5,140.5 L160.8,140.1 L160.0,139.7 L159.2,139.2 L158.5,138.8 L157.8,138.4 L157.0,137.9 L156.2,137.5 L155.5,137.0 L154.8,136.6 L154.0,136.2 L153.2,135.7 L152.5,135.3 L151.8,134.6 L151.0,133.3 L150.2,132.1 L149.5,130.8 L148.8,129.6 L148.0,128.3 L147.2,127.1 L146.5,125.8 L145.8,124.6 L145.0,123.3 L144.2,122.1 L143.5,120.8 L142.8,120.0 L142.0,119.9 L141.2,119.8 L140.5,119.7 L139.8,119.6 L139.0,119.5 L138.2,119.4 L137.5,119.4 L136.8,119.3 L136.0,119.2 L135.2,119.1 L134.5,119.0 L133.8,118.9 L133.0,118.8 L132.2,118.7 L131.5,118.6 L130.8,118.6 L130.0,118.5 L129.2,118.4 L128.5,118.3 L127.8,118.2 L127.0,118.1 L126.2,118.0 L125.5,118.1 L124.8,118.1 L124.0,118.2 L123.2,118.3 L122.5,118.4 L121.8,118.5 L121.0,118.6 L120.2,118.6 L119.5,119.0 L118.8,119.6 L118.0,120.1 L117.2,120.7 L116.5,120.9 L115.8,120.8 L115.0,120.8 L114.2,120.8 L113.5,120.7 L112.8,120.7 L112.0,120.7 L111.2,121.5 L110.5,122.4 L109.8,123.3 L109.0,124.2 L108.2,125.0 L107.5,126.6 L106.8,128.5 L106.0,130.3 L105.2,132.2 L104.5,134.1 L103.8,136.0 L103.0,137.8 L102.2,139.7 L101.5,143.4 L100.8,148.1 L100.0,152.8 L99.2,156.1 L98.5,159.4 L97.8,162.7 L97.0,166.0 L96.2,173.5 L95.5,181.0 L94.8,187.8 L94.0,193.3 L93.2,198.8 L92.5,204.3 L91.8,209.1 L91.0,212.5 L90.2,215.9 L89.5,219.2 L88.8,222.6 L88.0,226.0 L87.2,228.5 L86.5,231.0 L85.8,233.5 L85.0,236.0 L84.2,238.1 L83.5,240.2 L82.8,242.3 L82.0,244.4 L81.2,246.5 L80.5,248.6 L79.8,251.5 L79.0,256.0 L78.2,260.5 L77.5,263.3 L76.8,265.3 L76.0,267.2 L75.2,268.7 L74.5,270.2 L73.8,271.7 L73.0,273.1 L72.2,272.1 L71.5,271.1 L70.8,270.0 L70.0,269.0 L69.2,269.2 L68.5,269.4 L67.8,269.6 L67.0,269.9 L66.2,270.1 L65.5,270.3 L64.8,270.5 L64.0,270.7 L63.2,270.9 L62.5,270.7 L61.8,270.2 L61.0,269.7 L60.2,269.2 L59.5,268.7 L58.8,268.2 L58.0,267.7 L57.2,267.2 L56.5,266.7 L55.8,266.2 L55.0,265.7 L54.2,265.2 L53.5,264.8 L52.8,264.5 L52.0,264.2 L51.2,263.9 L50.5,263.5 L49.8,263.2 L49.0,262.9 L48.2,262.6 L47.5,262.3 L46.8,262.0 L46.0,261.7 L45.2,261.4 L44.5,261.0 L43.8,260.7 L43.0,260.4 L42.2,260.1 L41.5,259.8 L40.8,259.5 L40.0,259.1 L39.2,258.8 L38.5,258.5 L37.8,258.2 L37.0,257.9 L36.2,257.5 L35.5,257.2 L34.8,256.9 L34.0,256.6 L33.2,256.2 L32.5,255.9 L31.8,255.6 L31.0,255.3 L30.2,255.0 L29.5,254.6 L28.8,254.3 L28.0,254.0 L27.2,253.7 L26.5,253.4 L25.8,253.1 L25.0,252.8 L24.2,252.5 L23.5,252.2 L22.8,251.9 L22.0,251.6 L21.2,251.3 L20.5,251.0 L19.8,250.7 L19.0,250.4 L18.2,250.1 L17.5,250.2 L16.8,250.6 L16.0,250.9 L15.2,251.2 L14.5,251.6 L13.8,251.9 L13.0,252.3 L12.2,252.6 L11.5,253.0 L10.8,253.3 L10.0,253.6 L9.2,254.0 L8.5,254.3 L7.8,254.7 L7.0,255.0Z" fill="#0f3e31"/>
<path d="M7.0,273.0 L7.8,272.8 L8.5,272.6 L9.2,272.3 L10.0,272.1 L10.8,271.9 L11.5,271.7 L12.2,271.4 L13.0,271.2 L13.8,271.0 L14.5,269.6 L15.2,267.8 L16.0,265.9 L16.8,264.0 L17.5,262.1 L18.2,260.8 L19.0,260.7 L19.8,260.4 L20.5,260.2 L21.2,259.9 L22.0,259.7 L22.8,259.4 L23.5,260.7 L24.2,262.0 L25.0,262.0 L25.8,262.0 L26.5,262.0 L27.2,262.0 L28.0,262.0 L28.8,262.0 L29.5,262.0 L30.2,262.0 L31.0,262.0 L31.8,262.0 L32.5,262.0 L33.2,262.0 L34.0,262.0 L34.8,262.0 L35.5,262.2 L36.2,262.4 L37.0,262.7 L37.8,262.9 L38.5,263.2 L39.2,263.4 L40.0,263.7 L40.8,263.9 L41.5,264.2 L42.2,264.4 L43.0,264.7 L43.8,264.9 L44.5,265.2 L45.2,265.4 L46.0,265.7 L46.8,265.9 L47.5,266.2 L48.2,266.4 L49.0,266.6 L49.8,266.8 L50.5,267.1 L51.2,267.3 L52.0,267.5 L52.8,267.8 L53.5,268.0 L54.2,268.2 L55.0,268.5 L55.8,268.7 L56.5,268.9 L57.2,269.2 L58.0,269.4 L58.8,269.6 L59.5,269.8 L60.2,270.1 L61.0,270.5 L61.8,270.9 L62.5,271.2 L63.2,271.6 L64.0,272.0 L64.8,272.4 L65.5,272.8 L66.2,273.2 L67.0,273.8 L67.8,274.5 L68.5,277.3 L69.2,279.3 L70.0,281.3 L70.8,283.0 L71.5,283.1 L72.2,281.8 L73.0,280.5 L73.8,279.2 L74.5,277.9 L75.2,276.6 L76.0,275.3 L76.8,274.0 L77.5,272.7 L78.2,271.4 L79.0,270.1 L79.8,268.8 L80.5,267.5 L81.2,266.2 L82.0,264.9 L82.8,263.6 L83.5,262.3 L84.2,261.0 L85.0,259.7 L85.8,258.4 L86.5,256.5 L87.2,254.2 L88.0,252.0 L88.8,249.8 L89.5,247.5 L90.2,245.2 L91.0,243.0 L91.8,240.8 L92.5,238.5 L93.2,236.2 L94.0,233.7 L94.8,231.2 L95.5,228.8 L96.2,226.3 L97.0,223.9 L97.8,221.4 L98.5,218.9 L99.2,216.5 L100.0,214.0 L100.8,210.4 L101.5,206.8 L102.2,203.2 L103.0,199.6 L103.8,196.0 L104.5,192.4 L105.2,187.7 L106.0,180.7 L106.8,173.7 L107.5,166.7 L108.2,160.8 L109.0,157.2 L109.8,153.7 L110.5,150.1 L111.2,146.6 L112.0,143.0 L112.8,140.7 L113.5,138.5 L114.2,136.2 L115.0,133.9 L115.8,132.7 L116.5,132.1 L117.2,131.6 L118.0,131.0 L118.8,131.0 L119.5,131.0 L120.2,131.0 L121.0,131.0 L121.8,131.0 L122.5,131.0 L123.2,131.0 L124.0,131.0 L124.8,131.0 L125.5,131.0 L126.2,131.1 L127.0,131.5 L127.8,131.9 L128.5,132.2 L129.2,132.6 L130.0,133.0 L130.8,133.4 L131.5,133.8 L132.2,134.1 L133.0,134.5 L133.8,134.9 L134.5,135.2 L135.2,135.6 L136.0,136.0 L136.8,136.4 L137.5,136.8 L138.2,137.1 L139.0,137.5 L139.8,137.9 L140.5,138.3 L141.2,138.9 L142.0,139.4 L142.8,139.9 L143.5,140.4 L144.2,141.0 L145.0,141.5 L145.8,142.0 L146.5,142.6 L147.2,143.1 L148.0,143.6 L148.8,144.1 L149.5,144.7 L150.2,145.1 L151.0,145.3 L151.8,145.5 L152.5,145.8 L153.2,146.0 L154.0,146.2 L154.8,146.4 L155.5,146.7 L156.2,146.9 L157.0,147.1 L157.8,147.3 L158.5,147.6 L159.2,147.8 L160.0,148.0 L160.8,147.9 L161.5,147.8 L162.2,147.7 L163.0,147.6 L163.8,147.4 L164.5,147.3 L165.2,147.2 L166.0,147.1 L166.8,147.0 L167.5,146.9 L168.2,146.8 L169.0,146.7 L169.8,146.5 L170.5,146.4 L171.2,146.3 L172.0,146.2 L172.8,146.1 L173.5,146.0 L174.2,145.9 L175.0,145.8 L175.8,145.6 L176.5,145.5 L177.2,145.4 L178.0,145.3 L178.8,145.2 L179.5,145.1 L180.2,145.0 L181.0,145.1 L181.8,145.1 L182.5,145.1 L183.2,145.2 L184.0,145.2 L184.8,145.2 L185.5,145.3 L186.2,145.3 L187.0,145.3 L187.8,145.4 L188.5,145.4 L189.2,145.5 L190.0,145.5 L190.8,145.5 L191.5,145.6 L192.2,145.6 L193.0,145.7 L193.8,145.7 L194.5,145.7 L195.2,145.8 L196.0,145.8 L196.8,145.8 L197.5,145.9 L198.2,145.9 L199.0,145.9 L199.8,146.0 L200.5,147.2 L201.2,149.0 L202.0,150.8 L202.8,152.6 L203.5,154.4 L204.2,156.2 L205.0,158.0 L205.8,159.8 L206.5,161.6 L207.2,163.4 L208.0,165.2 L208.8,167.0 L209.5,168.8 L210.2,170.4 L211.0,171.5 L211.8,172.6 L212.5,173.8 L213.2,174.9 L214.0,176.0 L214.8,177.1 L215.5,178.2 L216.2,179.4 L217.0,180.5 L217.8,181.6 L218.5,182.8 L219.2,183.9 L220.0,185.0 L220.8,185.9 L221.5,186.8 L222.2,187.7 L223.0,188.6 L223.8,189.5 L224.5,190.4 L225.2,191.3 L226.0,192.2 L226.8,193.1 L227.5,194.0 L228.2,194.9 L229.0,195.8 L229.8,196.7 L230.5,197.4 L231.2,198.1 L232.0,198.8 L232.8,199.5 L233.5,200.2 L234.2,200.8 L235.0,201.5 L235.8,202.2 L236.5,202.8 L237.2,203.5 L238.0,204.2 L238.8,204.9 L239.5,205.6 L240.2,206.1 L241.0,206.3 L241.8,206.6 L242.5,206.8 L243.2,207.1 L244.0,207.3 L244.8,207.6 L245.5,207.8 L246.2,207.9 L247.0,207.7 L247.8,207.4 L248.5,207.2 L249.2,206.9 L250.0,206.7 L250.8,206.4 L251.5,206.2 L252.2,205.9 L253.0,205.7 L253.8,205.4 L254.5,205.2 L255.2,205.2 L256.0,205.7 L256.8,206.2 L257.5,206.8 L258.2,207.3 L259.0,207.9 L259.8,208.4 L260.5,208.9 L261.2,209.5 L262.0,210.0 L262.8,212.5 L263.5,215.1 L264.2,217.6 L265.0,220.1 L265.8,222.7 L266.5,225.2 L267.2,227.7 L268.0,230.2 L268.8,232.8 L269.5,235.3 L270.2,237.2 L271.0,238.0 L271.8,238.8 L272.5,239.5 L273.2,240.2 L274.0,241.0 L274.8,241.8 L275.5,242.5 L276.2,243.2 L277.0,244.0 L277.8,244.8 L278.5,245.5 L279.2,245.4 L280.0,243.7 L280.8,241.9 L281.5,240.2 L282.2,238.4 L283.0,236.7 L283.8,234.9 L284.5,233.2 L285.2,232.4 L286.0,233.5 L286.8,234.6 L287.5,235.6 L288.2,236.7 L289.0,237.8 L289.8,238.9 L290.5,238.0 L291.2,236.1 L292.0,234.1 L292.8,234.0 L293.5,233.9 L294.2,233.8 L295.0,233.6 L295.8,233.5 L296.5,233.4 L297.2,233.3 L298.0,233.2 L298.8,233.0 L299.5,232.1 L300.2,230.9 L301.0,229.6 L301.8,228.3 L302.5,227.0 L303.2,225.7 L304.0,224.4 L304.8,223.1 L305.5,221.9 L306.2,220.2 L307.0,217.9 L307.8,215.5 L308.5,213.1 L309.2,210.8 L310.0,208.4 L310.8,206.1 L311.5,203.7 L312.2,201.4 L313.0,199.0 L313.8,198.7 L314.5,198.4 L315.2,198.0 L316.0,197.7 L316.8,197.4 L317.5,197.1 L318.2,196.8 L319.0,196.4 L319.8,196.1 L320.5,195.2 L321.2,193.9 L322.0,192.6 L322.8,191.3 L323.5,190.1 L324.2,188.8 L325.0,187.5 L325.8,186.2 L326.5,184.9 L327.2,184.4 L328.0,185.2 L328.8,186.0 L329.5,186.8 L330.2,187.3 L331.0,187.2 L331.8,187.0 L332.5,186.9 L333.2,186.7 L334.0,186.6 L334.8,186.4 L335.5,186.3 L336.2,186.1 L337.0,185.9 L337.8,185.8 L338.5,185.7 L339.2,185.6 L340.0,185.4 L340.8,185.3 L341.5,185.2 L342.2,185.0 L343.0,184.9 L343.8,184.8 L344.5,184.6 L345.2,184.5 L346.0,184.4 L346.8,184.2 L347.5,184.1 L348.2,184.0 L349.0,183.9 L349.8,184.5 L350.5,185.1 L351.2,185.7 L352.0,186.3 L352.8,186.9 L353.5,187.5 L354.2,188.1 L355.0,188.7 L355.8,189.3 L356.5,189.9 L357.2,190.5 L358.0,191.1 L358.8,191.8 L359.5,192.4 L360.2,192.9 L361.0,193.5 L361.8,194.0 L362.5,194.5 L363.2,195.0 L364.0,195.5 L364.8,196.1 L365.5,196.6 L366.2,197.1 L367.0,197.6 L367.8,198.1 L368.5,198.7 L369.2,199.2 L370.0,199.7 L370.8,199.9 L371.5,200.1 L372.2,200.3 L373.0,200.5 L373.8,200.7 L374.5,200.9 L375.2,201.2 L376.0,201.4 L376.8,201.6 L377.5,201.5 L378.2,201.3 L379.0,201.1 L379.8,200.8 L380.5,200.6 L381.2,200.4 L382.0,200.2 L382.8,200.0 L383.5,199.7 L384.2,199.7 L385.0,199.9 L385.8,200.1 L386.5,200.3 L387.2,200.5 L388.0,200.7 L388.8,200.9 L389.5,201.1 L390.2,201.3 L391.0,201.5 L391.8,202.1 L392.5,202.7 L393.2,203.3 L394.0,203.8 L394.8,204.4 L395.5,205.0 L396.2,205.6 L397.0,206.2 L397.8,206.7 L398.5,207.3 L399.2,207.9 L400.0,208.5 L400.8,207.9 L401.5,207.2 L402.2,206.6 L403.0,206.0 L403.8,205.4 L404.5,204.8 L405.2,204.2 L406.0,203.7 L406.8,203.2 L407.5,202.6 L408.2,202.1 L409.0,201.5 L409.8,201.0 L410.5,200.5 L411.2,199.9 L412.0,199.4 L412.8,199.6 L413.5,199.8 L414.2,200.0 L415.0,200.2 L415.8,200.4 L416.5,200.6 L417.2,200.8 L418.0,201.0 L418.8,201.2 L419.5,201.5 L420.2,201.8 L421.0,202.2 L421.8,202.5 L422.5,202.8 L423.2,203.1 L424.0,203.4 L424.8,203.7 L425.5,204.1 L426.2,204.1 L427.0,203.7 L427.8,203.3 L428.5,202.9 L429.2,202.4 L430.0,202.0 L430.8,201.6 L431.5,201.2 L432.2,200.7 L433.0,200.3 L433.8,199.9 L434.5,199.5 L435.2,199.1 L436.0,199.0 L436.8,198.8 L437.5,198.7 L438.2,198.5 L439.0,198.4 L439.8,198.2 L440.5,198.1 L441.2,197.9 L442.0,197.7 L442.8,197.6 L443.5,197.4 L444.2,197.3 L445.0,197.1 L445.8,197.1 L446.5,197.1 L447.2,197.1 L448.0,197.1 L448.8,197.1 L449.5,197.1 L450.2,197.1 L451.0,197.1 L451.8,197.1 L452.5,197.1 L453.2,197.1 L454.0,197.0 L454.8,197.8 L455.5,198.5 L456.2,199.3 L457.0,200.0 L457.8,200.8 L458.5,201.5 L459.2,202.3 L460.0,203.0 L460.8,203.6 L461.5,205.6 L462.2,208.2 L463.0,210.8 L463.8,213.5 L464.5,216.1 L465.2,218.7 L466.0,221.4 L466.8,224.0 L467.5,226.6 L468.2,229.3 L469.0,231.9 L469.8,234.6 L470.5,237.4 L471.2,240.2 L472.0,243.0 L472.8,245.8 L473.5,248.6 L474.2,251.4 L475.0,254.2 L475.8,257.1 L476.5,257.7 L477.2,257.3 L478.0,256.9 L478.8,256.4 L479.5,256.0 L480.2,255.6 L481.0,255.1 L481.8,254.7 L482.5,254.3 L483.2,253.5 L484.0,252.0 L484.8,250.5 L485.5,249.0 L486.2,247.5 L487.0,246.0 L487.8,244.5 L488.5,243.0 L489.2,241.5 L490.0,240.0 L490.8,240.3 L491.5,240.6 L492.2,241.0 L493.0,241.3 L493.8,241.6 L494.5,241.9 L495.2,242.2 L496.0,242.6 L496.8,242.9 L497.5,243.4 L498.2,244.1 L499.0,244.8 L499.8,245.4 L500.5,246.1 L501.2,246.7 L502.0,247.4 L502.8,248.0 L503.5,248.7 L504.2,249.3 L505.0,250.0 L505.8,253.7 L506.5,257.4 L507.2,261.1 L508.0,264.9 L508.8,268.6 L509.5,270.8 L510.2,272.3 L511.0,273.9 L511.8,275.4 L512.5,276.9 L513.2,278.4 L514.0,280.0 L514.8,281.5 L515.5,281.9 L516.2,281.8 L517.0,281.6 L517.8,281.5 L518.5,281.4 L519.2,281.2 L520.0,281.1 L520.8,280.7 L521.5,280.2 L522.2,279.8 L523.0,279.4 L523.8,278.9 L524.5,278.5 L525.2,278.1 L526.0,277.6 L526.8,277.2 L527.5,276.8 L528.2,276.3 L529.0,275.9 L529.8,275.5 L530.5,276.3 L531.2,277.8 L532.0,279.2 L532.8,280.6 L533.5,282.1 L534.2,283.6 L535.0,285.0 L535.8,286.5 L536.5,287.9 L537.2,289.3 L538.0,290.8 L538.8,292.2 L539.5,292.9 L540.2,293.0 L541.0,293.2 L541.8,293.4 L542.5,293.6 L543.2,293.8 L544.0,294.0 L544.8,294.2 L545.5,294.4 L546.2,294.6 L547.0,295.1 L547.8,295.6 L548.5,296.0 L549.2,296.5 L550.0,296.9 L550.8,297.4 L551.5,297.8 L552.2,298.3 L553.0,298.7 L553.8,299.2 L554.5,299.7 L555.2,300.1 L556.0,300.6 L556.8,301.0 L557.5,301.5 L558.2,301.9 L559.0,302.4 L559.8,302.8 L560.5,302.3 L561.2,301.2 L562.0,300.1 L562.8,299.1 L563.5,298.0 L564.2,296.9 L565.0,295.8 L565.8,294.8 L566.5,293.7 L567.2,292.6 L568.0,291.5 L568.8,290.5 L569.5,289.4 L570.2,288.3 L571.0,287.2 L571.8,286.2 L572.5,284.1 L573.2,281.6 L574.0,279.1 L574.8,276.6 L575.5,273.5 L576.2,270.2 L577.0,266.9 L577.8,263.6 L578.5,260.3 L579.2,257.9 L580.0,257.3 L580.8,256.7 L581.5,256.1 L582.2,255.6 L583.0,255.0 L583.8,254.4 L584.5,253.8 L585.2,253.3 L586.0,252.7 L586.8,252.1 L587.5,251.5 L588.2,251.0 L589.0,250.7 L589.8,250.3 L590.5,249.9 L591.2,249.6 L592.0,249.2 L592.8,248.8 L593.5,248.5 L594.2,248.1 L595.0,247.7 L595.8,247.4 L596.5,247.0 L597.2,246.6 L598.0,246.3 L598.8,245.9 L599.5,245.5 L600.2,245.2 L601.0,244.8 L601.8,244.4 L602.5,244.4 L603.2,244.6 L604.0,244.8 L604.8,245.0 L605.5,245.2 L606.2,245.4 L607.0,245.6 L607.8,245.8 L608.5,246.0 L609.2,246.2 L610.0,246.4 L610.8,246.6 L611.5,246.8 L612.2,247.0 L613.0,247.2 L613.8,247.4 L614.5,247.9 L615.2,248.6 L616.0,249.3 L616.8,250.0 L617.5,250.7 L618.2,251.4 L619.0,252.1 L619.8,252.8 L620.5,253.5 L621.2,254.2 L622.0,254.9 L622.8,255.6 L623.5,256.3 L624.2,257.0 L625.0,257.7 L625.8,258.4 L626.5,258.6 L627.2,258.6 L628.0,258.6 L628.8,258.6 L629.5,258.6 L630.2,258.6 L631.0,258.7 L631.8,258.7 L632.5,258.7 L633.2,258.7 L634.0,258.7 L634.8,258.7 L635.5,258.7 L636.2,258.7 L637.0,258.7 L637.8,258.5 L638.5,258.2 L639.2,258.0 L640.0,257.8 L640.8,257.5 L641.5,257.3 L642.2,257.0 L643.0,256.8 L643.8,256.6 L644.5,256.3 L645.2,256.1 L646.0,255.8 L646.8,255.6 L647.5,255.4 L648.2,255.1 L649.0,254.9 L649.8,254.7 L650.5,254.6 L651.2,254.5 L652.0,254.4 L652.8,254.3 L653.5,254.1 L654.2,254.0 L655.0,253.9 L655.8,253.8 L656.5,253.6 L657.2,253.5 L658.0,253.4 L658.8,253.3 L659.5,253.1 L660.2,253.0 L661.0,252.9 L661.8,252.8 L662.5,252.6 L663.2,252.5 L664.0,252.4 L664.8,252.3 L665.5,252.2 L666.2,252.2 L667.0,252.6 L667.8,253.1 L668.5,253.5 L669.2,253.9 L670.0,254.3 L670.8,254.8 L671.5,255.2 L672.2,255.6 L673.0,256.0 L673.8,256.5 L674.5,256.9 L675.2,257.1 L676.0,257.0 L676.8,256.8 L677.5,256.7 L678.2,256.5 L679.0,256.3 L679.8,256.2 L680.5,256.0 L681.2,255.9 L682.0,255.7 L682.8,255.5 L683.5,255.4 L684.2,255.4 L685.0,255.6 L685.8,255.9 L686.5,256.1 L687.2,256.4 L688.0,256.7 L688.8,256.9 L689.5,257.2 L690.2,257.4 L691.0,257.7 L691.8,258.0 L692.5,258.2 L693.2,258.5 L694.0,258.7 L694.8,259.0 L695.5,259.3 L696.2,259.5 L697.0,259.7 L697.8,259.9 L698.5,260.1 L699.2,260.3 L700.0,260.5 L700.8,260.7 L701.5,260.9 L702.2,261.1 L703.0,261.3 L703.8,261.5 L704.5,261.6 L705.2,261.8 L706.0,262.0 L706.8,262.2 L707.5,262.4 L708.2,262.6 L709.0,262.7 L709.8,262.8 L710.5,262.9 L711.2,262.9 L712.0,263.0 L712.8,263.1 L713.5,263.2 L714.2,263.3 L715.0,263.4 L715.8,263.5 L716.5,263.6 L717.2,263.6 L718.0,263.7 L718.8,263.8 L719.5,263.9 L720.2,264.0 L721.0,264.1 L721.8,264.2 L722.5,264.3 L723.2,264.3 L724.0,264.4 L724.8,264.5 L725.5,264.6 L726.2,264.7 L727.0,264.8 L727.8,265.0 L728.5,265.1 L729.2,265.3 L730.0,265.5 L730.8,265.7 L731.5,265.8 L732.2,266.0 L733.0,266.2 L733.8,266.4 L734.5,266.5 L735.2,266.7 L736.0,266.9 L736.8,267.4 L737.5,267.9 L738.2,268.4 L739.0,268.9 L739.8,269.4 L740.5,269.9 L741.2,270.5 L742.0,271.0 L742.8,273.3 L743.5,275.7 L744.2,278.1 L745.0,280.5 L745.8,283.4 L746.5,286.3 L747.2,289.2 L748.0,292.1 L748.8,300.2 L749.5,308.2 L750.2,316.2 L751.0,324.3 L751.8,332.3 L752.5,337.9 L753.2,342.1 L754.0,346.4 L754.8,350.7 L755.5,355.0 L756.2,357.7 L757.0,357.4 L757.8,357.1 L758.5,356.8 L759.2,356.5 L760.0,356.2 L760.8,355.9 L761.5,355.6 L762.2,355.3 L763.0,355.0 L763.8,355.9 L764.5,356.8 L765.2,357.8 L766.0,358.7 L766.8,359.6 L767.5,360.5 L768.2,361.4 L769.0,362.4 L769.8,358.1 L770.5,353.9 L771.2,349.6 L772.0,345.3 L772.8,341.1 L773.5,336.8 L774.2,334.9 L775.0,337.8 L775.8,340.6 L776.5,343.5 L777.2,346.4 L778.0,349.2 L778.8,349.9 L779.5,350.6 L780.2,351.4 L781.0,352.1 L781.8,352.8 L782.5,353.6 L783.2,354.3 L784.0,355.0 L784.8,355.6 L785.5,356.2 L786.2,356.8 L787.0,357.4 L787.8,358.0 L788.5,358.6 L789.2,359.2 L790.0,359.8 L790.8,360.4 L791.5,361.0 L792.2,360.8 L793.0,358.8 L793.8,356.9 L794.5,354.9 L795.2,353.0 L796.0,351.0 L796.8,349.1 L797.5,347.1 L798.2,345.2 L799.0,343.2 L799.8,341.3 L800.5,339.3 L801.2,338.3 L802.0,339.1 L802.8,339.9 L803.5,340.8 L804.2,341.6 L805.0,342.4 L805.8,343.3 L806.5,344.1 L807.2,344.9 L808.0,345.8 L808.8,346.6 L809.5,347.4 L810.2,348.2 L811.0,348.9 L811.8,349.6 L812.5,350.3 L813.2,351.0 L814.0,351.8 L814.8,352.5 L815.5,353.2 L816.2,353.9 L817.0,354.6 L817.8,355.3 L818.5,356.0 L819.2,356.7 L820.0,357.4 L820.8,358.1 L821.5,358.8 L822.2,359.5 L823.0,360.2 L823.8,360.9 L824.5,361.6 L825.2,362.3 L826.0,363.0 L826.8,363.2 L827.5,363.4 L828.2,363.6 L829.0,363.9 L829.8,364.1 L830.5,364.3 L831.2,364.5 L832.0,364.7 L832.8,364.9 L833.5,365.1 L834.2,365.4 L835.0,365.6 L835.8,365.8 L836.5,366.0 L837.2,366.2 L838.0,366.4 L838.8,366.6 L839.5,366.9 L840.2,366.8 L841.0,366.0 L841.8,365.2 L842.5,364.5 L843.2,363.8 L844.0,363.0 L844.8,362.2 L845.5,361.5 L846.2,360.8 L847.0,360.0 L847.8,359.2 L848.5,358.5 L849.2,357.8 L850.0,357.0 L850.8,356.2 L851.5,355.5 L852.2,354.8 L853.0,354.0 L853.8,353.2 L854.5,352.5 L855.2,351.8 L856.0,351.0 L856.8,350.2 L857.5,349.8 L858.2,349.4 L859.0,349.0 L859.8,348.6 L860.5,348.2 L861.2,348.9 L862.0,351.6 L862.8,354.3 L863.5,357.0 L864.2,359.7 L865.0,362.4 L865.8,365.1 L866.5,367.2 L867.2,369.1 L868.0,370.9 L868.8,372.7 L869.5,374.6 L870.2,376.4 L871.0,378.2 L871.8,380.1 L872.5,381.9 L873.2,383.7 L874.0,385.6 L874.8,387.4 L875.5,388.6 L876.2,389.6 L877.0,390.5 L877.8,391.4 L878.5,392.4 L879.2,393.3 L880.0,394.2 L880.8,395.2 L881.5,396.1 L882.2,397.1 L883.0,398.0 L883.8,397.3 L884.5,396.7 L885.2,396.0 L886.0,395.4 L886.8,394.7 L887.5,394.1 L888.2,393.4 L889.0,392.8 L889.8,392.1 L890.5,391.4 L891.2,391.0 L891.2,416.0 L890.5,415.6 L889.8,415.1 L889.0,414.5 L888.2,413.9 L887.5,413.4 L886.8,412.8 L886.0,412.2 L885.2,411.7 L884.5,411.1 L883.8,410.6 L883.0,410.0 L882.2,408.3 L881.5,406.6 L880.8,404.9 L880.0,403.2 L879.2,401.6 L878.5,399.9 L877.8,398.2 L877.0,396.5 L876.2,394.8 L875.5,393.1 L874.8,391.4 L874.0,389.6 L873.2,387.7 L872.5,385.9 L871.8,384.1 L871.0,382.2 L870.2,380.4 L869.5,378.6 L868.8,376.7 L868.0,374.9 L867.2,373.1 L866.5,371.2 L865.8,369.5 L865.0,368.0 L864.2,366.5 L863.5,365.0 L862.8,363.5 L862.0,362.0 L861.2,360.5 L860.5,361.9 L859.8,364.7 L859.0,367.5 L858.2,370.3 L857.5,373.1 L856.8,375.4 L856.0,376.8 L855.2,378.1 L854.5,379.4 L853.8,380.8 L853.0,382.1 L852.2,383.4 L851.5,384.8 L850.8,386.1 L850.0,387.4 L849.2,388.8 L848.5,390.1 L847.8,390.7 L847.0,389.9 L846.2,389.0 L845.5,388.2 L844.8,387.3 L844.0,386.5 L843.2,385.7 L842.5,384.8 L841.8,384.0 L841.0,383.1 L840.2,382.3 L839.5,381.8 L838.8,381.4 L838.0,381.0 L837.2,380.6 L836.5,380.2 L835.8,379.9 L835.0,379.5 L834.2,379.1 L833.5,378.8 L832.8,378.4 L832.0,378.0 L831.2,377.6 L830.5,377.2 L829.8,376.9 L829.0,376.5 L828.2,376.1 L827.5,375.8 L826.8,375.4 L826.0,375.0 L825.2,374.3 L824.5,373.6 L823.8,372.9 L823.0,372.2 L822.2,371.5 L821.5,370.8 L820.8,370.1 L820.0,369.4 L819.2,368.7 L818.5,368.0 L817.8,367.3 L817.0,366.6 L816.2,365.9 L815.5,365.2 L814.8,364.5 L814.0,363.8 L813.2,363.0 L812.5,362.3 L811.8,361.6 L811.0,360.9 L810.2,360.2 L809.5,359.4 L808.8,358.6 L808.0,357.8 L807.2,356.9 L806.5,356.1 L805.8,355.3 L805.0,354.4 L804.2,353.6 L803.5,352.8 L802.8,351.9 L802.0,351.1 L801.2,350.3 L800.5,351.9 L799.8,354.7 L799.0,357.6 L798.2,360.4 L797.5,363.2 L796.8,366.1 L796.0,368.9 L795.2,371.7 L794.5,374.6 L793.8,377.4 L793.0,380.2 L792.2,383.1 L791.5,384.2 L790.8,384.5 L790.0,384.8 L789.2,385.0 L788.5,385.3 L787.8,385.6 L787.0,385.9 L786.2,386.2 L785.5,386.4 L784.8,386.7 L784.0,387.0 L783.2,386.1 L782.5,385.2 L781.8,384.4 L781.0,383.5 L780.2,382.6 L779.5,381.8 L778.8,380.9 L778.0,380.0 L777.2,377.0 L776.5,374.0 L775.8,371.0 L775.0,368.0 L774.2,365.0 L773.5,366.6 L772.8,370.6 L772.0,374.5 L771.2,378.5 L770.5,382.5 L769.8,386.4 L769.0,390.4 L768.2,394.3 L767.5,398.3 L766.8,402.2 L766.0,406.2 L765.2,410.1 L764.5,414.1 L763.8,418.0 L763.0,422.0 L762.2,416.4 L761.5,410.8 L760.8,405.2 L760.0,399.6 L759.2,394.0 L758.5,388.5 L757.8,382.9 L757.0,377.3 L756.2,371.7 L755.5,366.1 L754.8,360.5 L754.0,354.9 L753.2,349.3 L752.5,343.7 L751.8,337.5 L751.0,330.0 L750.2,322.5 L749.5,315.0 L748.8,307.5 L748.0,300.0 L747.2,297.6 L746.5,295.2 L745.8,292.9 L745.0,290.5 L744.2,288.1 L743.5,285.8 L742.8,283.4 L742.0,281.0 L741.2,280.5 L740.5,280.0 L739.8,279.5 L739.0,279.0 L738.2,278.5 L737.5,278.0 L736.8,277.5 L736.0,277.0 L735.2,276.8 L734.5,276.7 L733.8,276.5 L733.0,276.3 L732.2,276.2 L731.5,276.0 L730.8,275.8 L730.0,275.7 L729.2,275.5 L728.5,275.3 L727.8,275.2 L727.0,275.0 L726.2,274.9 L725.5,274.8 L724.8,274.8 L724.0,274.7 L723.2,274.6 L722.5,274.5 L721.8,274.4 L721.0,274.4 L720.2,274.3 L719.5,274.2 L718.8,274.1 L718.0,274.1 L717.2,274.0 L716.5,273.9 L715.8,273.8 L715.0,273.7 L714.2,273.7 L713.5,273.6 L712.8,273.5 L712.0,273.4 L711.2,273.3 L710.5,273.3 L709.8,273.2 L709.0,273.1 L708.2,273.0 L707.5,272.9 L706.8,272.7 L706.0,272.5 L705.2,272.3 L704.5,272.1 L703.8,271.9 L703.0,271.8 L702.2,271.6 L701.5,271.4 L700.8,271.2 L700.0,271.0 L699.2,270.8 L698.5,270.6 L697.8,270.4 L697.0,270.2 L696.2,270.1 L695.5,269.8 L694.8,269.6 L694.0,269.3 L693.2,269.1 L692.5,268.8 L691.8,268.6 L691.0,268.3 L690.2,268.1 L689.5,267.8 L688.8,267.6 L688.0,267.3 L687.2,267.1 L686.5,266.8 L685.8,266.6 L685.0,266.3 L684.2,266.1 L683.5,266.1 L682.8,266.3 L682.0,266.4 L681.2,266.6 L680.5,266.8 L679.8,266.9 L679.0,267.1 L678.2,267.3 L677.5,267.4 L676.8,267.6 L676.0,267.8 L675.2,267.9 L674.5,267.7 L673.8,267.3 L673.0,266.9 L672.2,266.5 L671.5,266.1 L670.8,265.6 L670.0,265.2 L669.2,264.8 L668.5,264.4 L667.8,264.0 L667.0,263.6 L666.2,263.1 L665.5,263.1 L664.8,263.2 L664.0,263.4 L663.2,263.5 L662.5,263.6 L661.8,263.8 L661.0,263.9 L660.2,264.0 L659.5,264.1 L658.8,264.3 L658.0,264.4 L657.2,264.5 L656.5,264.7 L655.8,264.8 L655.0,264.9 L654.2,265.1 L653.5,265.2 L652.8,265.3 L652.0,265.5 L651.2,265.6 L650.5,265.7 L649.8,265.9 L649.0,266.0 L648.2,266.2 L647.5,266.5 L646.8,266.8 L646.0,267.0 L645.2,267.2 L644.5,267.5 L643.8,267.8 L643.0,268.0 L642.2,268.2 L641.5,268.5 L640.8,268.8 L640.0,269.0 L639.2,269.2 L638.5,269.5 L637.8,269.8 L637.0,270.0 L636.2,270.0 L635.5,270.0 L634.8,270.0 L634.0,270.0 L633.2,270.0 L632.5,270.0 L631.8,270.0 L631.0,270.0 L630.2,270.0 L629.5,270.0 L628.8,270.0 L628.0,270.0 L627.2,270.0 L626.5,270.0 L625.8,269.8 L625.0,269.1 L624.2,268.4 L623.5,267.7 L622.8,267.0 L622.0,266.3 L621.2,265.6 L620.5,265.0 L619.8,264.3 L619.0,263.6 L618.2,262.9 L617.5,262.2 L616.8,261.5 L616.0,260.8 L615.2,260.1 L614.5,259.5 L613.8,258.9 L613.0,258.8 L612.2,258.6 L611.5,258.4 L610.8,258.2 L610.0,258.0 L609.2,257.8 L608.5,257.6 L607.8,257.4 L607.0,257.2 L606.2,257.1 L605.5,256.9 L604.8,256.7 L604.0,256.5 L603.2,256.3 L602.5,256.1 L601.8,256.1 L601.0,256.5 L600.2,256.9 L599.5,257.2 L598.8,257.6 L598.0,258.0 L597.2,258.4 L596.5,258.8 L595.8,259.1 L595.0,259.5 L594.2,259.9 L593.5,260.2 L592.8,260.6 L592.0,261.0 L591.2,261.4 L590.5,261.8 L589.8,262.1 L589.0,262.5 L588.2,262.9 L587.5,263.4 L586.8,264.0 L586.0,264.6 L585.2,265.1 L584.5,265.7 L583.8,266.3 L583.0,266.9 L582.2,267.5 L581.5,268.1 L580.8,268.6 L580.0,269.2 L579.2,269.8 L578.5,272.2 L577.8,275.5 L577.0,278.9 L576.2,282.2 L575.5,285.5 L574.8,288.8 L574.0,292.1 L573.2,295.5 L572.5,298.8 L571.8,301.6 L571.0,303.5 L570.2,305.4 L569.5,307.2 L568.8,309.1 L568.0,311.0 L567.2,312.9 L566.5,314.8 L565.8,316.6 L565.0,318.5 L564.2,320.4 L563.5,322.2 L562.8,324.1 L562.0,326.0 L561.2,327.9 L560.5,329.8 L559.8,330.8 L559.0,330.2 L558.2,329.6 L557.5,329.0 L556.8,328.4 L556.0,327.9 L555.2,327.3 L554.5,326.7 L553.8,326.1 L553.0,325.5 L552.2,324.9 L551.5,324.3 L550.8,323.7 L550.0,323.1 L549.2,322.6 L548.5,322.0 L547.8,321.4 L547.0,320.8 L546.2,320.2 L545.5,319.8 L544.8,319.5 L544.0,319.1 L543.2,318.8 L542.5,318.5 L541.8,318.2 L541.0,317.9 L540.2,317.5 L539.5,317.2 L538.8,316.5 L538.0,314.9 L537.2,313.3 L536.5,311.7 L535.8,310.1 L535.0,308.6 L534.2,307.0 L533.5,305.4 L532.8,303.8 L532.0,302.2 L531.2,300.6 L530.5,299.1 L529.8,298.1 L529.0,298.4 L528.2,298.7 L527.5,299.0 L526.8,299.3 L526.0,299.6 L525.2,299.9 L524.5,300.2 L523.8,300.5 L523.0,300.8 L522.2,301.1 L521.5,301.4 L520.8,301.7 L520.0,302.0 L519.2,302.0 L518.5,302.0 L517.8,302.0 L517.0,302.0 L516.2,302.0 L515.5,302.0 L514.8,301.3 L514.0,299.2 L513.2,297.0 L512.5,294.9 L511.8,292.8 L511.0,290.7 L510.2,288.5 L509.5,286.4 L508.8,283.6 L508.0,279.2 L507.2,274.9 L506.5,270.6 L505.8,266.3 L505.0,262.0 L504.2,261.3 L503.5,260.7 L502.8,260.0 L502.0,259.4 L501.2,258.7 L500.5,258.1 L499.8,257.4 L499.0,256.8 L498.2,256.1 L497.5,255.4 L496.8,254.9 L496.0,254.6 L495.2,254.2 L494.5,253.9 L493.8,253.6 L493.0,253.3 L492.2,253.0 L491.5,252.6 L490.8,252.3 L490.0,252.0 L489.2,253.5 L488.5,255.0 L487.8,256.5 L487.0,258.0 L486.2,259.5 L485.5,261.0 L484.8,262.5 L484.0,264.0 L483.2,265.5 L482.5,266.3 L481.8,266.7 L481.0,267.1 L480.2,267.6 L479.5,268.0 L478.8,268.4 L478.0,268.9 L477.2,269.3 L476.5,269.7 L475.8,269.1 L475.0,266.2 L474.2,263.4 L473.5,260.6 L472.8,257.8 L472.0,255.0 L471.2,252.2 L470.5,249.4 L469.8,246.6 L469.0,243.8 L468.2,240.9 L467.5,238.1 L466.8,235.4 L466.0,232.6 L465.2,229.8 L464.5,227.0 L463.8,224.2 L463.0,221.4 L462.2,218.6 L461.5,215.9 L460.8,213.8 L460.0,213.0 L459.2,212.2 L458.5,211.5 L457.8,210.8 L457.0,210.0 L456.2,209.2 L455.5,208.5 L454.8,207.8 L454.0,207.0 L453.2,207.0 L452.5,207.0 L451.8,207.0 L451.0,207.0 L450.2,207.0 L449.5,207.0 L448.8,207.0 L448.0,207.0 L447.2,207.0 L446.5,207.0 L445.8,207.0 L445.0,207.0 L444.2,207.2 L443.5,207.3 L442.8,207.4 L442.0,207.6 L441.2,207.8 L440.5,207.9 L439.8,208.1 L439.0,208.2 L438.2,208.3 L437.5,208.5 L436.8,208.7 L436.0,208.8 L435.2,208.9 L434.5,209.3 L433.8,209.7 L433.0,210.1 L432.2,210.5 L431.5,210.9 L430.8,211.4 L430.0,211.8 L429.2,212.2 L428.5,212.6 L427.8,213.0 L427.0,213.4 L426.2,213.9 L425.5,213.8 L424.8,213.5 L424.0,213.1 L423.2,212.8 L422.5,212.5 L421.8,212.2 L421.0,211.9 L420.2,211.5 L419.5,211.2 L418.8,210.9 L418.0,210.7 L417.2,210.5 L416.5,210.3 L415.8,210.1 L415.0,209.9 L414.2,209.6 L413.5,209.4 L412.8,209.2 L412.0,209.0 L411.2,209.5 L410.5,210.1 L409.8,210.6 L409.0,211.1 L408.2,211.7 L407.5,212.2 L406.8,212.8 L406.0,213.3 L405.2,213.8 L404.5,214.4 L403.8,215.0 L403.0,215.6 L402.2,216.2 L401.5,216.8 L400.8,217.4 L400.0,218.0 L399.2,217.4 L398.5,216.8 L397.8,216.2 L397.0,215.7 L396.2,215.1 L395.5,214.5 L394.8,213.9 L394.0,213.3 L393.2,212.8 L392.5,212.2 L391.8,211.6 L391.0,211.0 L390.2,210.8 L389.5,210.6 L388.8,210.4 L388.0,210.1 L387.2,209.9 L386.5,209.7 L385.8,209.5 L385.0,209.3 L384.2,209.1 L383.5,209.1 L382.8,209.4 L382.0,209.6 L381.2,209.8 L380.5,210.0 L379.8,210.2 L379.0,210.4 L378.2,210.6 L377.5,210.9 L376.8,210.9 L376.0,210.7 L375.2,210.5 L374.5,210.3 L373.8,210.1 L373.0,209.9 L372.2,209.6 L371.5,209.4 L370.8,209.2 L370.0,209.0 L369.2,208.5 L368.5,207.9 L367.8,207.4 L367.0,206.9 L366.2,206.4 L365.5,205.8 L364.8,205.3 L364.0,204.8 L363.2,204.3 L362.5,203.8 L361.8,203.2 L361.0,202.7 L360.2,202.2 L359.5,201.6 L358.8,201.0 L358.0,200.4 L357.2,199.8 L356.5,199.1 L355.8,198.5 L355.0,197.9 L354.2,197.3 L353.5,196.7 L352.8,196.1 L352.0,195.5 L351.2,194.8 L350.5,194.2 L349.8,193.6 L349.0,193.0 L348.2,193.1 L347.5,193.2 L346.8,193.4 L346.0,193.5 L345.2,193.6 L344.5,193.8 L343.8,193.9 L343.0,194.0 L342.2,194.1 L341.5,194.2 L340.8,194.4 L340.0,194.5 L339.2,194.6 L338.5,194.8 L337.8,194.9 L337.0,195.0 L336.2,195.2 L335.5,195.3 L334.8,195.4 L334.0,195.6 L333.2,195.8 L332.5,195.9 L331.8,196.1 L331.0,196.2 L330.2,196.3 L329.5,196.5 L328.8,196.7 L328.0,196.8 L327.2,196.9 L326.5,198.5 L325.8,200.8 L325.0,203.0 L324.2,205.2 L323.5,207.5 L322.8,209.8 L322.0,212.0 L321.2,214.2 L320.5,216.5 L319.8,218.2 L319.0,218.7 L318.2,219.2 L317.5,219.8 L316.8,220.3 L316.0,220.9 L315.2,221.4 L314.5,221.9 L313.8,222.5 L313.0,223.0 L312.2,225.6 L311.5,228.1 L310.8,230.7 L310.0,233.3 L309.2,235.9 L308.5,238.4 L307.8,241.0 L307.0,243.6 L306.2,246.1 L305.5,248.0 L304.8,249.5 L304.0,251.0 L303.2,252.5 L302.5,254.0 L301.8,255.5 L301.0,257.0 L300.2,258.5 L299.5,260.0 L298.8,261.1 L298.0,261.4 L297.2,261.8 L296.5,262.1 L295.8,262.4 L295.0,262.8 L294.2,263.1 L293.5,263.4 L292.8,263.8 L292.0,264.1 L291.2,264.4 L290.5,264.8 L289.8,264.1 L289.0,261.4 L288.2,258.7 L287.5,256.0 L286.8,253.3 L286.0,250.6 L285.2,247.9 L284.5,248.2 L283.8,249.9 L283.0,251.7 L282.2,253.4 L281.5,255.2 L280.8,256.9 L280.0,258.7 L279.2,260.4 L278.5,260.5 L277.8,259.8 L277.0,259.0 L276.2,258.2 L275.5,257.5 L274.8,256.8 L274.0,256.0 L273.2,255.2 L272.5,254.5 L271.8,253.8 L271.0,253.0 L270.2,252.2 L269.5,250.3 L268.8,247.8 L268.0,245.2 L267.2,242.7 L266.5,240.2 L265.8,237.7 L265.0,235.1 L264.2,232.6 L263.5,230.1 L262.8,227.5 L262.0,225.0 L261.2,224.5 L260.5,223.9 L259.8,223.4 L259.0,222.9 L258.2,222.3 L257.5,221.8 L256.8,221.2 L256.0,220.7 L255.2,220.2 L254.5,220.2 L253.8,220.4 L253.0,220.7 L252.2,220.9 L251.5,221.2 L250.8,221.4 L250.0,221.7 L249.2,221.9 L248.5,222.2 L247.8,222.4 L247.0,222.7 L246.2,222.9 L245.5,222.8 L244.8,222.6 L244.0,222.3 L243.2,222.1 L242.5,221.8 L241.8,221.6 L241.0,221.3 L240.2,221.1 L239.5,220.6 L238.8,219.9 L238.0,219.2 L237.2,218.5 L236.5,217.8 L235.8,217.2 L235.0,216.5 L234.2,215.8 L233.5,215.2 L232.8,214.5 L232.0,213.8 L231.2,213.1 L230.5,212.4 L229.8,211.7 L229.0,210.8 L228.2,209.9 L227.5,209.0 L226.8,208.1 L226.0,207.2 L225.2,206.3 L224.5,205.4 L223.8,204.5 L223.0,203.6 L222.2,202.7 L221.5,201.8 L220.8,200.9 L220.0,200.0 L219.2,198.9 L218.5,197.8 L217.8,196.6 L217.0,195.5 L216.2,194.4 L215.5,193.2 L214.8,192.1 L214.0,191.0 L213.2,189.9 L212.5,188.8 L211.8,187.6 L211.0,186.5 L210.2,185.4 L209.5,183.7 L208.8,181.6 L208.0,179.6 L207.2,177.6 L206.5,175.6 L205.8,173.5 L205.0,171.5 L204.2,169.5 L203.5,167.4 L202.8,165.4 L202.0,163.4 L201.2,161.4 L200.5,159.3 L199.8,158.0 L199.0,157.9 L198.2,157.9 L197.5,157.9 L196.8,157.8 L196.0,157.8 L195.2,157.8 L194.5,157.7 L193.8,157.7 L193.0,157.7 L192.2,157.6 L191.5,157.6 L190.8,157.5 L190.0,157.5 L189.2,157.5 L188.5,157.4 L187.8,157.4 L187.0,157.3 L186.2,157.3 L185.5,157.3 L184.8,157.2 L184.0,157.2 L183.2,157.2 L182.5,157.1 L181.8,157.1 L181.0,157.1 L180.2,157.0 L179.5,157.1 L178.8,157.2 L178.0,157.3 L177.2,157.4 L176.5,157.5 L175.8,157.6 L175.0,157.8 L174.2,157.9 L173.5,158.0 L172.8,158.1 L172.0,158.2 L171.2,158.3 L170.5,158.4 L169.8,158.5 L169.0,158.7 L168.2,158.8 L167.5,158.9 L166.8,159.0 L166.0,159.1 L165.2,159.2 L164.5,159.3 L163.8,159.4 L163.0,159.6 L162.2,159.7 L161.5,159.8 L160.8,159.9 L160.0,160.0 L159.2,159.8 L158.5,159.6 L157.8,159.3 L157.0,159.1 L156.2,158.9 L155.5,158.7 L154.8,158.4 L154.0,158.2 L153.2,158.0 L152.5,157.8 L151.8,157.5 L151.0,157.3 L150.2,157.1 L149.5,156.7 L148.8,156.1 L148.0,155.6 L147.2,155.1 L146.5,154.6 L145.8,154.0 L145.0,153.5 L144.2,153.0 L143.5,152.4 L142.8,151.9 L142.0,151.4 L141.2,150.9 L140.5,150.3 L139.8,149.9 L139.0,149.5 L138.2,149.1 L137.5,148.8 L136.8,148.4 L136.0,148.0 L135.2,147.6 L134.5,147.2 L133.8,146.9 L133.0,146.5 L132.2,146.1 L131.5,145.8 L130.8,145.4 L130.0,145.0 L129.2,144.6 L128.5,144.2 L127.8,143.9 L127.0,143.5 L126.2,143.1 L125.5,143.0 L124.8,143.0 L124.0,143.0 L123.2,143.0 L122.5,143.0 L121.8,143.0 L121.0,143.0 L120.2,143.0 L119.5,143.0 L118.8,143.0 L118.0,143.0 L117.2,147.2 L116.5,151.5 L115.8,155.8 L115.0,160.0 L114.2,170.0 L113.5,180.0 L112.8,190.0 L112.0,200.0 L111.2,209.4 L110.5,218.8 L109.8,228.1 L109.0,237.5 L108.2,246.9 L107.5,256.2 L106.8,265.6 L106.0,275.0 L105.2,284.4 L104.5,293.8 L103.8,301.0 L103.0,304.0 L102.2,307.0 L101.5,310.0 L100.8,311.1 L100.0,308.4 L99.2,305.7 L98.5,303.0 L97.8,300.3 L97.0,297.6 L96.2,294.9 L95.5,297.5 L94.8,302.8 L94.0,308.0 L93.2,306.5 L92.5,305.0 L91.8,303.5 L91.0,302.0 L90.2,300.5 L89.5,299.0 L88.8,298.9 L88.0,301.7 L87.2,304.5 L86.5,307.3 L85.8,310.1 L85.0,312.9 L84.2,315.6 L83.5,318.4 L82.8,321.2 L82.0,324.0 L81.2,320.2 L80.5,316.5 L79.8,312.8 L79.0,309.0 L78.2,305.2 L77.5,301.5 L76.8,297.8 L76.0,294.0 L75.2,290.2 L74.5,288.2 L73.8,286.9 L73.0,285.7 L72.2,284.4 L71.5,283.6 L70.8,283.0 L70.0,282.3 L69.2,281.7 L68.5,281.1 L67.8,280.5 L67.0,279.8 L66.2,279.2 L65.5,278.8 L64.8,278.4 L64.0,278.0 L63.2,277.6 L62.5,277.2 L61.8,276.9 L61.0,276.5 L60.2,276.1 L59.5,275.8 L58.8,275.6 L58.0,275.4 L57.2,275.2 L56.5,274.9 L55.8,274.7 L55.0,274.5 L54.2,274.2 L53.5,274.0 L52.8,273.8 L52.0,273.5 L51.2,273.3 L50.5,273.1 L49.8,272.8 L49.0,272.6 L48.2,272.4 L47.5,272.2 L46.8,271.9 L46.0,271.7 L45.2,271.4 L44.5,271.2 L43.8,270.9 L43.0,270.7 L42.2,270.4 L41.5,270.2 L40.8,269.9 L40.0,269.7 L39.2,269.4 L38.5,269.2 L37.8,268.9 L37.0,268.7 L36.2,268.4 L35.5,268.2 L34.8,268.0 L34.0,268.0 L33.2,268.0 L32.5,268.0 L31.8,268.0 L31.0,268.0 L30.2,268.0 L29.5,268.0 L28.8,268.0 L28.0,268.0 L27.2,268.0 L26.5,268.0 L25.8,268.0 L25.0,268.0 L24.2,268.0 L23.5,268.0 L22.8,268.8 L22.0,271.0 L21.2,273.2 L20.5,275.5 L19.8,277.8 L19.0,280.0 L18.2,282.1 L17.5,284.2 L16.8,286.3 L16.0,288.4 L15.2,290.5 L14.5,292.6 L13.8,294.1 L13.0,294.6 L12.2,295.0 L11.5,295.4 L10.8,295.9 L10.0,296.3 L9.2,296.7 L8.5,297.1 L7.8,297.6 L7.0,298.0Z" fill="#451d21"/>
<g stroke="#55202b" stroke-width="1.6" stroke-dasharray="3.9,2.85" stroke-dashoffset="-0.2"><path d="M7,144.9H1229"/><path d="M7,157.1H1229"/><path d="M7,214.5H1229"/><path d="M7,239.7H1229"/><path d="M7,267.4H1229"/></g>
<path d="M7.0,270.0 L7.8,269.6 L8.5,269.2 L9.2,268.8 L10.0,268.5 L10.8,268.1 L11.5,267.7 L12.2,267.3 L13.0,266.9 L13.8,266.5 L14.5,265.6 L15.2,264.4 L16.0,263.2 L16.8,261.9 L17.5,260.7 L18.2,259.6 L19.0,258.7 L19.8,257.7 L20.5,256.8 L21.2,255.8 L22.0,254.8 L22.8,253.8 L23.5,253.6 L24.2,253.8 L25.0,253.9 L25.8,254.1 L26.5,254.2 L27.2,254.3 L28.0,254.5 L28.8,254.7 L29.5,254.8 L30.2,255.0 L31.0,255.1 L31.8,255.3 L32.5,255.5 L33.2,255.6 L34.0,255.8 L34.8,255.9 L35.5,256.2 L36.2,256.5 L37.0,256.8 L37.8,257.0 L38.5,257.3 L39.2,257.6 L40.0,257.9 L40.8,258.2 L41.5,258.5 L42.2,258.8 L43.0,259.0 L43.8,259.3 L44.5,259.6 L45.2,259.9 L46.0,260.2 L46.8,260.4 L47.5,260.7 L48.2,261.0 L49.0,261.3 L49.8,261.5 L50.5,261.8 L51.2,262.1 L52.0,262.4 L52.8,262.6 L53.5,262.9 L54.2,263.2 L55.0,263.6 L55.8,263.9 L56.5,264.3 L57.2,264.7 L58.0,265.0 L58.8,265.4 L59.5,265.8 L60.2,266.1 L61.0,266.6 L61.8,267.0 L62.5,267.5 L63.2,267.8 L64.0,267.9 L64.8,267.9 L65.5,268.0 L66.2,268.1 L67.0,268.3 L67.8,268.6 L68.5,273.3 L69.2,275.3 L70.0,277.3 L70.8,279.0 L71.5,279.1 L72.2,277.8 L73.0,276.5 L73.8,275.2 L74.5,273.9 L75.2,272.6 L76.0,271.3 L76.8,270.0 L77.5,268.7 L78.2,267.4 L79.0,266.1 L79.8,264.8 L80.5,263.5 L81.2,262.2 L82.0,260.9 L82.8,259.6 L83.5,258.3 L84.2,257.0 L85.0,255.7 L85.8,254.4 L86.5,252.5 L87.2,250.2 L88.0,248.0 L88.8,245.8 L89.5,243.5 L90.2,241.2 L91.0,239.0 L91.8,236.8 L92.5,234.5 L93.2,232.2 L94.0,229.7 L94.8,227.2 L95.5,224.8 L96.2,222.3 L97.0,219.9 L97.8,217.4 L98.5,214.9 L99.2,212.5 L100.0,210.0 L100.8,206.4 L101.5,202.8 L102.2,199.2 L103.0,195.6 L103.8,192.0 L104.5,188.4 L105.2,183.7 L106.0,176.7 L106.8,169.7 L107.5,162.7 L108.2,156.8 L109.0,153.2 L109.8,149.7 L110.5,146.1 L111.2,142.6 L112.0,139.0 L112.8,136.7 L113.5,134.5 L114.2,132.2 L115.0,129.9 L115.8,128.7 L116.5,128.1 L117.2,127.6 L118.0,127.0 L118.8,124.4 L119.5,124.4 L120.2,124.3 L121.0,124.3 L121.8,124.2 L122.5,124.2 L123.2,124.2 L124.0,124.1 L124.8,124.1 L125.5,124.0 L126.2,124.1 L127.0,124.3 L127.8,124.5 L128.5,124.8 L129.2,125.0 L130.0,125.2 L130.8,125.5 L131.5,125.7 L132.2,125.9 L133.0,126.2 L133.8,126.4 L134.5,126.6 L135.2,126.9 L136.0,127.1 L136.8,127.3 L137.5,127.6 L138.2,127.8 L139.0,128.0 L139.8,128.2 L140.5,128.5 L141.2,128.8 L142.0,129.1 L142.8,129.4 L143.5,130.1 L144.2,131.0 L145.0,131.9 L145.8,132.8 L146.5,133.7 L147.2,134.6 L148.0,135.5 L148.8,136.4 L149.5,137.2 L150.2,138.1 L151.0,138.8 L151.8,139.6 L152.5,140.0 L153.2,140.4 L154.0,140.7 L154.8,141.0 L155.5,141.3 L156.2,141.7 L157.0,142.0 L157.8,142.3 L158.5,142.7 L159.2,143.0 L160.0,143.3 L160.8,143.5 L161.5,143.7 L162.2,143.8 L163.0,144.0 L163.8,144.1 L164.5,144.2 L165.2,144.2 L166.0,144.1 L166.8,144.1 L167.5,144.1 L168.2,144.0 L169.0,144.0 L169.8,144.0 L170.5,143.9 L171.2,143.9 L172.0,143.9 L172.8,143.9 L173.5,143.8 L174.2,143.8 L175.0,143.8 L175.8,143.7 L176.5,143.7 L177.2,143.7 L178.0,143.7 L178.8,143.6 L179.5,143.5 L180.2,143.4 L181.0,143.4 L181.8,143.4 L182.5,143.3 L183.2,143.3 L184.0,143.3 L184.8,143.3 L185.5,143.3 L186.2,143.2 L187.0,143.2 L187.8,143.2 L188.5,143.2 L189.2,143.2 L190.0,143.2 L190.8,143.3 L191.5,143.3 L192.2,143.3 L193.0,143.3 L193.8,143.3 L194.5,143.4 L195.2,143.4 L196.0,143.4 L196.8,143.4 L197.5,143.4 L198.2,143.5 L199.0,143.5 L199.8,143.5 L200.5,144.2 L201.2,145.2 L202.0,146.4 L202.8,147.6 L203.5,148.7 L204.2,149.9 L205.0,151.1 L205.8,152.2 L206.5,153.9 L207.2,155.8 L208.0,157.7 L208.8,159.6 L209.5,161.5 L210.2,163.2 L211.0,164.7 L211.8,166.1 L212.5,167.6 L213.2,169.0 L214.0,170.5 L214.8,171.8 L215.5,173.0 L216.2,174.3 L217.0,175.5 L217.8,176.8 L218.5,178.1 L219.2,179.3 L220.0,180.6 L220.8,181.7 L221.5,182.5 L222.2,183.1 L223.0,183.8 L223.8,184.4 L224.5,185.0 L225.2,185.6 L226.0,186.2 L226.8,186.9 L227.5,187.5 L228.2,188.1 L229.0,188.7 L229.8,189.3 L230.5,189.9 L231.2,190.4 L232.0,190.9 L232.8,191.5 L233.5,192.1 L234.2,192.6 L235.0,193.2 L235.8,193.8 L236.5,194.4 L237.2,194.9 L238.0,195.5 L238.8,196.1 L239.5,196.7 L240.2,197.2 L241.0,197.5 L241.8,197.9 L242.5,198.3 L243.2,198.6 L244.0,198.7 L244.8,198.9 L245.5,199.0 L246.2,199.1 L247.0,199.0 L247.8,198.9 L248.5,198.8 L249.2,198.7 L250.0,198.6 L250.8,198.5 L251.5,198.4 L252.2,198.3 L253.0,198.2 L253.8,198.2 L254.5,198.1 L255.2,198.1 L256.0,198.4 L256.8,198.7 L257.5,199.0 L258.2,199.3 L259.0,199.6 L259.8,199.9 L260.5,200.2 L261.2,200.5 L262.0,200.8 L262.8,202.1 L263.5,203.4 L264.2,204.7 L265.0,206.0 L265.8,207.3 L266.5,208.6 L267.2,210.2 L268.0,212.4 L268.8,214.6 L269.5,216.9 L270.2,218.8 L271.0,220.1 L271.8,221.4 L272.5,222.8 L273.2,224.1 L274.0,225.4 L274.8,226.8 L275.5,228.1 L276.2,229.6 L277.0,231.4 L277.8,233.2 L278.5,234.9 L279.2,236.3 L280.0,236.8 L280.8,237.4 L281.5,237.9 L282.2,238.4 L283.0,239.0 L283.8,239.5 L284.5,237.8 L285.2,235.8 L286.0,235.3 L286.8,234.8 L287.5,234.2 L288.2,233.7 L289.0,233.2 L289.8,232.7 L290.5,231.9 L291.2,231.1 L292.0,230.2 L292.8,229.3 L293.5,228.4 L294.2,227.6 L295.0,226.7 L295.8,225.8 L296.5,225.0 L297.2,224.1 L298.0,223.2 L298.8,222.9 L299.5,222.1 L300.2,221.2 L301.0,220.2 L301.8,219.3 L302.5,218.4 L303.2,217.4 L304.0,216.5 L304.8,215.6 L305.5,214.6 L306.2,213.4 L307.0,211.6 L307.8,209.9 L308.5,208.1 L309.2,206.3 L310.0,204.6 L310.8,202.8 L311.5,201.0 L312.2,199.3 L313.0,197.5 L313.8,196.9 L314.5,196.3 L315.2,195.7 L316.0,195.1 L316.8,194.6 L317.5,194.0 L318.2,193.4 L319.0,192.8 L319.8,192.2 L320.5,191.1 L321.2,189.9 L322.0,188.6 L322.8,187.3 L323.5,186.0 L324.2,184.7 L325.0,183.4 L325.8,182.1 L326.5,180.9 L327.2,180.0 L328.0,180.1 L328.8,180.2 L329.5,180.2 L330.2,180.3 L331.0,180.4 L331.8,180.5 L332.5,180.6 L333.2,180.6 L334.0,180.7 L334.8,180.8 L335.5,180.9 L336.2,180.9 L337.0,181.0 L337.8,181.2 L338.5,181.4 L339.2,181.7 L340.0,181.9 L340.8,182.1 L341.5,182.3 L342.2,182.5 L343.0,182.8 L343.8,183.0 L344.5,183.2 L345.2,183.4 L346.0,183.6 L346.8,183.8 L347.5,184.1 L348.2,184.3 L349.0,184.5 L349.8,184.9 L350.5,185.3 L351.2,185.7 L352.0,186.1 L352.8,186.5 L353.5,187.0 L354.2,187.4 L355.0,187.8 L355.8,188.2 L356.5,188.6 L357.2,189.0 L358.0,189.4 L358.8,189.8 L359.5,190.2 L360.2,190.6 L361.0,190.8 L361.8,191.1 L362.5,191.4 L363.2,191.6 L364.0,191.9 L364.8,192.2 L365.5,192.4 L366.2,192.7 L367.0,192.9 L367.8,193.2 L368.5,193.5 L369.2,193.7 L370.0,194.0 L370.8,194.1 L371.5,194.1 L372.2,194.2 L373.0,194.2 L373.8,194.3 L374.5,194.3 L375.2,194.4 L376.0,194.4 L376.8,194.5 L377.5,194.4 L378.2,194.2 L379.0,194.1 L379.8,193.9 L380.5,193.8 L381.2,193.6 L382.0,193.4 L382.8,193.3 L383.5,193.1 L384.2,193.0 L385.0,193.1 L385.8,193.1 L386.5,193.2 L387.2,193.2 L388.0,193.3 L388.8,193.3 L389.5,193.4 L390.2,193.4 L391.0,193.5 L391.8,192.3 L392.5,191.1 L393.2,189.9 L394.0,188.7 L394.8,187.5 L395.5,186.2 L396.2,185.0 L397.0,183.8 L397.8,182.6 L398.5,182.2 L399.2,182.2 L400.0,182.1 L400.8,181.5 L401.5,180.9 L402.2,180.3 L403.0,179.7 L403.8,179.0 L404.5,178.4 L405.2,177.9 L406.0,177.6 L406.8,177.2 L407.5,176.9 L408.2,176.6 L409.0,176.3 L409.8,176.0 L410.5,175.6 L411.2,175.3 L412.0,175.0 L412.8,175.1 L413.5,175.2 L414.2,175.3 L415.0,175.4 L415.8,175.5 L416.5,175.6 L417.2,175.8 L418.0,175.9 L418.8,176.0 L419.5,176.1 L420.2,176.3 L421.0,176.4 L421.8,177.4 L422.5,178.5 L423.2,179.5 L424.0,180.5 L424.8,181.5 L425.5,182.5 L426.2,183.4 L427.0,184.1 L427.8,184.7 L428.5,185.2 L429.2,185.7 L430.0,186.1 L430.8,186.5 L431.5,187.0 L432.2,187.4 L433.0,187.8 L433.8,188.3 L434.5,188.7 L435.2,189.1 L436.0,189.2 L436.8,189.4 L437.5,189.6 L438.2,189.8 L439.0,190.0 L439.8,190.2 L440.5,190.4 L441.2,190.6 L442.0,190.8 L442.8,190.9 L443.5,191.1 L444.2,191.3 L445.0,191.5 L445.8,191.7 L446.5,191.9 L447.2,192.1 L448.0,192.3 L448.8,192.5 L449.5,192.8 L450.2,193.0 L451.0,193.2 L451.8,193.4 L452.5,193.6 L453.2,193.8 L454.0,194.0 L454.8,194.6 L455.5,195.3 L456.2,195.9 L457.0,196.6 L457.8,197.2 L458.5,197.9 L459.2,198.5 L460.0,199.1 L460.8,199.8 L461.5,201.1 L462.2,202.9 L463.0,204.6 L463.8,206.3 L464.5,208.0 L465.2,209.7 L466.0,211.4 L466.8,213.1 L467.5,214.9 L468.2,216.6 L469.0,218.3 L469.8,220.0 L470.5,221.8 L471.2,223.5 L472.0,225.2 L472.8,227.0 L473.5,228.7 L474.2,230.5 L475.0,232.2 L475.8,233.9 L476.5,235.0 L477.2,235.7 L478.0,236.4 L478.8,237.1 L479.5,237.8 L480.2,238.4 L481.0,239.1 L481.8,239.8 L482.5,240.5 L483.2,241.1 L484.0,241.4 L484.8,241.8 L485.5,242.1 L486.2,242.4 L487.0,242.7 L487.8,243.0 L488.5,243.4 L489.2,243.7 L490.0,244.0 L490.8,244.2 L491.5,244.3 L492.2,244.5 L493.0,244.6 L493.8,244.8 L494.5,245.0 L495.2,245.1 L496.0,245.3 L496.8,245.4 L497.5,245.8 L498.2,246.3 L499.0,246.8 L499.8,247.3 L500.5,247.8 L501.2,248.3 L502.0,248.8 L502.8,249.3 L503.5,249.8 L504.2,250.3 L505.0,250.8 L505.8,253.1 L506.5,255.7 L507.2,258.5 L508.0,261.3 L508.8,264.1 L509.5,266.1 L510.2,267.8 L511.0,269.5 L511.8,271.2 L512.5,272.9 L513.2,274.5 L514.0,276.2 L514.8,277.9 L515.5,278.8 L516.2,279.5 L517.0,280.1 L517.8,280.7 L518.5,281.3 L519.2,281.9 L520.0,282.5 L520.8,283.1 L521.5,283.7 L522.2,284.3 L523.0,284.9 L523.8,285.5 L524.5,285.7 L525.2,285.6 L526.0,285.6 L526.8,285.5 L527.5,285.5 L528.2,285.4 L529.0,285.4 L529.8,285.3 L530.5,285.9 L531.2,286.8 L532.0,287.7 L532.8,288.6 L533.5,289.5 L534.2,290.4 L535.0,291.2 L535.8,292.1 L536.5,293.0 L537.2,293.9 L538.0,294.8 L538.8,295.7 L539.5,296.1 L540.2,296.3 L541.0,296.5 L541.8,296.7 L542.5,296.9 L543.2,297.1 L544.0,297.3 L544.8,297.6 L545.5,297.8 L546.2,298.0 L547.0,298.3 L547.8,298.7 L548.5,298.8 L549.2,298.8 L550.0,298.8 L550.8,298.8 L551.5,298.8 L552.2,298.8 L553.0,298.8 L553.8,297.7 L554.5,296.7 L555.2,295.6 L556.0,294.6 L556.8,293.6 L557.5,292.5 L558.2,291.5 L559.0,290.4 L559.8,289.4 L560.5,287.5 L561.2,285.3 L562.0,283.0 L562.8,281.9 L563.5,280.8 L564.2,279.6 L565.0,278.5 L565.8,277.4 L566.5,276.2 L567.2,275.1 L568.0,274.0 L568.8,272.9 L569.5,271.8 L570.2,270.6 L571.0,269.5 L571.8,268.4 L572.5,266.6 L573.2,264.6 L574.0,262.6 L574.8,260.5 L575.5,258.5 L576.2,256.5 L577.0,254.4 L577.8,252.4 L578.5,250.4 L579.2,248.9 L580.0,248.6 L580.8,248.3 L581.5,248.0 L582.2,247.7 L583.0,247.4 L583.8,247.2 L584.5,246.9 L585.2,246.6 L586.0,246.3 L586.8,246.0 L587.5,245.7 L588.2,245.4 L589.0,245.2 L589.8,245.1 L590.5,244.9 L591.2,244.7 L592.0,244.5 L592.8,244.3 L593.5,244.1 L594.2,243.9 L595.0,243.8 L595.8,243.6 L596.5,243.4 L597.2,243.2 L598.0,243.0 L598.8,242.8 L599.5,242.6 L600.2,242.4 L601.0,242.2 L601.8,242.1 L602.5,242.2 L603.2,242.4 L604.0,242.7 L604.8,242.9 L605.5,243.2 L606.2,243.4 L607.0,243.7 L607.8,243.9 L608.5,244.2 L609.2,244.4 L610.0,244.7 L610.8,244.9 L611.5,245.2 L612.2,245.4 L613.0,245.7 L613.8,245.9 L614.5,246.4 L615.2,247.0 L616.0,247.7 L616.8,248.3 L617.5,248.9 L618.2,249.5 L619.0,250.2 L619.8,250.8 L620.5,251.4 L621.2,252.0 L622.0,252.7 L622.8,253.3 L623.5,253.9 L624.2,254.5 L625.0,255.2 L625.8,255.8 L626.5,256.2 L627.2,256.4 L628.0,256.6 L628.8,256.9 L629.5,257.1 L630.2,257.4 L631.0,257.6 L631.8,257.8 L632.5,258.1 L633.2,258.3 L634.0,258.5 L634.8,258.8 L635.5,259.0 L636.2,259.3 L637.0,259.5 L637.8,259.2 L638.5,259.0 L639.2,258.8 L640.0,258.5 L640.8,258.2 L641.5,258.0 L642.2,257.8 L643.0,257.5 L643.8,257.2 L644.5,257.0 L645.2,256.8 L646.0,256.5 L646.8,256.2 L647.5,256.0 L648.2,255.8 L649.0,255.5 L649.8,254.9 L650.5,254.3 L651.2,253.7 L652.0,253.1 L652.8,252.5 L653.5,251.9 L654.2,251.3 L655.0,250.7 L655.8,250.1 L656.5,250.0 L657.2,250.1 L658.0,250.2 L658.8,250.3 L659.5,250.4 L660.2,250.6 L661.0,250.7 L661.8,250.8 L662.5,250.9 L663.2,251.1 L664.0,251.2 L664.8,251.3 L665.5,251.4 L666.2,251.6 L667.0,251.9 L667.8,252.2 L668.5,252.5 L669.2,252.8 L670.0,253.1 L670.8,253.3 L671.5,253.6 L672.2,253.9 L673.0,254.2 L673.8,254.5 L674.5,254.8 L675.2,255.0 L676.0,255.1 L676.8,255.1 L677.5,255.1 L678.2,255.2 L679.0,255.2 L679.8,255.3 L680.5,255.3 L681.2,255.3 L682.0,255.4 L682.8,255.4 L683.5,255.5 L684.2,255.6 L685.0,255.8 L685.8,256.1 L686.5,256.3 L687.2,256.6 L688.0,256.8 L688.8,257.1 L689.5,257.3 L690.2,257.6 L691.0,257.8 L691.8,258.1 L692.5,258.3 L693.2,258.6 L694.0,258.8 L694.8,259.1 L695.5,259.3 L696.2,259.6 L697.0,259.8 L697.8,259.9 L698.5,260.1 L699.2,260.3 L700.0,260.5 L700.8,260.7 L701.5,260.9 L702.2,261.1 L703.0,261.2 L703.8,261.4 L704.5,261.6 L705.2,261.8 L706.0,262.0 L706.8,262.2 L707.5,262.4 L708.2,262.5 L709.0,262.7 L709.8,262.8 L710.5,262.9 L711.2,263.0 L712.0,263.2 L712.8,263.3 L713.5,263.4 L714.2,263.5 L715.0,263.6 L715.8,263.8 L716.5,263.9 L717.2,264.0 L718.0,264.0 L718.8,264.1 L719.5,264.1 L720.2,264.1 L721.0,264.2 L721.8,264.2 L722.5,264.3 L723.2,264.3 L724.0,264.3 L724.8,264.4 L725.5,264.4 L726.2,264.5 L727.0,264.5 L727.8,264.7 L728.5,264.8 L729.2,265.0 L730.0,265.2 L730.8,265.3 L731.5,265.5 L732.2,265.7 L733.0,265.8 L733.8,266.0 L734.5,266.2 L735.2,266.3 L736.0,266.5 L736.8,266.8 L737.5,267.1 L738.2,267.4 L739.0,267.6 L739.8,267.9 L740.5,268.2 L741.2,268.5 L742.0,268.8 L742.8,270.0 L743.5,271.2 L744.2,272.5 L745.0,273.7 L745.8,274.9 L746.5,277.3 L747.2,280.2 L748.0,283.2 L748.8,288.7 L749.5,294.2 L750.2,299.7 L751.0,305.2 L751.8,310.7 L752.5,314.8 L753.2,318.3 L754.0,321.8 L754.8,325.3 L755.5,328.8 L756.2,332.3 L757.0,335.8 L757.8,339.3 L758.5,342.8 L759.2,346.3 L760.0,349.8 L760.8,353.6 L761.5,357.3 L762.2,361.1 L763.0,364.9 L763.8,363.8 L764.5,362.8 L765.2,361.8 L766.0,360.8 L766.8,359.8 L767.5,359.0 L768.2,358.2 L769.0,357.5 L769.8,356.8 L770.5,356.1 L771.2,355.3 L772.0,354.6 L772.8,353.9 L773.5,353.2 L774.2,353.6 L775.0,356.3 L775.8,359.1 L776.5,359.5 L777.2,358.8 L778.0,358.0 L778.8,356.2 L779.5,355.3 L780.2,354.8 L781.0,354.3 L781.8,353.8 L782.5,353.4 L783.2,352.9 L784.0,352.4 L784.8,351.4 L785.5,350.3 L786.2,349.6 L787.0,349.4 L787.8,349.3 L788.5,349.2 L789.2,349.0 L790.0,348.9 L790.8,348.7 L791.5,348.6 L792.2,348.0 L793.0,346.6 L793.8,345.2 L794.5,343.8 L795.2,342.4 L796.0,340.9 L796.8,339.5 L797.5,338.5 L798.2,337.7 L799.0,336.9 L799.8,336.0 L800.5,335.2 L801.2,335.0 L802.0,336.0 L802.8,337.0 L803.5,338.0 L804.2,339.0 L805.0,340.1 L805.8,341.1 L806.5,342.1 L807.2,343.1 L808.0,344.1 L808.8,345.1 L809.5,345.9 L810.2,346.7 L811.0,347.3 L811.8,348.0 L812.5,348.7 L813.2,349.4 L814.0,350.0 L814.8,350.7 L815.5,351.4 L816.2,352.1 L817.0,352.7 L817.8,353.4 L818.5,354.1 L819.2,354.8 L820.0,355.5 L820.8,356.1 L821.5,356.8 L822.2,357.5 L823.0,358.2 L823.8,358.8 L824.5,359.5 L825.2,360.1 L826.0,360.8 L826.8,361.3 L827.5,361.8 L828.2,362.3 L829.0,362.8 L829.8,363.2 L830.5,363.7 L831.2,364.2 L832.0,364.7 L832.8,365.2 L833.5,365.7 L834.2,366.2 L835.0,366.6 L835.8,367.1 L836.5,367.6 L837.2,368.1 L838.0,368.6 L838.8,369.1 L839.5,369.7 L840.2,370.4 L841.0,371.3 L841.8,372.2 L842.5,373.1 L843.2,373.1 L844.0,371.4 L844.8,369.7 L845.5,368.0 L846.2,366.7 L847.0,366.2 L847.8,365.7 L848.5,364.5 L849.2,362.9 L850.0,361.4 L850.8,359.8 L851.5,358.2 L852.2,356.6 L853.0,355.1 L853.8,354.5 L854.5,354.0 L855.2,353.5 L856.0,352.9 L856.8,352.4 L857.5,351.4 L858.2,350.1 L859.0,348.8 L859.8,347.6 L860.5,346.3 L861.2,345.8 L862.0,346.6 L862.8,347.5 L863.5,348.4 L864.2,349.4 L865.0,350.4 L865.8,351.5 L866.5,352.7 L867.2,353.9 L868.0,355.2 L868.8,356.4 L869.5,357.7 L870.2,358.9 L871.0,360.1 L871.8,361.4 L872.5,362.6 L873.2,363.9 L874.0,365.1 L874.8,366.4 L875.5,367.5 L876.2,368.7 L877.0,369.9 L877.8,371.1 L878.5,372.2 L879.2,373.5 L880.0,374.9 L880.8,376.4 L881.5,377.8 L882.2,379.3 L883.0,380.7 L883.8,381.6 L884.5,382.5 L885.2,383.3 L886.0,384.2 L886.8,385.1 L887.5,386.0 L888.2,386.9 L889.0,387.8 L889.8,392.3 L890.5,396.9 L891.2,400.0" fill="none" stroke="#b0503a" stroke-width="0.8"/>
<g stroke-width="0.8" fill="none">
<path d="M7.00,249.7V257.7M10.35,260.5V263.4M11.47,248.6V261.8M13.71,241.6V255.9M14.82,242.8V251.8M18.18,248.1V254.8M19.29,249.6V252.3M21.53,246.1V251.6M23.76,245.1V261.5M26.00,248.4V258.6M30.47,253.2V266.3M32.70,251.7V270.9M33.82,244.6V253.4M40.53,247.2V274.6M42.76,248.5V257.0M45.00,263.3V270.6M47.23,255.3V280.6M49.47,260.2V280.3M50.59,258.9V277.3M51.70,264.4V273.0M58.41,271.2V275.6M60.64,269.6V276.7M64.00,269.2V275.0M65.12,268.8V280.7M66.23,257.2V278.7M67.35,264.3V273.7M69.59,255.7V276.7M71.82,262.4V267.1M72.94,249.6V263.4M75.17,241.0V258.9M77.41,240.1V259.4M78.53,229.6V252.8M79.64,222.6V240.6M80.76,219.1V239.9M81.88,202.6V228.0M84.11,203.5V220.4M86.35,200.1V212.7M87.47,196.1V215.5M88.58,202.6V215.2M90.82,193.1V205.1M93.06,177.4V196.9M94.17,172.4V183.3M95.29,157.8V180.6M96.41,148.7V171.6M97.53,146.0V153.8M98.64,123.7V157.7M99.76,115.8V133.0M102.00,119.0V130.4M105.35,114.7V133.8M108.70,105.4V123.0M109.82,109.0V120.7M110.94,109.6V117.4M112.05,104.4V122.3M114.29,103.7V115.3M121.00,116.9V126.9M123.23,121.0V131.2M124.35,124.3V127.6M125.47,115.8V128.6M126.58,118.0V122.4M127.70,114.4V127.2M128.82,108.1V122.8M132.17,111.1V124.1M134.41,119.6V124.7M141.11,141.4V158.3M142.23,146.3V148.0M144.46,136.1V148.9M145.58,135.9V144.1M147.82,137.7V142.2M148.94,125.9V138.8M151.17,133.6V141.3M152.29,133.0V141.3M153.41,130.6V138.1M158.99,140.9V145.5M161.23,135.2V147.6M163.46,145.1V153.0M165.70,145.5V147.7M167.93,144.3V148.6M169.05,140.8V148.3M170.17,138.8V150.0M171.29,135.1V144.5M173.52,140.4V147.2M175.76,137.5V147.5M176.88,126.7V144.5M179.11,132.5V134.4M180.23,129.1V135.4M183.58,132.5V147.9M184.70,134.7V142.0M185.82,131.4V138.9M186.93,136.1V138.1M189.17,132.4V139.2M190.29,126.8V139.6M195.87,141.2V147.5M196.99,137.9V146.1M200.34,149.2V166.3M201.46,153.4V164.7M207.05,167.2V175.8M209.29,175.5V178.5M210.40,173.2V181.3M213.76,178.8V188.1M215.99,182.9V186.2M219.34,183.4V195.8M221.58,174.5V188.8M222.70,176.0V180.5M233.87,199.3V210.7M237.23,199.6V205.8M238.34,194.8V203.0M240.58,196.8V204.1M241.70,198.2V200.6M242.81,193.0V201.7M245.05,195.3V205.5M247.28,190.3V203.5M249.52,188.1V195.9M250.64,183.1V193.0M252.87,188.6V195.8M255.11,193.5V195.2M262.93,202.5V219.1M266.28,219.7V222.5M267.40,214.9V223.7M271.87,233.8V242.2M272.99,229.2V235.8M275.22,236.7V250.9M276.34,225.6V247.5M279.69,223.8V238.0M280.81,220.5V243.4M284.16,223.9V230.4M285.28,210.5V226.1M286.40,218.0V231.0M287.52,202.7V224.3M289.75,205.2V216.5M290.87,200.2V216.3M291.99,192.5V203.8M294.22,195.4V213.6M295.34,190.0V208.6M297.58,203.4V212.2M299.81,206.5V210.3M300.93,196.8V215.1M302.05,197.6V207.4M304.28,194.3V206.8M305.40,186.8V202.3M306.52,184.6V191.1M308.75,193.4V198.7M312.10,186.2V201.0M313.22,185.1V188.5M314.34,177.4V190.2M316.58,170.4V182.4M317.69,168.0V173.8M318.81,170.9V172.8M322.16,169.2V184.5M323.28,167.0V174.8M324.40,163.7V180.9M329.99,169.2V180.7M331.10,173.1V178.2M335.57,182.5V186.9M336.69,176.5V187.2M342.28,185.9V194.9M344.52,183.0V192.7M346.75,181.0V196.3M350.10,192.6V197.9M351.22,188.8V194.0M356.81,190.6V208.2M359.04,191.5V204.2M360.16,186.3V198.5M362.40,193.5V200.8M365.75,191.0V199.4M366.87,186.9V198.2M367.98,186.3V193.8M369.10,182.8V190.3M371.34,180.8V194.9M373.57,184.5V190.1M375.81,178.2V186.6M381.40,183.3V204.9M382.51,181.4V184.6M385.87,187.9V195.9M386.98,189.8V201.0M388.10,187.4V193.7M389.22,183.7V188.9M391.45,178.4V190.7M392.57,169.3V182.7M393.69,163.4V173.6M394.81,162.4V177.2M398.16,173.5V177.8M399.28,164.2V176.5M400.40,155.1V168.6M401.51,153.2V173.5M402.63,149.0V158.7M403.75,149.1V151.6M404.87,143.2V158.9M414.92,176.4V189.6M416.04,170.0V179.6M421.63,189.9V205.1M422.75,192.9V203.8M424.98,192.8V200.6M428.34,189.1V199.8M429.45,190.2V193.6M430.57,189.3V196.7M431.69,179.9V192.3M432.81,172.1V188.6M435.04,167.3V183.4M439.51,183.8V196.2M440.63,178.9V194.3M443.98,183.2V188.9M449.57,193.6V209.0M450.69,191.5V203.0M451.80,182.7V199.6M455.16,198.1V208.1M457.39,195.5V207.9M464.10,227.7V231.9M465.22,217.4V236.2M468.57,239.7V242.9M470.80,221.9V253.3M474.16,239.8V251.8M477.51,247.8V254.3M478.63,238.9V251.7M480.86,240.0V248.9M483.10,242.8V250.9M485.33,244.1V252.4M489.80,247.9V249.5M490.92,242.5V253.2M494.27,238.8V255.7M500.98,245.2V264.9M505.45,253.1V265.4M506.57,249.7V263.3M508.80,252.8V263.7M512.16,279.7V288.4M513.27,274.2V287.0M514.39,275.8V286.7M515.51,269.0V279.2M519.98,279.5V286.6M521.10,275.5V283.3M525.57,286.9V291.5M527.80,282.9V289.8M531.15,290.4V295.5M534.51,301.4V309.0M536.74,300.2V313.1M540.10,298.3V310.1M542.33,300.1V311.3M543.45,287.6V303.6M546.80,294.3V299.7M547.92,289.8V298.5M549.04,282.3V290.8M550.15,285.2V292.0M551.27,282.9V286.6M553.51,272.6V290.1M554.62,264.1V282.5M555.74,261.5V273.1M556.86,256.5V267.6M557.98,254.7V258.7M559.09,254.7V257.7M561.33,245.4V264.7M563.56,239.4V256.7M566.92,249.5V255.5M568.04,242.8V258.9M569.15,234.5V247.9M572.51,238.0V251.6M574.74,232.0V247.7M576.98,233.2V248.7M578.09,231.6V241.0M579.21,232.2V238.5M582.56,242.7V244.6M584.80,239.3V248.9M587.03,239.0V250.4M588.15,239.1V245.4M589.27,234.0V243.3M591.50,234.1V241.6M593.74,228.7V243.6M598.21,232.8V243.4M600.45,234.3V245.7M601.56,235.8V242.2M604.92,245.1V253.3M606.03,240.5V246.3M609.39,246.7V253.0M610.50,242.5V260.3M611.62,241.1V254.2M614.97,247.1V256.3M617.21,249.5V264.1M619.44,249.0V262.2M622.80,262.1V275.3M623.92,258.2V267.0M625.03,248.9V267.8M628.39,249.3V259.2M629.50,251.9V253.7M630.62,248.6V258.8M633.97,247.6V265.7M635.09,250.3V252.4M636.21,247.0V256.0M639.56,252.9V261.6M642.91,254.6V260.8M644.03,254.8V259.8M645.15,251.0V257.2M648.50,247.1V256.7M649.62,251.1V255.9M650.74,246.5V252.6M651.86,243.0V249.5M654.09,248.6V256.3M655.21,239.7V255.9M656.33,233.6V255.9M659.68,235.0V253.9M664.15,236.7V245.5M665.27,237.7V241.0M667.50,252.6V261.2M669.74,248.9V266.3M670.85,250.2V254.7M671.97,248.6V256.6M677.56,256.0V261.6M678.68,257.9V264.6M682.03,257.7V263.2M683.15,259.3V262.1M684.27,255.1V261.4M685.38,252.7V258.0M687.62,250.5V255.4M690.97,255.9V265.9M693.21,259.0V265.9M694.32,258.3V262.0M695.44,250.7V266.0M697.68,261.0V268.1M698.79,256.7V265.5M701.03,256.7V266.8M706.62,264.5V270.3M707.74,261.8V267.8M709.97,259.3V266.4M712.21,258.6V265.4M713.32,257.9V262.8M714.44,257.9V261.7M718.91,262.6V266.0M721.15,258.9V267.1M724.50,261.2V268.0M730.09,269.2V274.8M732.32,267.9V276.7M737.91,269.7V280.7M740.15,275.9V278.0M741.26,271.8V282.8M743.50,270.4V279.9M750.20,303.6V334.6M753.56,301.8V321.1M759.14,338.7V347.0M764.73,348.4V354.8M766.97,351.8V360.8M770.32,353.5V365.4M771.44,351.7V368.3M773.67,370.9V379.3M774.79,349.9V380.3M778.14,319.2V369.3M780.38,316.9V342.6M781.50,304.8V340.4M784.85,313.8V333.3M789.32,322.6V330.1M791.56,329.8V340.4M793.79,323.4V337.9M797.14,341.1V343.2M798.26,324.2V349.5M800.50,326.8V339.5M802.73,328.1V343.4M804.97,338.9V361.3M807.20,332.9V352.6M812.79,343.1V363.1M816.14,350.2V368.5M817.26,344.6V352.4M818.38,344.8V355.4M821.73,351.4V365.3M825.08,359.1V365.9M827.32,352.0V372.1M830.67,360.5V364.6M835.14,373.1V380.1M836.26,363.5V380.7M837.38,369.7V379.3M839.61,364.0V379.5M842.96,364.1V373.7M844.08,358.0V365.7M845.20,352.2V360.4M846.32,343.2V359.6M847.44,343.9V356.4M849.67,343.4V344.9M854.14,329.8V349.6M856.38,333.4V351.0M858.61,338.6V347.9M863.08,348.7V363.1M865.32,349.6V353.8M869.79,361.4V366.7M872.02,356.2V374.7M876.49,364.3V381.4M878.73,379.9V392.1M885.43,394.9V407.1M886.55,390.8V398.9M888.79,376.2V404.8M891.02,386.2V394.3" stroke="#d0dcd8"/>
<path d="M8.12,251.5V261.6M9.24,259.0V266.3M12.59,244.3V264.7M15.94,248.3V259.2M17.06,252.2V258.5M20.41,248.2V253.9M22.65,247.7V257.9M24.88,242.5V252.7M27.12,251.0V263.1M28.23,251.0V266.9M29.35,256.6V267.8M31.59,254.4V270.4M34.94,245.0V252.6M36.06,246.2V258.0M37.18,257.4V267.3M38.29,257.7V272.3M39.41,263.4V269.1M41.65,252.7V259.3M43.88,253.3V270.3M46.12,268.4V277.1M48.35,261.7V278.2M52.82,264.5V270.8M53.94,268.7V271.1M55.06,271.0V273.8M56.17,273.2V282.7M57.29,270.9V275.8M59.53,266.4V284.0M61.76,268.1V273.9M62.88,272.7V282.2M68.47,261.0V275.8M70.70,255.6V270.5M74.06,250.2V261.5M76.29,240.2V265.5M83.00,208.9V220.7M85.23,203.0V221.8M89.70,200.8V210.1M91.94,188.9V203.2M100.88,116.7V121.8M103.11,111.0V129.3M104.23,121.6V133.4M106.47,113.7V117.1M107.58,110.7V127.2M113.17,104.0V116.3M115.41,105.3V111.0M116.52,107.4V122.4M117.64,107.3V127.1M118.76,110.0V120.3M119.88,108.9V130.3M122.11,107.9V131.2M129.94,114.1V125.6M131.05,119.2V123.4M133.29,115.4V131.6M135.52,115.2V123.4M136.64,116.4V142.4M137.76,135.7V149.7M138.88,138.6V157.0M139.99,147.9V164.2M143.35,144.6V149.2M146.70,136.8V138.9M150.05,130.2V144.9M154.52,132.0V134.5M155.64,134.1V144.1M156.76,139.9V145.9M157.88,135.3V147.1M160.11,141.6V146.7M162.35,141.5V153.0M164.58,142.7V149.4M166.82,145.3V149.7M172.40,132.2V145.1M174.64,135.3V150.3M177.99,126.6V141.7M181.35,125.9V143.8M182.46,135.3V147.2M188.05,130.7V145.5M191.40,127.6V137.5M192.52,131.9V142.8M193.64,137.7V144.1M194.76,139.5V151.0M198.11,134.5V145.6M199.23,144.8V161.7M202.58,153.4V163.9M203.70,151.1V166.4M204.82,159.2V174.3M205.93,170.0V180.9M208.17,167.6V178.2M211.52,167.1V183.0M212.64,175.9V187.4M214.87,178.9V188.2M217.11,182.8V193.8M218.23,188.4V192.0M220.46,178.5V191.4M223.81,178.0V189.3M224.93,183.9V185.4M226.05,182.7V194.0M227.17,191.1V198.9M228.28,189.8V200.7M229.40,196.2V201.5M230.52,198.9V208.2M231.64,198.9V203.9M232.76,200.9V210.9M234.99,199.1V201.5M236.11,197.4V209.0M239.46,189.1V200.5M243.93,188.6V201.9M246.17,192.0V197.3M248.40,185.2V196.4M251.75,183.6V195.5M253.99,187.8V201.3M256.22,189.6V199.7M257.34,191.5V204.2M258.46,198.2V204.9M259.58,202.4V208.0M260.70,196.4V211.9M261.81,205.9V214.5M264.05,208.1V222.1M265.17,213.8V223.8M268.52,215.7V230.6M269.64,220.1V227.0M270.75,218.5V236.4M274.11,231.8V251.2M277.46,226.4V235.8M278.58,224.0V244.9M281.93,218.5V228.1M283.05,223.0V230.1M288.64,209.3V225.2M293.11,190.2V205.1M296.46,199.2V212.1M298.69,195.5V212.2M303.16,192.4V201.7M307.63,189.8V200.8M309.87,191.9V201.3M310.99,192.4V200.2M315.46,177.0V181.6M319.93,168.6V177.2M321.05,174.0V184.2M325.52,167.9V174.0M326.63,165.4V179.2M327.75,168.9V179.5M328.87,176.7V185.8M332.22,173.5V175.4M333.34,170.5V179.2M334.46,178.5V187.7M337.81,180.3V188.9M338.93,181.5V186.5M340.04,184.2V190.4M341.16,187.8V197.6M343.40,181.2V198.3M345.63,187.9V196.6M347.87,180.6V189.9M348.99,185.5V200.0M352.34,186.2V201.9M353.46,188.7V205.1M354.57,197.2V199.8M355.69,196.6V206.2M357.93,191.7V203.8M361.28,191.1V201.9M363.51,188.7V201.3M364.63,189.0V199.1M370.22,184.9V192.8M372.46,183.4V187.9M374.69,184.7V189.6M376.93,176.1V194.0M378.04,180.4V187.7M379.16,174.3V188.2M380.28,181.2V205.0M383.63,184.4V196.3M384.75,185.4V195.3M390.34,183.2V192.4M395.92,161.8V181.0M397.04,171.5V180.3M405.98,146.9V150.9M407.10,149.7V157.5M408.22,155.0V160.7M409.34,154.5V163.8M410.45,158.8V173.3M411.57,169.5V175.8M412.69,175.1V182.0M413.81,178.1V185.6M417.16,167.1V187.3M418.28,179.6V190.7M419.39,182.3V204.2M420.51,202.7V207.1M423.86,190.4V198.5M426.10,189.2V197.3M427.22,190.1V199.4M433.92,174.9V187.9M436.16,174.7V184.3M437.28,175.9V195.3M438.39,176.5V189.5M441.75,181.2V191.4M442.86,181.9V192.9M445.10,184.9V199.7M446.22,192.6V199.9M447.33,198.2V205.6M448.45,205.1V206.4M452.92,188.5V207.4M454.04,199.1V208.9M456.28,193.7V213.6M458.51,194.7V207.8M459.63,205.5V213.4M460.75,209.8V221.3M461.86,214.2V220.8M462.98,210.5V233.9M466.33,214.0V236.3M467.45,221.7V242.5M469.69,239.7V248.5M471.92,224.7V248.7M473.04,237.2V258.9M475.27,245.4V253.1M476.39,244.3V256.8M479.74,239.1V246.6M481.98,244.3V252.2M484.22,241.2V251.0M486.45,241.3V250.3M487.57,242.8V249.6M488.69,246.9V250.3M492.04,245.2V249.2M493.16,244.7V250.4M495.39,247.5V261.3M496.51,240.2V263.2M497.63,247.7V259.4M498.74,255.7V257.5M499.86,253.9V261.5M502.10,246.3V261.3M503.21,256.2V266.8M504.33,253.6V266.9M507.68,247.9V265.8M509.92,257.9V268.9M511.04,260.4V292.0M516.63,270.9V275.7M517.74,272.1V282.3M518.86,276.9V286.3M522.21,277.7V286.7M523.33,280.3V288.5M524.45,284.4V294.3M526.68,287.8V290.7M528.92,283.6V294.6M530.04,289.1V300.2M532.27,286.0V303.6M533.39,296.2V307.9M535.62,295.8V314.6M537.86,295.9V308.3M538.98,303.1V310.8M541.21,299.9V309.4M544.57,285.2V300.8M545.68,288.6V301.7M552.39,284.0V293.3M560.21,254.8V258.1M562.45,248.9V256.6M564.68,242.3V251.2M565.80,243.8V255.7M570.27,233.9V248.6M571.39,241.8V253.0M573.62,240.9V249.0M575.86,232.4V243.4M580.33,229.9V242.8M581.45,232.3V246.2M583.68,236.6V247.2M585.92,239.6V250.6M590.39,233.3V247.1M592.62,234.9V242.2M594.86,225.4V241.0M595.98,232.1V243.6M597.09,233.2V244.7M599.33,236.5V250.1M602.68,239.0V241.2M603.80,240.9V252.0M607.15,240.2V246.5M608.27,240.8V257.7M612.74,242.3V251.5M613.86,239.0V248.5M616.09,244.3V258.6M618.33,251.9V266.6M620.56,251.6V269.2M621.68,257.9V270.9M626.15,251.0V265.1M627.27,254.5V263.2M631.74,251.7V264.1M632.86,255.0V261.7M637.33,246.6V253.5M638.44,250.1V261.1M640.68,249.6V255.5M641.80,249.8V258.1M646.27,250.2V255.3M647.38,251.4V257.5M652.97,239.5V256.8M657.44,239.5V243.4M658.56,242.4V245.6M660.80,233.7V240.2M661.91,239.7V249.8M663.03,240.0V247.2M666.38,239.0V259.4M668.62,247.5V261.8M673.09,250.5V258.4M674.21,253.9V257.6M675.32,254.6V260.1M676.44,259.0V261.4M679.80,253.3V263.0M680.91,257.9V264.4M686.50,253.0V258.7M688.74,247.2V257.2M689.85,255.5V261.5M692.09,256.0V269.2M696.56,253.3V268.1M699.91,263.1V264.4M702.15,256.2V264.7M703.26,261.7V267.2M704.38,263.7V268.0M705.50,267.4V270.0M708.85,263.5V265.4M711.09,259.0V263.1M715.56,260.1V261.8M716.68,260.8V264.6M717.79,262.0V265.0M720.03,262.0V266.7M722.26,256.8V268.0M723.38,264.6V269.4M725.62,265.7V266.5M726.73,266.3V267.1M727.85,263.6V273.3M728.97,270.3V276.8M731.20,272.5V274.9M733.44,268.4V271.5M734.56,268.6V278.5M735.68,270.2V276.8M736.79,272.0V282.7M739.03,272.7V282.4M742.38,268.9V282.5M744.62,269.7V283.2M745.73,276.9V286.1M746.85,280.7V297.1M747.97,292.7V304.8M749.09,289.7V329.1M751.32,306.9V320.8M752.44,309.4V321.5M754.67,307.8V321.3M755.79,315.1V339.5M756.91,332.3V340.9M758.03,334.0V349.8M760.26,341.1V347.6M761.38,343.6V347.7M762.50,339.4V355.3M763.62,346.9V356.0M765.85,346.7V360.1M768.09,350.2V361.6M769.20,346.9V362.4M772.56,353.0V375.6M775.91,336.7V371.3M777.03,357.5V363.2M779.26,312.9V344.6M782.61,310.7V329.3M783.73,320.5V335.6M785.97,314.3V337.1M787.08,321.8V330.3M788.20,317.4V329.7M790.44,316.7V349.3M792.67,330.2V341.4M794.91,325.1V346.8M796.03,333.1V354.3M799.38,330.4V348.8M801.61,331.1V344.4M803.85,334.2V354.6M806.08,333.3V354.2M808.32,338.8V357.7M809.44,339.4V360.7M810.55,348.9V356.6M811.67,348.5V367.1M813.91,348.0V359.0M815.02,354.5V359.2M819.50,346.5V358.8M820.61,351.8V362.1M822.85,351.1V366.6M823.97,352.8V368.1M826.20,365.0V366.2M828.44,356.2V359.8M829.55,354.5V365.2M831.79,357.2V373.1M832.91,368.6V376.2M834.02,370.2V379.5M838.49,367.1V379.9M840.73,361.9V369.5M841.85,367.2V379.7M848.55,342.1V346.2M850.79,339.2V348.0M851.91,345.7V347.4M853.02,338.8V349.5M855.26,334.7V348.2M857.49,331.0V347.7M859.73,335.9V352.6M860.85,343.6V349.9M861.96,340.7V356.5M864.20,347.6V359.2M866.43,351.4V362.9M867.55,353.9V359.0M868.67,351.9V369.5M870.90,362.9V373.7M873.14,356.5V384.2M874.26,374.5V383.9M875.38,370.4V382.4M877.61,361.9V384.1M879.85,372.7V388.6M880.96,380.5V388.6M882.08,385.4V393.5M883.20,384.0V399.2M884.32,388.0V405.0M887.67,391.7V399.2M889.90,385.4V396.7" stroke="#dcc4c4"/>
</g>
<g stroke-width="1.25" fill="none">
<path d="M7.00,256.0V257.5M10.35,260.7V263.1M11.47,249.1V260.7M13.71,250.4V255.8M14.82,249.7V250.5M18.18,251.5V254.7M19.29,249.7V251.5M21.53,248.7V250.2M23.76,248.5V254.1M26.00,251.0V252.3M30.47,257.7V263.2M32.70,251.8V264.8M33.82,246.7V251.8M40.53,254.3V265.9M42.76,254.1V256.4M45.00,268.4V269.2M47.23,266.0V274.0M49.47,269.6V272.6M50.59,267.7V269.6M51.70,264.7V267.7M58.41,273.1V275.3M60.64,269.8V276.4M64.00,272.4V274.5M65.12,272.1V272.9M66.23,266.3V272.1M67.35,265.0V266.3M69.59,262.9V268.6M71.82,263.4V264.2M72.94,251.6V263.4M75.17,252.3V255.3M77.41,241.5V263.1M78.53,236.1V241.5M79.64,233.0V236.1M80.76,219.5V233.0M81.88,209.8V219.5M84.11,205.7V212.5M86.35,207.0V212.0M87.47,206.2V207.0M88.58,203.3V206.2M90.82,193.7V205.1M93.06,181.1V195.4M94.17,174.1V181.1M95.29,159.5V174.1M96.41,149.3V159.5M97.53,149.0V149.8M98.64,127.6V149.0M99.76,120.7V127.6M102.00,119.0V120.8M105.35,115.1V128.7M108.70,114.3V119.7M109.82,113.0V114.3M110.94,113.0V113.8M112.05,106.5V113.0M114.29,105.8V114.8M121.00,120.1V122.6M123.23,125.4V128.8M124.35,125.3V126.1M125.47,120.4V125.3M126.58,118.0V120.4M127.70,114.6V118.0M128.82,114.1V114.9M132.17,115.9V123.1M134.41,119.8V124.6M141.11,147.1V156.6M142.23,146.8V147.6M144.46,144.1V147.0M145.58,138.2V144.1M147.82,138.5V139.3M148.94,133.2V138.5M151.17,135.6V138.4M152.29,134.5V135.6M153.41,131.9V134.5M158.99,142.0V143.3M161.23,142.4V144.5M163.46,145.1V151.6M165.70,145.5V146.7M167.93,145.5V147.8M169.05,144.0V145.5M170.17,143.2V144.0M171.29,136.9V143.2M173.52,140.4V141.2M175.76,138.0V144.3M176.88,130.4V138.0M179.11,133.5V134.4M180.23,129.5V133.5M183.58,138.6V142.3M184.70,137.8V138.6M185.82,136.9V137.8M186.93,136.2V137.0M189.17,135.4V137.1M190.29,131.5V135.4M195.87,145.8V146.6M196.99,140.5V145.8M200.34,156.0V158.9M201.46,154.3V156.0M207.05,170.1V175.7M209.29,176.0V176.8M210.40,173.2V176.0M213.76,180.6V186.2M215.99,184.0V186.1M219.34,185.2V190.9M221.58,180.4V185.5M222.70,178.7V180.4M233.87,199.9V210.5M237.23,201.5V203.0M238.34,196.5V201.5M240.58,199.6V200.4M241.70,199.3V200.1M242.81,195.0V199.3M245.05,195.3V201.8M247.28,192.1V197.3M249.52,188.4V195.5M250.64,186.3V188.4M252.87,188.7V190.3M255.11,193.9V194.7M262.93,211.7V213.3M266.28,220.8V222.4M267.40,217.0V220.8M271.87,234.9V235.7M272.99,232.9V234.9M275.22,237.2V248.3M276.34,226.6V237.2M279.69,233.6V236.0M280.81,221.4V233.6M284.16,225.6V228.0M285.28,221.7V225.6M286.40,220.6V221.7M287.52,212.3V220.6M289.75,206.4V213.4M290.87,203.7V206.4M291.99,201.2V203.7M294.22,203.1V203.9M295.34,200.6V203.1M297.58,203.4V205.7M299.81,207.4V208.2M300.93,204.5V207.4M302.05,199.9V204.5M304.28,200.7V201.5M305.40,190.9V200.7M306.52,190.6V191.4M308.75,193.4V195.3M312.10,186.4V200.0M313.22,186.0V186.8M314.34,181.1V186.0M316.58,173.1V181.3M317.69,171.9V173.1M318.81,171.8V172.6M322.16,174.6V180.7M323.28,174.4V175.2M324.40,167.9V174.4M329.99,176.4V180.4M331.10,173.9V176.4M335.57,183.9V186.2M336.69,182.3V183.9M342.28,187.6V192.7M344.52,187.9V191.9M346.75,183.0V189.9M350.10,192.8V194.0M351.22,189.3V192.8M356.81,198.3V206.1M359.04,197.8V203.3M360.16,192.0V197.8M362.40,193.8V199.7M365.75,197.0V199.1M366.87,190.6V197.0M367.98,188.3V190.6M369.10,184.9V188.3M371.34,186.2V189.4M373.57,185.0V187.2M375.81,184.5V186.3M381.40,184.0V200.0M382.51,182.9V184.0M385.87,194.2V195.0M386.98,192.6V194.2M388.10,188.2V192.6M389.22,183.8V188.2M391.45,179.1V184.3M392.57,169.6V179.1M393.69,169.2V170.0M394.81,166.6V169.2M398.16,175.7V178.9M399.28,167.3V175.7M400.40,163.0V167.3M401.51,158.7V163.0M402.63,150.9V158.7M403.75,149.2V150.9M404.87,147.4V149.2M414.92,176.4V184.4M416.04,175.8V176.6M421.63,199.4V204.5M422.75,196.1V199.4M424.98,192.9V198.0M428.34,193.6V197.7M429.45,191.0V193.6M430.57,191.0V191.8M431.69,185.6V191.0M432.81,176.4V185.6M435.04,176.2V182.1M439.51,185.0V187.5M440.63,184.1V185.0M443.98,185.0V187.6M449.57,198.8V206.3M450.69,191.6V198.8M451.80,188.7V191.6M455.16,198.5V208.0M457.39,200.1V206.5M464.10,227.8V228.6M465.22,220.3V227.8M468.57,239.7V241.3M470.80,224.6V243.0M474.16,245.7V248.2M477.51,251.5V252.7M478.63,244.9V251.5M480.86,245.8V246.6M483.10,245.2V246.8M485.33,244.4V247.8M489.80,248.4V249.2M490.92,246.1V248.4M494.27,247.9V249.8M500.98,250.9V261.5M505.45,255.6V264.4M506.57,255.4V256.2M508.80,258.2V260.4M512.16,283.6V284.4M513.27,280.6V283.6M514.39,276.7V280.6M515.51,270.9V276.7M519.98,281.4V283.7M521.10,279.1V281.4M525.57,287.9V289.9M527.80,284.4V288.9M531.15,292.4V294.7M534.51,303.5V304.3M536.74,304.6V312.7M540.10,301.4V309.3M542.33,301.7V308.1M543.45,292.2V301.7M546.80,294.7V297.8M547.92,289.8V294.7M549.04,286.5V289.8M550.15,286.1V286.9M551.27,284.6V286.1M553.51,276.7V287.8M554.62,269.4V276.7M555.74,262.1V269.4M556.86,257.8V262.1M557.98,257.6V258.4M559.09,257.4V258.2M561.33,248.9V257.6M563.56,244.4V249.5M566.92,249.5V250.9M568.04,244.6V249.5M569.15,236.7V244.6M572.51,241.8V245.0M574.74,238.6V246.3M576.98,235.9V241.3M578.09,235.4V236.2M579.21,233.3V235.4M582.56,242.7V243.5M584.80,243.0V243.9M587.03,243.1V247.1M588.15,243.1V243.9M589.27,239.3V243.1M591.50,239.2V240.0M593.74,230.4V240.8M598.21,240.1V240.9M600.45,241.5V243.3M601.56,239.4V241.5M604.92,245.3V247.1M606.03,245.3V246.1M609.39,252.1V252.9M610.50,245.3V252.1M611.62,242.3V245.3M614.97,247.7V248.5M617.21,252.5V258.5M619.44,254.0V259.4M622.80,262.3V269.3M623.92,260.1V262.3M625.03,253.8V260.1M628.39,252.5V257.8M629.50,251.9V252.7M630.62,251.7V252.5M633.97,252.3V260.7M635.09,251.6V252.4M636.21,248.1V251.6M639.56,253.7V257.9M642.91,257.2V258.0M644.03,256.7V257.5M645.15,251.5V256.7M648.50,252.8V255.4M649.62,251.3V252.8M650.74,249.5V251.3M651.86,245.7V249.5M654.09,252.1V255.3M655.21,247.8V252.1M656.33,240.3V247.8M659.68,237.8V245.5M664.15,240.4V243.3M665.27,239.4V240.4M667.50,253.7V259.4M669.74,254.3V261.7M670.85,250.3V254.3M671.97,249.9V250.7M677.56,259.5V261.1M678.68,257.9V259.5M682.03,262.2V263.0M683.15,261.1V262.2M684.27,258.0V261.1M685.38,253.3V258.0M687.62,251.4V253.7M690.97,256.1V259.2M693.21,261.4V264.8M694.32,259.3V261.4M695.44,253.5V259.3M697.68,265.5V266.9M698.79,263.4V265.5M701.03,261.4V264.4M706.62,265.2V269.8M707.74,263.9V265.2M709.97,261.9V265.3M712.21,261.6V262.4M713.32,261.2V262.0M714.44,260.9V261.7M718.91,262.8V263.7M721.15,260.0V264.2M724.50,266.1V267.5M730.09,272.5V274.6M732.32,269.9V274.7M737.91,274.2V278.4M740.15,276.7V277.5M741.26,273.6V276.7M743.50,270.5V277.4M750.20,315.4V321.2M753.56,307.6V319.2M759.14,342.7V346.4M764.73,351.1V351.9M766.97,352.8V357.1M770.32,358.9V361.0M771.44,354.0V358.9M773.67,371.2V375.4M774.79,355.2V371.2M778.14,330.3V359.0M780.38,330.2V336.0M781.50,316.7V330.2M784.85,316.3V329.7M789.32,326.0V327.5M791.56,330.9V338.1M793.79,335.3V336.1M797.14,341.1V343.1M798.26,335.2V341.1M800.50,333.6V336.6M802.73,334.6V339.0M804.97,343.8V352.0M807.20,343.0V350.4M812.79,351.8V360.3M816.14,352.3V358.4M817.26,349.7V352.3M818.38,346.5V349.7M821.73,354.9V361.3M825.08,365.3V366.1M827.32,356.4V365.6M830.67,361.1V363.4M835.14,375.8V377.9M836.26,371.6V375.8M837.38,371.3V372.1M839.61,367.0V371.5M842.96,365.0V373.2M844.08,359.9V365.0M845.20,356.7V359.9M846.32,347.9V356.7M847.44,344.4V347.9M849.67,344.6V345.4M854.14,336.6V349.0M856.38,334.3V342.4M858.61,344.1V346.7M863.08,350.1V356.1M865.32,352.2V353.6M869.79,363.4V365.5M872.02,366.4V367.2M876.49,371.5V379.8M878.73,380.3V381.5M885.43,398.9V399.7M886.55,393.6V398.9M888.79,385.7V399.1M891.02,386.8V390.3" stroke="#d4e0dc"/>
<path d="M8.12,256.0V259.1M9.24,259.1V263.1M12.59,249.1V255.8M15.94,249.7V252.9M17.06,252.9V254.7M20.41,249.7V250.5M22.65,248.7V254.1M24.88,248.5V252.3M27.12,251.0V257.7M28.23,257.7V262.5M29.35,262.5V263.3M31.59,257.7V264.8M34.94,246.7V247.5M36.06,246.9V257.5M37.18,257.5V260.3M38.29,260.3V263.6M39.41,263.6V265.9M41.65,254.3V256.4M43.88,254.1V269.1M46.12,268.4V274.0M48.35,266.0V272.6M52.82,264.7V270.6M53.94,270.6V271.4M55.06,271.0V273.3M56.17,273.3V275.2M57.29,275.2V276.0M59.53,273.1V276.4M61.76,269.8V272.7M62.88,272.7V274.5M68.47,265.0V268.6M70.70,262.9V263.8M74.06,251.6V255.3M76.29,252.3V263.1M83.00,209.8V212.5M85.23,205.7V212.0M89.70,203.3V205.1M91.94,193.7V195.4M100.88,120.7V121.5M103.11,119.0V123.9M104.23,123.9V128.7M106.47,115.1V115.9M107.58,115.4V119.7M113.17,106.5V114.8M115.41,105.8V107.6M116.52,107.6V115.8M117.64,115.8V116.7M118.76,116.7V119.6M119.88,119.6V122.6M122.11,120.1V128.8M129.94,114.1V120.3M131.05,120.3V123.1M133.29,115.9V124.6M135.52,119.8V121.1M136.64,121.1V136.0M137.76,136.0V142.8M138.88,142.8V154.4M139.99,154.4V156.6M143.35,146.8V147.6M146.70,138.2V139.0M150.05,133.2V138.4M154.52,131.9V134.2M155.64,134.2V140.0M156.76,140.0V140.8M157.88,140.8V143.3M160.11,142.0V144.5M162.35,142.4V151.6M164.58,145.1V146.7M166.82,145.5V147.8M172.40,136.9V141.1M174.64,140.4V144.3M177.99,130.4V134.4M181.35,129.5V139.5M182.46,139.5V142.3M188.05,136.2V137.1M191.40,131.5V137.3M192.52,137.3V141.3M193.64,141.3V144.1M194.76,144.1V146.2M198.11,140.5V144.8M199.23,144.8V158.9M202.58,154.3V159.7M203.70,159.7V165.9M204.82,165.9V171.0M205.93,171.0V175.7M208.17,170.1V176.8M211.52,173.2V182.6M212.64,182.6V186.2M214.87,180.6V186.1M217.11,184.0V189.4M218.23,189.4V190.9M220.46,185.2V186.0M223.81,178.7V185.1M224.93,185.1V185.9M226.05,185.3V192.4M227.17,192.4V193.9M228.28,193.9V199.4M229.40,199.4V200.2M230.52,199.6V201.6M231.64,201.6V203.2M232.76,203.2V210.5M234.99,199.9V200.7M236.11,200.5V203.0M239.46,196.5V200.1M243.93,195.0V201.8M246.17,195.3V197.3M248.40,192.1V195.5M251.75,186.3V190.3M253.99,188.7V194.2M256.22,193.9V194.8M257.34,194.8V200.4M258.46,200.4V203.9M259.58,203.9V205.2M260.70,205.2V207.0M261.81,207.0V213.3M264.05,211.7V216.6M265.17,216.6V222.4M268.52,217.0V223.9M269.64,223.9V226.1M270.75,226.1V235.2M274.11,232.9V248.3M277.46,226.6V233.2M278.58,233.2V236.0M281.93,221.4V225.6M283.05,225.6V228.0M288.64,212.3V213.4M293.11,201.2V203.5M296.46,200.6V205.7M298.69,203.4V207.6M303.16,199.9V201.1M307.63,190.6V195.3M309.87,193.4V194.2M310.99,193.5V200.0M315.46,181.1V181.9M319.93,171.8V175.8M321.05,175.8V180.7M325.52,167.9V172.8M326.63,172.8V175.8M327.75,175.8V177.8M328.87,177.8V180.4M332.22,173.9V174.7M333.34,174.7V178.5M334.46,178.5V186.2M337.81,182.3V185.6M338.93,185.6V186.4M340.04,186.3V189.2M341.16,189.2V192.7M343.40,187.6V191.9M345.63,187.9V189.9M347.87,183.0V189.4M348.99,189.4V194.0M352.34,189.3V194.7M353.46,194.7V198.0M354.57,198.0V199.5M355.69,199.5V206.1M357.93,198.3V203.3M361.28,192.0V199.7M363.51,193.8V194.6M364.63,194.2V199.1M370.22,184.9V189.4M372.46,186.2V187.2M374.69,185.0V186.3M376.93,184.5V185.3M378.04,184.8V185.6M379.16,184.8V187.6M380.28,187.6V200.0M383.63,182.9V189.9M384.75,189.9V194.8M390.34,183.8V184.6M395.92,166.6V178.6M397.04,178.6V179.4M405.98,147.4V149.7M407.10,149.7V155.3M408.22,155.3V158.6M409.34,158.6V163.0M410.45,163.0V170.5M411.57,170.5V175.4M412.69,175.4V180.5M413.81,180.5V184.4M417.16,175.8V179.8M418.28,179.8V185.7M419.39,185.7V202.7M420.51,202.7V204.5M423.86,196.1V198.0M426.10,192.9V194.1M427.22,194.1V197.7M433.92,176.4V182.1M436.16,176.2V182.9M437.28,182.9V185.2M438.39,185.2V187.5M441.75,184.1V184.9M442.86,184.4V187.6M445.10,185.0V193.0M446.22,193.0V199.9M447.33,199.9V205.1M448.45,205.1V206.3M452.92,188.7V199.5M454.04,199.5V208.0M456.28,198.5V206.5M458.51,200.1V207.0M459.63,207.0V211.1M460.75,211.1V216.3M461.86,216.3V219.1M462.98,219.1V228.6M466.33,220.3V234.7M467.45,234.7V241.3M469.69,239.7V243.0M471.92,224.6V238.8M473.04,238.8V248.2M475.27,245.7V248.7M476.39,248.7V252.7M479.74,244.9V246.5M481.98,245.8V246.8M484.22,245.2V247.8M486.45,244.4V246.6M487.57,246.6V247.4M488.69,247.1V248.6M492.04,246.1V247.9M493.16,247.9V249.8M495.39,247.9V251.4M496.51,251.4V255.0M497.63,255.0V256.1M498.74,256.1V256.9M499.86,256.4V261.5M502.10,250.9V258.4M503.21,258.4V261.3M504.33,261.3V264.4M507.68,255.4V260.4M509.92,258.2V265.7M511.04,265.7V284.1M516.63,270.9V272.2M517.74,272.2V277.1M518.86,277.1V283.7M522.21,279.1V281.7M523.33,281.7V284.7M524.45,284.7V289.9M526.68,287.9V288.9M528.92,284.4V289.9M530.04,289.9V294.7M532.27,292.4V299.1M533.39,299.1V304.0M535.62,303.5V312.7M537.86,304.6V305.9M538.98,305.9V309.3M541.21,301.4V308.1M544.57,292.2V294.6M545.68,294.6V297.8M552.39,284.6V287.8M560.21,257.4V258.2M562.45,248.9V249.7M564.68,244.4V248.7M565.80,248.7V250.9M570.27,236.7V243.7M571.39,243.7V245.0M573.62,241.8V246.3M575.86,238.6V241.3M580.33,233.3V238.0M581.45,238.0V243.4M583.68,242.7V243.9M585.92,243.0V247.1M590.39,239.3V240.1M592.62,239.2V240.8M594.86,230.4V232.2M595.98,232.2V239.7M597.09,239.7V240.9M599.33,240.1V243.3M602.68,239.4V241.2M603.80,241.2V247.1M607.15,245.3V246.1M608.27,245.9V252.8M612.74,242.3V246.4M613.86,246.4V248.3M616.09,247.7V258.5M618.33,252.5V259.4M620.56,254.0V262.2M621.68,262.2V269.3M626.15,253.8V256.8M627.27,256.8V257.8M631.74,251.7V258.2M632.86,258.2V260.7M637.33,248.1V252.8M638.44,252.8V257.9M640.68,253.7V254.5M641.80,253.8V257.4M646.27,251.5V252.9M647.38,252.9V255.4M652.97,245.7V255.3M657.44,240.3V242.7M658.56,242.7V245.5M660.80,237.8V240.1M661.91,240.1V241.2M663.03,241.2V243.3M666.38,239.4V259.4M668.62,253.7V261.7M673.09,249.9V254.1M674.21,254.1V256.5M675.32,256.5V259.7M676.44,259.7V261.1M679.80,257.9V258.7M680.91,258.2V262.9M686.50,253.3V254.1M688.74,251.4V255.9M689.85,255.9V259.2M692.09,256.1V264.8M696.56,253.5V266.9M699.91,263.4V264.4M702.15,261.4V264.1M703.26,264.1V266.9M704.38,266.9V267.7M705.50,267.5V269.8M708.85,263.9V265.3M711.09,261.9V262.7M715.56,260.9V261.7M716.68,261.6V263.0M717.79,263.0V263.8M720.03,262.8V264.2M722.26,260.0V266.4M723.38,266.4V267.5M725.62,266.1V266.9M726.73,266.3V267.1M727.85,267.0V272.8M728.97,272.8V274.6M731.20,272.5V274.7M733.44,269.9V271.2M734.56,271.2V273.9M735.68,273.9V276.4M736.79,276.4V278.4M739.03,274.2V276.8M742.38,273.6V277.4M744.62,270.5V281.4M745.73,281.4V284.2M746.85,284.2V292.8M747.97,292.8V304.0M749.09,304.0V321.2M751.32,315.4V318.5M752.44,318.5V319.3M754.67,307.6V317.3M755.79,317.3V332.8M756.91,332.8V335.5M758.03,335.5V346.4M760.26,342.7V345.1M761.38,345.1V346.6M762.50,346.6V350.8M763.62,350.8V351.6M765.85,351.1V357.1M768.09,352.8V356.6M769.20,356.6V361.0M772.56,354.0V375.4M775.91,355.2V358.8M777.03,358.8V359.6M779.26,330.3V336.0M782.61,316.7V329.3M783.73,329.3V330.1M785.97,316.3V326.0M787.08,326.0V326.8M788.20,326.1V327.5M790.44,326.0V338.1M792.67,330.9V335.4M794.91,335.3V336.7M796.03,336.7V343.1M799.38,335.2V336.6M801.61,333.6V339.0M803.85,334.6V352.0M806.08,343.8V350.4M808.32,343.0V349.7M809.44,349.7V352.7M810.55,352.7V356.2M811.67,356.2V360.3M813.91,351.8V355.3M815.02,355.3V358.4M819.50,346.5V357.1M820.61,357.1V361.3M822.85,354.9V356.9M823.97,356.9V365.6M826.20,365.3V366.1M828.44,356.4V359.8M829.55,359.8V363.4M831.79,361.1V371.3M832.91,371.3V374.1M834.02,374.1V377.9M838.49,371.3V372.1M840.73,367.0V368.6M841.85,368.6V373.2M848.55,344.4V345.2M850.79,344.6V346.0M851.91,346.0V346.8M853.02,346.1V349.0M855.26,336.6V342.4M857.49,334.3V346.7M859.73,344.1V348.3M860.85,348.3V349.1M861.96,348.9V356.1M864.20,350.1V353.6M866.43,352.2V354.3M867.55,354.3V355.1M868.67,354.3V365.5M870.90,363.4V366.7M873.14,366.4V374.6M874.26,374.6V377.1M875.38,377.1V379.8M877.61,371.5V381.5M879.85,380.3V381.3M880.96,381.3V387.5M882.08,387.5V390.6M883.20,390.6V398.2M884.32,398.2V399.3M887.67,393.6V399.1M889.90,385.7V390.3" stroke="#e0c6c6"/>
</g>
<path d="M7,388.1H995.5V420.3H7" stroke="#e85656" stroke-width="1.1" fill="none"/>
<path d="M54,82 L963,308.5" stroke="#f7a21b" stroke-width="2" fill="none"/>
<path d="M891,388.5H1229" stroke="#9a9a9a" stroke-width="1" stroke-dasharray="1,2"/>
</g>
<g font-size="8.4" fill="#dcdcdc">
<text x="11.5" y="29.6" textLength="354" lengthAdjust="spacingAndGlyphs">Fetch.AI / TetherUS · 1D · Binance&#160;&#160;O0.1811&#160;&#160;H0.1821&#160;&#160;L0.1748&#160;&#160;C0.1749&#160;&#160;&#8722;0.0062 (&#8722;3.42%)&#160;&#160;Vol20.77&#8202;M</text>
<text x="11.5" y="40.3" textLength="157.3" lengthAdjust="spacingAndGlyphs">Bollinger Bands Pro : Hawk-Eye (by ImanPJN)</text>
</g>
<!-- rsi pane -->
<g clip-path="url(#rsi)">
<rect x="7" y="546.5" width="1222" height="44" fill="#0f0c19"/>
<g stroke="#706e7c" stroke-width="1.2" stroke-dasharray="3.6,3.18"><path d="M7,546.5H1229M7,568.5H1229M7,590.5H1229"/></g>
<path d="M74.7,546.5 L74.7,546.5 L75.8,544.3 L76.9,542.1 L78.1,535.0 L79.2,531.8 L80.3,530.4 L81.4,536.5 L82.5,533.2 L83.7,541.9 L84.8,541.9 L85.9,537.9 L87.0,537.2 L88.1,534.5 L89.3,535.6 L90.4,529.4 L91.5,527.3 L92.6,530.4 L93.7,533.8 L94.9,532.2 L96.0,527.9 L97.1,529.5 L98.2,520.6 L99.3,515.7 L100.5,525.3 L101.6,530.8 L102.7,536.0 L103.8,538.1 L104.9,540.8 L106.1,544.4 L107.2,546.5 L107.2,546.5Z" fill="url(#ob)"/><path d="M745.6,590.5 L745.6,590.5 L746.7,590.8 L747.8,599.1 L748.9,596.3 L750.1,597.3 L751.2,595.2 L752.3,595.5 L753.4,597.2 L754.5,596.3 L755.7,600.2 L756.8,598.5 L757.9,600.9 L759.0,597.0 L760.1,594.2 L761.3,593.9 L762.4,592.4 L763.5,590.5 L764.6,590.5 L764.6,590.5Z" fill="url(#os)"/>
<path d="M7.5,547.7 L8.6,548.9 L9.7,544.7 L10.9,546.6 L12.0,547.3 L13.1,549.8 L14.2,556.2 L15.3,556.5 L16.5,557.8 L17.6,561.1 L18.7,564.1 L19.8,562.2 L20.9,562.0 L22.1,558.7 L23.2,561.3 L24.3,563.4 L25.4,564.0 L26.5,565.1 L27.7,566.2 L28.8,569.9 L29.9,571.9 L31.0,570.1 L32.1,568.9 L33.3,564.7 L34.4,564.5 L35.5,564.9 L36.6,567.3 L37.7,566.1 L38.9,567.7 L40.0,566.4 L41.1,570.4 L42.2,570.0 L43.3,572.9 L44.5,579.4 L45.6,576.7 L46.7,580.7 L47.8,579.3 L48.9,576.8 L50.1,576.4 L51.2,575.3 L52.3,574.7 L53.4,573.9 L54.5,574.6 L55.7,576.0 L56.8,577.0 L57.9,579.5 L59.0,578.3 L60.1,581.1 L61.3,576.5 L62.4,576.8 L63.5,577.0 L64.6,573.0 L65.7,575.7 L66.9,566.0 L68.0,565.1 L69.1,562.4 L70.2,563.3 L71.3,555.0 L72.5,556.4 L73.6,550.9 L74.7,548.3 L75.8,544.3 L76.9,542.1 L78.1,535.0 L79.2,531.8 L80.3,530.4 L81.4,536.5 L82.5,533.2 L83.7,541.9 L84.8,541.9 L85.9,537.9 L87.0,537.2 L88.1,534.5 L89.3,535.6 L90.4,529.4 L91.5,527.3 L92.6,530.4 L93.7,533.8 L94.9,532.2 L96.0,527.9 L97.1,529.5 L98.2,520.6 L99.3,515.7 L100.5,525.3 L101.6,530.8 L102.7,536.0 L103.8,538.1 L104.9,540.8 L106.1,544.4 L107.2,548.4 L108.3,549.9 L109.4,553.6 L110.5,561.5 L111.7,561.9 L112.8,559.7 L113.9,565.5 L115.0,564.5 L116.1,559.1 L117.3,554.7 L118.4,554.1 L119.5,549.9 L120.6,546.4 L121.7,546.7 L122.9,550.8 L124.0,556.6 L125.1,557.3 L126.2,558.0 L127.3,564.0 L128.5,566.4 L129.6,568.7 L130.7,569.1 L131.8,566.5 L132.9,565.6 L134.1,565.3 L135.2,563.8 L136.3,571.4 L137.4,578.1 L138.5,581.3 L139.7,581.4 L140.8,579.8 L141.9,577.4 L143.0,575.8 L144.1,575.1 L145.3,572.9 L146.4,571.4 L147.5,567.6 L148.6,568.5 L149.7,566.6 L150.9,565.7 L152.0,565.5 L153.1,571.1 L154.2,575.8 L155.3,575.3 L156.5,575.7 L157.6,573.7 L158.7,573.8 L159.8,569.7 L160.9,570.6 L162.1,567.0 L163.2,566.9 L164.3,564.8 L165.4,565.9 L166.5,565.5 L167.7,568.1 L168.8,570.8 L169.9,574.3 L171.0,575.8 L172.1,575.9 L173.3,576.1 L174.4,574.6 L175.5,570.1 L176.6,566.5 L177.7,563.7 L178.9,563.3 L180.0,560.8 L181.1,556.3 L182.2,560.2 L183.3,561.2 L184.5,562.6 L185.6,568.0 L186.7,569.5 L187.8,567.9 L188.9,569.9 L190.1,571.9 L191.2,571.3 L192.3,572.9 L193.4,575.5 L194.5,572.8 L195.7,577.1 L196.8,579.7 L197.9,581.0 L199.0,579.2 L200.1,583.0 L201.3,584.2 L202.4,589.1 L203.5,592.4 L204.6,594.7 L205.7,592.0 L206.9,589.1 L208.0,588.8 L209.1,584.0 L210.2,589.4 L211.3,593.3 L212.5,595.6 L213.6,593.5 L214.7,583.7 L215.8,579.9 L216.9,570.6 L218.1,566.9 L219.2,570.1 L220.3,568.5 L221.4,567.2 L222.5,571.2 L223.7,572.0 L224.8,577.5 L225.9,577.9 L227.0,579.2 L228.1,581.3 L229.3,580.4 L230.4,580.7 L231.5,579.0 L232.6,578.9 L233.7,578.7 L234.9,577.0 L236.0,578.3 L237.1,574.0 L238.2,576.9 L239.3,571.6 L240.5,572.7 L241.6,568.0 L242.7,569.5 L243.8,565.5 L244.9,563.4 L246.1,564.2 L247.2,562.4 L248.3,561.6 L249.4,560.0 L250.5,566.5 L251.7,566.7 L252.8,568.9 L253.9,572.3 L255.0,578.3 L256.1,573.9 L257.3,577.2 L258.4,577.7 L259.5,580.3 L260.6,578.6 L261.7,583.1 L262.9,588.3 L264.0,592.8 L265.1,596.0 L266.2,593.8 L267.3,592.4 L268.5,590.1 L269.6,585.7 L270.7,583.0 L271.8,584.5 L272.9,583.0 L274.1,582.2 L275.2,584.2 L276.3,580.8 L277.4,581.7 L278.5,578.8 L279.7,576.1 L280.8,574.6 L281.9,571.8 L283.0,568.2 L284.1,563.2 L285.3,561.0 L286.4,552.7 L287.5,549.3 L288.6,551.7 L289.7,552.8 L290.9,557.2 L292.0,557.5 L293.1,562.5 L294.2,561.3 L295.3,562.7 L296.5,565.6 L297.6,568.3 L298.7,570.1 L299.8,571.6 L300.9,567.8 L302.1,563.6 L303.2,563.2 L304.3,560.6 L305.4,555.9 L306.5,556.1 L307.7,553.2 L308.8,552.0 L309.9,554.8 L311.0,553.1 L312.1,553.8 L313.3,553.8 L314.4,548.7 L315.5,549.0 L316.6,546.0 L317.7,548.0 L318.9,545.1 L320.0,545.1 L321.1,541.6 L322.2,544.1 L323.3,547.7 L324.5,548.5 L325.6,546.5 L326.7,553.0 L327.8,556.4 L328.9,557.1 L330.1,563.6 L331.2,564.0 L332.3,568.9 L333.4,571.6 L334.5,572.1 L335.7,572.0 L336.8,567.7 L337.9,567.8 L339.0,573.7 L340.1,573.1 L341.3,571.5 L342.4,566.5 L343.5,566.8 L344.6,566.3 L345.7,567.0 L346.9,567.1 L348.0,568.1 L349.1,568.6 L350.2,570.9 L351.3,572.8 L352.5,575.0 L353.6,575.4 L354.7,581.0 L355.8,580.8 L356.9,581.2 L358.1,579.7 L359.2,574.3 L360.3,570.5 L361.4,574.8 L362.5,574.9 L363.7,577.3 L364.8,578.8 L365.9,581.3 L367.0,581.2 L368.1,580.4 L369.3,574.6 L370.4,570.0 L371.5,560.8 L372.6,560.3 L373.7,558.0 L374.9,552.1 L376.0,550.7 L377.1,557.7 L378.2,564.6 L379.3,569.4 L380.5,574.3 L381.6,571.0 L382.7,567.4 L383.8,566.1 L384.9,567.0 L386.1,563.3 L387.2,563.6 L388.3,562.4 L389.4,559.9 L390.5,558.6 L391.7,554.8 L392.8,552.9 L393.9,550.0 L395.0,547.9 L396.1,544.5 L397.3,545.6 L398.4,544.6 L399.5,543.6 L400.6,545.7 L401.7,546.4 L402.9,544.9 L404.0,547.2 L405.1,551.0 L406.2,555.1 L407.3,556.3 L408.5,556.1 L409.6,560.6 L410.7,562.3 L411.8,564.5 L412.9,566.2 L414.1,570.6 L415.2,571.2 L416.3,575.4 L417.4,576.0 L418.5,574.0 L419.7,577.4 L420.8,582.0 L421.9,578.2 L423.0,581.7 L424.1,578.5 L425.3,577.4 L426.4,577.0 L427.5,576.3 L428.6,573.1 L429.7,573.2 L430.9,572.7 L432.0,572.2 L433.1,567.8 L434.2,569.0 L435.3,568.1 L436.5,566.9 L437.6,558.9 L438.7,563.4 L439.8,563.3 L440.9,569.6 L442.1,573.7 L443.2,571.9 L444.3,570.0 L445.4,572.2 L446.5,572.9 L447.7,570.1 L448.8,570.0 L449.9,565.6 L451.0,569.4 L452.1,573.0 L453.3,575.1 L454.4,579.3 L455.5,576.4 L456.6,574.5 L457.7,579.3 L458.9,579.1 L460.0,581.1 L461.1,582.8 L462.2,583.6 L463.3,586.0 L464.5,587.3 L465.6,583.3 L466.7,586.1 L467.8,591.1 L468.9,588.9 L470.1,591.7 L471.2,591.4 L472.3,591.6 L473.4,594.1 L474.5,592.7 L475.7,589.4 L476.8,589.8 L477.9,585.2 L479.0,584.4 L480.1,586.1 L481.3,584.6 L482.4,581.8 L483.5,583.3 L484.6,582.9 L485.7,583.9 L486.9,583.0 L488.0,580.2 L489.1,578.7 L490.2,578.9 L491.3,580.1 L492.5,584.3 L493.6,586.5 L494.7,587.6 L495.8,584.4 L496.9,580.6 L498.1,579.8 L499.2,575.5 L500.3,574.8 L501.4,573.3 L502.5,576.5 L503.7,581.6 L504.8,579.7 L505.9,579.9 L507.0,583.5 L508.1,587.2 L509.3,586.8 L510.4,583.1 L511.5,581.5 L512.6,581.2 L513.7,579.2 L514.9,579.8 L516.0,578.6 L517.1,575.5 L518.2,575.6 L519.3,575.4 L520.5,573.5 L521.6,571.9 L522.7,574.2 L523.8,575.5 L524.9,571.3 L526.1,572.2 L527.2,575.6 L528.3,576.7 L529.4,577.6 L530.5,582.6 L531.7,580.3 L532.8,581.3 L533.9,582.5 L535.0,583.2 L536.1,585.4 L537.3,588.1 L538.4,588.6 L539.5,585.7 L540.6,582.6 L541.7,578.2 L542.9,577.5 L544.0,573.2 L545.1,571.2 L546.2,570.1 L547.3,566.1 L548.5,562.7 L549.6,559.1 L550.7,557.7 L551.8,555.6 L552.9,551.4 L554.1,549.2 L555.2,549.1 L556.3,542.7 L557.4,541.4 L558.5,538.8 L559.7,541.6 L560.8,539.3 L561.9,540.7 L563.0,543.1 L564.1,545.4 L565.3,548.0 L566.4,547.3 L567.5,552.4 L568.6,556.2 L569.7,555.7 L570.9,561.6 L572.0,558.4 L573.1,550.3 L574.2,546.9 L575.3,542.9 L576.5,541.5 L577.6,546.7 L578.7,547.9 L579.8,552.8 L580.9,557.6 L582.1,562.3 L583.2,563.2 L584.3,563.1 L585.4,565.1 L586.5,561.4 L587.7,565.6 L588.8,561.8 L589.9,557.5 L591.0,556.0 L592.1,552.0 L593.3,553.7 L594.4,559.0 L595.5,561.4 L596.6,566.4 L597.7,566.4 L598.9,566.1 L600.0,567.4 L601.1,572.9 L602.2,571.9 L603.3,570.7 L604.5,568.5 L605.6,566.8 L606.7,567.0 L607.8,567.1 L608.9,567.3 L610.1,566.5 L611.2,567.5 L612.3,568.0 L613.4,569.6 L614.5,569.4 L615.7,573.5 L616.8,578.7 L617.9,579.1 L619.0,579.0 L620.1,575.5 L621.3,580.5 L622.4,581.8 L623.5,583.0 L624.6,585.2 L625.7,577.2 L626.9,572.9 L628.0,568.8 L629.1,572.6 L630.2,569.3 L631.3,567.5 L632.5,568.8 L633.6,567.0 L634.7,571.8 L635.8,570.0 L636.9,571.7 L638.1,568.9 L639.2,570.1 L640.3,564.0 L641.4,566.4 L642.5,563.1 L643.7,562.7 L644.8,559.3 L645.9,561.4 L647.0,562.1 L648.1,563.3 L649.3,563.5 L650.4,563.6 L651.5,562.5 L652.6,558.5 L653.7,555.0 L654.9,552.6 L656.0,554.1 L657.1,551.1 L658.2,556.7 L659.3,561.7 L660.5,563.7 L661.6,567.5 L662.7,570.7 L663.8,568.5 L664.9,567.4 L666.1,569.9 L667.2,575.6 L668.3,576.5 L669.4,579.2 L670.5,583.8 L671.7,582.9 L672.8,580.7 L673.9,577.3 L675.0,574.7 L676.1,573.7 L677.3,571.7 L678.4,570.3 L679.5,566.4 L680.6,565.2 L681.7,563.4 L682.9,562.1 L684.0,565.4 L685.1,568.9 L686.2,570.3 L687.3,572.4 L688.5,571.1 L689.6,573.2 L690.7,573.0 L691.8,572.8 L692.9,572.1 L694.1,574.5 L695.2,578.6 L696.3,576.7 L697.4,576.4 L698.5,577.7 L699.7,576.9 L700.8,578.6 L701.9,578.4 L703.0,578.2 L704.1,578.5 L705.3,577.7 L706.4,576.0 L707.5,573.6 L708.6,574.1 L709.7,570.9 L710.9,571.5 L712.0,567.6 L713.1,565.4 L714.2,564.3 L715.3,561.7 L716.5,557.7 L717.6,560.4 L718.7,563.3 L719.8,562.7 L720.9,560.0 L722.1,563.2 L723.2,564.2 L724.3,567.9 L725.4,570.3 L726.5,573.1 L727.7,576.0 L728.8,580.6 L729.9,582.1 L731.0,584.6 L732.1,581.5 L733.3,582.3 L734.4,580.1 L735.5,582.8 L736.6,578.5 L737.7,577.4 L738.9,573.2 L740.0,570.6 L741.1,574.6 L742.2,574.7 L743.3,574.7 L744.5,577.0 L745.6,584.3 L746.7,590.8 L747.8,599.1 L748.9,596.3 L750.1,597.3 L751.2,595.2 L752.3,595.5 L753.4,597.2 L754.5,596.3 L755.7,600.2 L756.8,598.5 L757.9,600.9 L759.0,597.0 L760.1,594.2 L761.3,593.9 L762.4,592.4 L763.5,588.6 L764.6,588.4 L765.7,588.9 L766.9,587.5 L768.0,585.3 L769.1,586.6 L770.2,585.4 L771.3,585.2 L772.5,585.7 L773.6,585.1 L774.7,585.5 L775.8,584.4 L776.9,588.7 L778.1,585.6 L779.2,569.1 L780.3,558.8 L781.4,564.7 L782.5,562.6 L783.7,563.8 L784.8,570.2 L785.9,567.9 L787.0,569.9 L788.1,565.6 L789.3,564.7 L790.4,565.8 L791.5,565.3 L792.6,563.8 L793.7,565.6 L794.9,566.5 L796.0,567.7 L797.1,569.8 L798.2,573.5 L799.3,573.8 L800.5,573.3 L801.6,574.3 L802.7,576.0 L803.8,577.5 L804.9,576.2 L806.1,575.3 L807.2,575.2 L808.3,578.5 L809.4,574.7 L810.5,575.1 L811.7,569.9 L812.8,572.3 L813.9,568.5 L815.0,567.8 L816.1,570.2 L817.3,572.8 L818.4,575.3 L819.5,577.4 L820.6,578.9 L821.7,579.5 L822.9,586.0 L824.0,585.0 L825.1,586.3 L826.2,587.2 L827.3,584.6 L828.5,582.3 L829.6,580.3 L830.7,581.5 L831.8,575.7 L832.9,574.4 L834.1,576.7 L835.2,574.0 L836.3,576.1 L837.4,580.2 L838.5,575.9 L839.7,571.1 L840.8,566.7 L841.9,558.3 L843.0,554.7 L844.1,548.1 L845.3,543.4 L846.4,546.6 L847.5,549.2 L848.6,550.8 L849.7,552.3 L850.9,555.6 L852.0,556.9 L853.1,556.4 L854.2,555.5 L855.3,554.0 L856.5,555.6 L857.6,558.2 L858.7,563.5 L859.8,568.2 L860.9,571.7 L862.1,571.2 L863.2,571.2 L864.3,572.9 L865.4,573.9 L866.5,575.7 L867.7,578.2 L868.8,575.9 L869.9,580.8 L871.0,577.2 L872.1,579.3 L873.3,582.4 L874.4,586.1 L875.5,589.7 L876.6,595.2 L877.7,592.8 L878.9,596.4 L880.0,595.7 L881.1,594.3 L882.2,590.5 L883.3,593.8 L884.5,589.1 L885.6,585.0 L886.7,586.6 L887.8,580.9 L888.9,577.8" fill="none" stroke="#7f6ad6" stroke-width="1"/>
<path d="M7.5,556.0 C8.9,555.0 13.1,549.8 16.0,550.0 C18.9,550.2 21.4,555.0 25.0,557.5 C28.6,560.0 33.3,562.8 37.5,565.0 C41.7,567.2 45.8,569.2 50.0,571.0 C54.2,572.8 59.2,575.7 62.5,575.5 C65.8,575.3 67.5,573.8 70.0,570.0 C72.5,566.2 75.0,557.5 77.5,552.5 C80.0,547.5 82.5,543.1 85.0,540.0 C87.5,536.9 89.8,535.8 92.5,534.0 C95.2,532.2 98.1,528.1 101.0,529.5 C103.9,530.9 106.8,538.2 110.0,542.5 C113.2,546.8 116.2,551.7 120.0,555.0 C123.8,558.3 128.3,559.6 132.5,562.5 C136.7,565.4 141.2,570.8 145.0,572.5 C148.8,574.2 150.8,573.2 155.0,573.0 C159.2,572.8 165.0,572.2 170.0,571.0 C175.0,569.8 180.4,565.3 185.0,566.0 C189.6,566.7 192.9,571.0 197.5,575.0 C202.1,579.0 207.5,589.8 212.5,590.0 C217.5,590.2 222.9,577.7 227.5,576.0 C232.1,574.3 235.4,581.2 240.0,580.0 C244.6,578.8 250.0,568.6 255.0,569.0 C260.0,569.4 266.2,579.7 270.0,582.5 C273.8,585.3 274.6,587.2 277.5,586.0 C280.4,584.8 283.8,579.5 287.5,575.0 C291.2,570.5 296.2,561.3 300.0,559.0 C303.8,556.7 306.7,562.3 310.0,561.0 C313.3,559.7 317.1,552.7 320.0,551.0 C322.9,549.3 323.8,548.0 327.5,551.0 C331.2,554.0 337.9,565.8 342.5,569.0 C347.1,572.2 350.8,568.6 355.0,570.0 C359.2,571.4 363.8,577.7 367.5,577.5 C371.2,577.3 373.3,570.7 377.5,569.0 C381.7,567.3 387.9,570.2 392.5,567.5 C397.1,564.8 400.8,552.9 405.0,552.5 C409.2,552.1 412.9,560.6 417.5,565.0 C422.1,569.4 428.8,577.8 432.5,579.0 C436.2,580.2 436.7,573.8 440.0,572.5 C443.3,571.2 448.8,570.4 452.5,571.0 C456.2,571.6 458.6,572.8 462.5,576.0 C466.4,579.2 471.0,588.7 476.0,590.0 C481.0,591.3 486.8,585.0 492.5,584.0 C498.2,583.0 504.2,585.1 510.0,584.0 C515.8,582.9 522.1,577.5 527.5,577.5 C532.9,577.5 537.9,585.7 542.5,584.0 C547.1,582.3 550.8,573.3 555.0,567.5 C559.2,561.7 563.8,551.2 567.5,549.0 C571.2,546.8 573.3,552.3 577.5,554.0 C581.7,555.7 587.9,557.3 592.5,559.0 C597.1,560.7 600.8,561.8 605.0,564.0 C609.2,566.2 612.9,570.5 617.5,572.5 C622.1,574.5 627.9,576.6 632.5,576.0 C637.1,575.4 640.8,571.5 645.0,569.0 C649.2,566.5 652.5,560.0 657.5,561.0 C662.5,562.0 669.6,573.7 675.0,575.0 C680.4,576.3 685.0,568.8 690.0,569.0 C695.0,569.2 699.2,576.5 705.0,576.0 C710.8,575.5 719.6,566.2 724.7,566.3 C729.8,566.4 732.4,574.8 735.6,576.8 C738.9,578.8 741.3,576.2 744.2,578.0 C747.1,579.8 749.9,583.8 752.8,587.3 C755.7,590.8 757.8,598.3 761.4,598.7 C765.0,599.1 771.2,592.9 774.7,589.7 C778.2,586.5 779.5,583.3 782.5,579.5 C785.5,575.7 788.1,567.6 792.7,567.0 C797.3,566.4 803.0,573.8 810.0,576.0 C817.0,578.2 829.2,581.0 835.0,580.0 C840.8,579.0 841.2,574.3 845.0,570.0 C848.8,565.7 853.3,553.8 857.5,554.0 C861.7,554.2 866.2,565.8 870.0,571.0 C873.8,576.2 876.7,582.0 880.0,585.0 C883.3,588.0 888.3,588.3 890.0,589.0" fill="none" stroke="#e6c85e" stroke-width="1.1"/>
</g>
<text x="11" y="523" font-size="7.7" fill="#dcdcdc">RSI</text>
<!-- separators -->
<rect x="7" y="509" width="1266" height="1.6" fill="#8a8a8a"/>
<rect x="7" y="611.2" width="1266" height="1.3" fill="#8a8a8a"/>
<rect x="1229" y="17" width="1" height="611" fill="#8a8a8a"/>
<!-- axis labels -->
<clipPath id="ax"><rect x="1229" y="17" width="44" height="493"/></clipPath><g font-size="8.4" fill="#c8c8c8" clip-path="url(#ax)"><text x="1234.5" y="20.3">8.0000</text><text x="1234.5" y="40.4">6.5000</text><text x="1234.5" y="65.9">5.0000</text><text x="1234.5" y="87.6">4.0000</text><text x="1234.5" y="109.2">3.2000</text><text x="1234.5" y="129.4">2.6000</text><text x="1234.5" y="170.6">1.7000</text><text x="1234.5" y="189.4">1.4000</text><text x="1234.5" y="212.8">1.1000</text><text x="1234.5" y="232.3">0.9000</text><text x="1234.5" y="256.7">0.7000</text><text x="1234.5" y="280.1">0.5500</text><text x="1234.5" y="299.6">0.4500</text><text x="1234.5" y="318.6">0.3700</text><text x="1234.5" y="342.2">0.2900</text><text x="1234.5" y="364.7">0.2300</text><text x="1234.5" y="409.5">0.1450</text><text x="1234.5" y="455.7">0.0900</text><text x="1234.5" y="474.7">0.0740</text><text x="1234.5" y="493.5">0.0610</text><text x="1234.5" y="512.8">0.0500</text></g>
<g font-size="8.4" fill="#ffffff"><rect x="1229.5" y="140.0" width="34.5" height="9.8" fill="#f23645"/><text x="1234.5" y="147.9">2.1604</text><rect x="1229.5" y="152.2" width="34.5" height="9.8" fill="#f23645"/><text x="1234.5" y="160.1">1.9059</text><rect x="1229.5" y="209.6" width="34.5" height="9.8" fill="#f23645"/><text x="1234.5" y="217.5">1.0546</text><rect x="1229.5" y="234.8" width="34.5" height="9.8" fill="#f23645"/><text x="1234.5" y="242.7">0.8134</text><rect x="1229.5" y="262.5" width="34.5" height="9.8" fill="#f23645"/><text x="1234.5" y="270.4">0.6116</text></g>
<g font-size="8.4" fill="#c8c8c8">
<text x="1234.5" y="515.5">100.00</text><text x="1234.5" y="537.9">80.00</text><text x="1234.5" y="559.8">60.00</text><text x="1234.5" y="604">20.00</text>
</g>
<g font-size="8.2" fill="#c8c8c8" text-anchor="middle"><text x="23.8" y="623.6" font-weight="bold">2024</text><text x="58.4" y="623.6">Feb</text><text x="90.9" y="623.6">Mar</text><text x="125.4" y="623.6">Apr</text><text x="159.0" y="623.6">May</text><text x="193.8" y="623.6">Jun</text><text x="227.2" y="623.6">Jul</text><text x="261.6" y="623.6">Aug</text><text x="296.5" y="623.6">Sep</text><text x="330.0" y="623.6">Oct</text><text x="364.4" y="623.6">Nov</text><text x="398.4" y="623.6">Dec</text><text x="432.9" y="623.6" font-weight="bold">2025</text><text x="498.0" y="623.6">Mar</text><text x="533.5" y="623.6">Apr</text><text x="567.4" y="623.6">May</text><text x="601.5" y="623.6">Jun</text><text x="635.5" y="623.6">Jul</text><text x="669.6" y="623.6">Aug</text><text x="704.0" y="623.6">Sep</text><text x="737.8" y="623.6">Oct</text><text x="772.5" y="623.6">Nov</text><text x="806.5" y="623.6">Dec</text><text x="841.6" y="623.6" font-weight="bold">2026</text><text x="906.6" y="623.6">Mar</text><text x="941.0" y="623.6">Apr</text><text x="974.8" y="623.6">May</text><text x="1008.8" y="623.6">Jun</text><text x="1043.0" y="623.6">Jul</text><text x="1077.5" y="623.6">Aug</text><text x="1112.2" y="623.6">Sep</text><text x="1146.5" y="623.6">Oct</text><text x="1180.0" y="623.6">Nov</text><text x="1213.9" y="623.6">Dec</text></g>
<!-- long wicks -->
<path d="M748.5,280V429M779.5,296V330M138.7,150V172.5M213,190V208M266,235V254M418,188V206M468.7,250V268M182.6,123.7V135M120.7,99.4V112M509.8,285V302M540,305V322M591.3,221V235M625.8,262V276M657.4,232.8V245" stroke="#d8d8d8" stroke-width="0.9"/>
<!-- chart label callouts -->
<g fill="#e2333f">
<rect x="975.5" y="191" width="40.5" height="14.5" rx="2"/><path d="M978,204.5L970.4,214.2L983,204.5Z" stroke="#e2333f" stroke-width="1.2"/>
<rect x="975.5" y="216" width="40.5" height="14.3" rx="2"/><path d="M978,229.5L970.4,238.8L983,229.5Z" stroke="#e2333f" stroke-width="1.2"/>
<rect x="975.5" y="243" width="40.5" height="14.3" rx="2"/><path d="M978,256.5L970.4,266.3L983,256.5Z" stroke="#e2333f" stroke-width="1.2"/>
<rect x="997" y="366.5" width="40.5" height="13.5" rx="2"/><path d="M1000,379.5L995,388.3L1005,379.5Z" stroke="#e2333f" stroke-width="1.2"/>
<rect x="998" y="395.8" width="40.5" height="13.5" rx="2"/><path d="M1001,409L995.5,420.2L1006,409Z" stroke="#e2333f" stroke-width="1.2"/>
</g>
<g font-size="8.6" font-weight="bold" fill="#ffffff" text-anchor="middle">
<text x="995.8" y="201.3">1.0526</text>
<text x="995.8" y="226.2">0.8139</text>
<text x="995.8" y="253.2">0.6150</text>
<text x="1017.2" y="376.3">0.1725</text>
<text x="1018.2" y="405.6">0.1274</text>
</g>
<!-- high / low -->
<rect x="1208.2" y="94.3" width="21" height="9.6" fill="#1b2c5a"/>
<rect x="1229.2" y="94.3" width="34.8" height="9.6" fill="#1f3c7c"/>
<rect x="1210.2" y="424.9" width="19" height="10.2" fill="#1b2c5a"/>
<rect x="1229.2" y="424.9" width="34.5" height="10.2" fill="#1f3c7c"/>
<g font-size="8.4" fill="#c9d6f2">
<text x="1210.7" y="101.9">High</text><text x="1234.8" y="101.9">3.4800</text>
<text x="1212.4" y="433">Low</text><text x="1234.8" y="433">0.1130</text>
</g>
<!-- current price -->
<rect x="1230" y="372" width="33.7" height="9.6" fill="#f0433a"/>
<text x="1234.8" y="379.9" font-size="8.4" fill="#ffe8e8">0.1795</text>
<rect x="1229.4" y="382.8" width="40.9" height="18.6" rx="1" fill="#e4e4e4"/>
<text x="1234.8" y="391.2" font-size="8.4" fill="#222">0.1749</text>
<text x="1234.8" y="399.2" font-size="8.4" fill="#555">11:31:35</text>
<!-- rsi tags -->
<rect x="1229.6" y="570.8" width="29.4" height="10.2" fill="#8860d0"/>
<text x="1234.6" y="579" font-size="8.4" fill="#f0eaff">42.81</text>
<rect x="1229.6" y="581.6" width="29.4" height="10.6" fill="#f0d424"/>
<text x="1234.6" y="590" font-size="8.4" fill="#1a1a1a">32.83</text>
<!-- lightning icon -->
<circle cx="891.4" cy="501.7" r="6" fill="#2a1040" stroke="#a874d8" stroke-width="1.1"/>
<path d="M893.2,497.6L889.2,502.3H891.5L889.8,505.9L893.8,501.1H891.5Z" fill="#c79ae8"/>
<!-- logo -->
<g fill="#e8e8e8">
<path d="M7.5,642.2H15V651.6H11.2V645.5H7.5Z"/>
<circle cx="18.3" cy="644" r="1.6"/>
<path d="M21,642.2H25.9L22.4,651.6H17.8Z"/>
</g>
<text x="30.6" y="651.6" font-size="13.2" fill="#e8e8e8" stroke="#e8e8e8" stroke-width="0.45" textLength="74" lengthAdjust="spacingAndGlyphs">TradingView</text>
</svg>
</body></html>
